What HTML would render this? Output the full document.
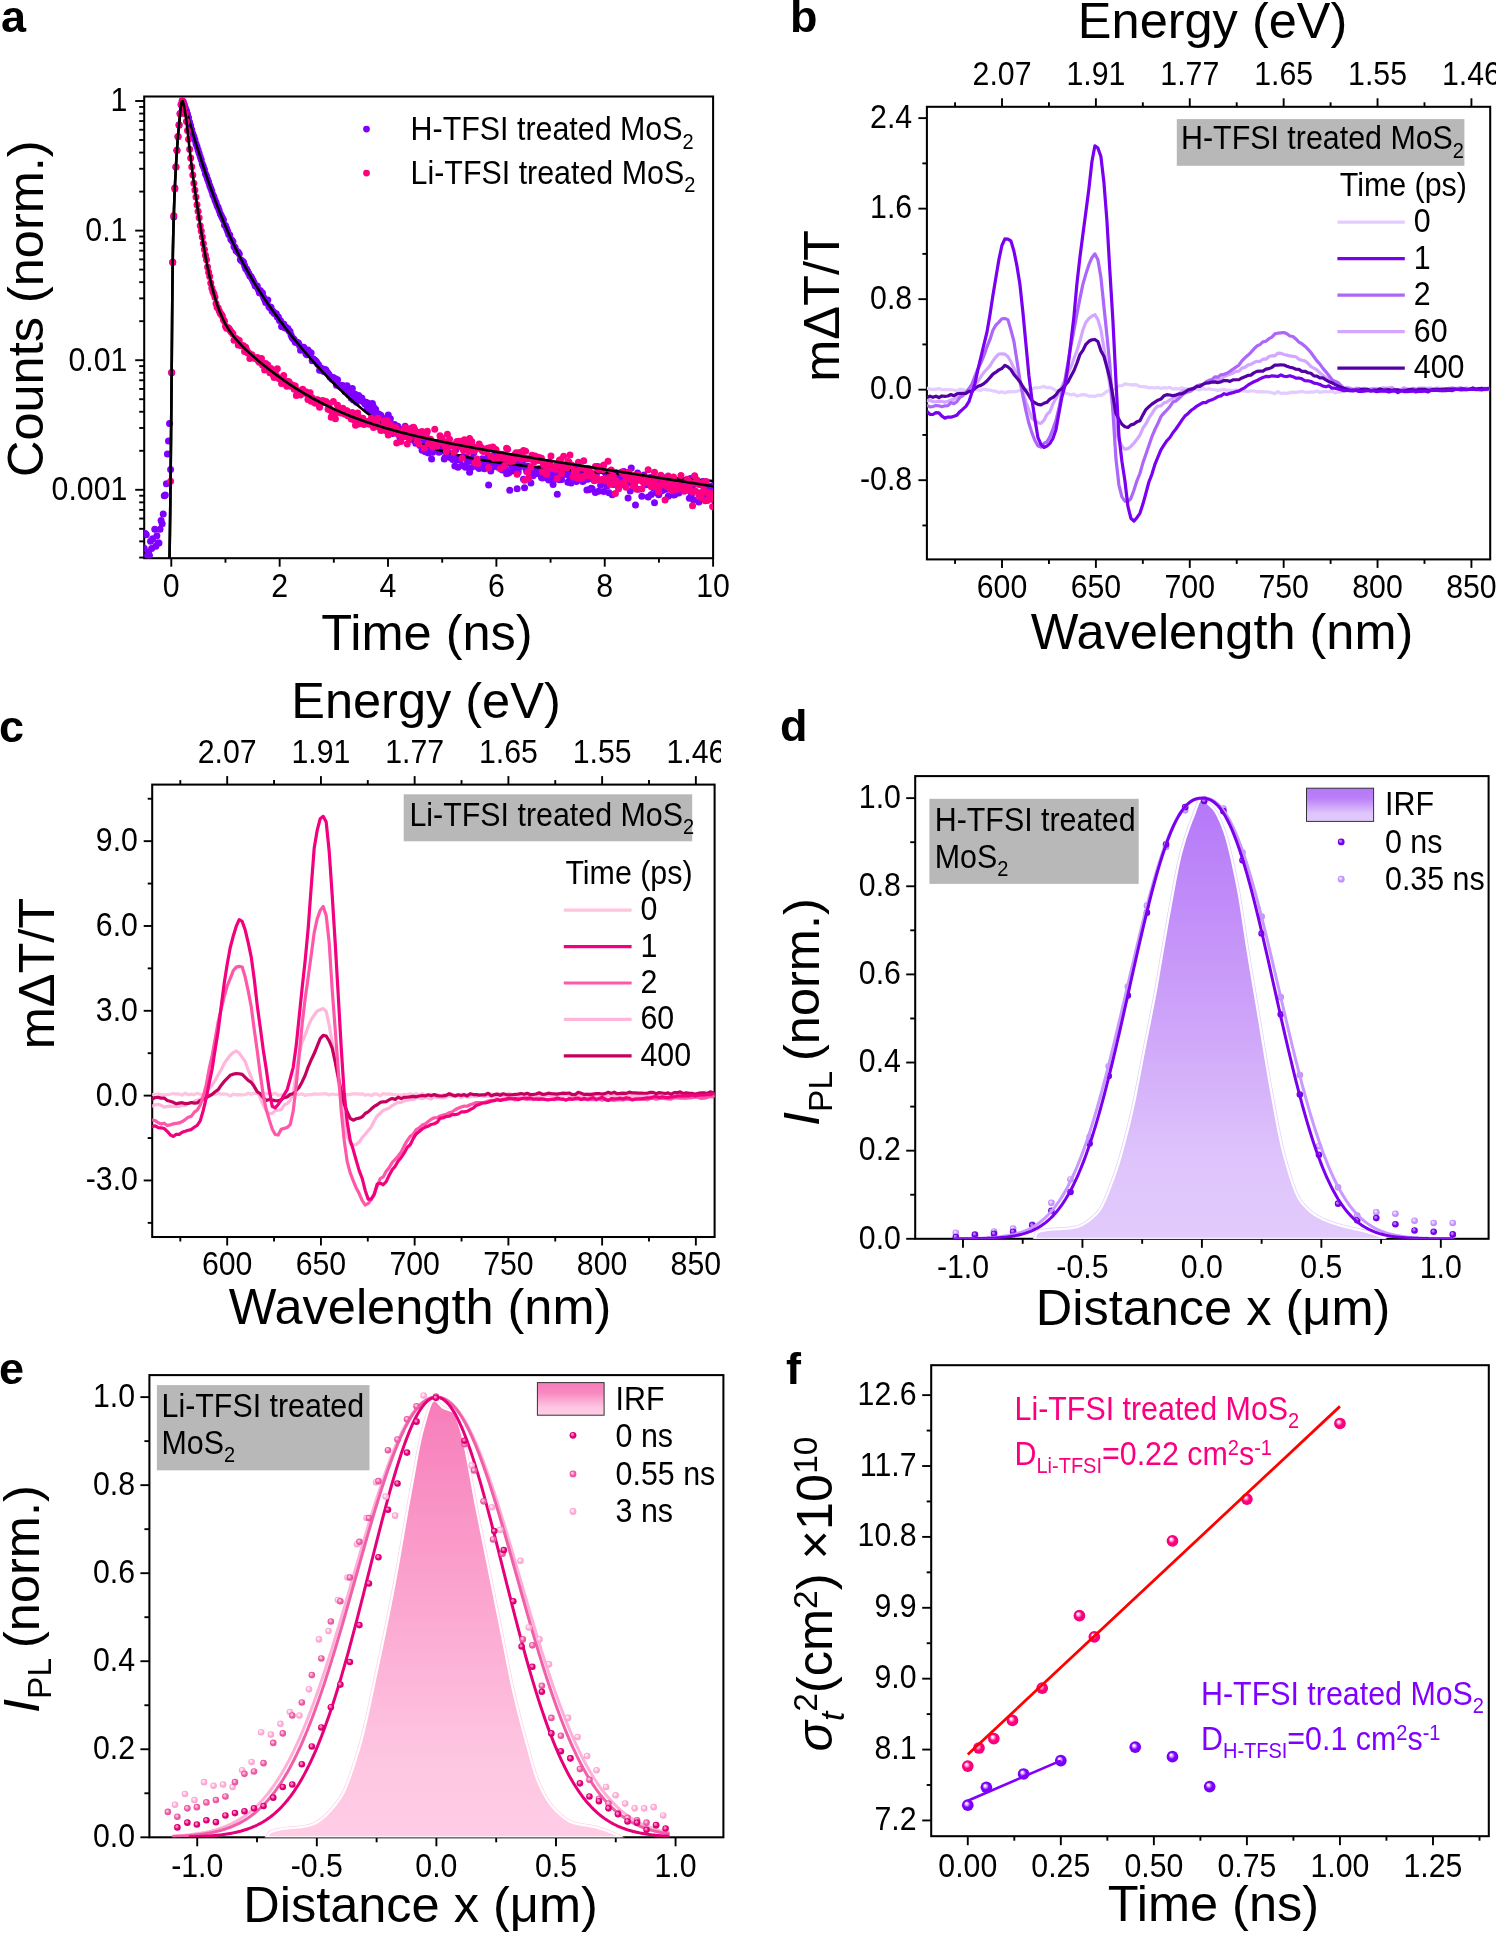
<!DOCTYPE html>
<html><head><meta charset="utf-8"><style>
html,body{margin:0;padding:0;background:#fff;}
svg{display:block;will-change:transform;}
text{font-family:"Liberation Sans", sans-serif;}
</style></head><body>
<svg width="1496" height="1933" viewBox="0 0 1496 1933">
<defs><clipPath id="clipA"><rect x="144.2" y="96.5" width="568.9" height="461.7"/></clipPath>
<clipPath id="clipB"><rect x="926.9" y="106.8" width="563.3" height="452.6"/></clipPath>
<clipPath id="clipCtop"><rect x="0" y="650" width="721" height="200"/></clipPath>
<clipPath id="clipC"><rect x="152.2" y="784.6" width="562.4" height="452.4"/></clipPath>
<clipPath id="clipD"><rect x="915.2" y="776.1" width="573.4" height="462.7"/></clipPath>
<linearGradient id="irfD" x1="0" y1="0" x2="0" y2="1"><stop offset="0" stop-color="#B577F8"/><stop offset="0.55" stop-color="#D0A8F9"/><stop offset="0.82" stop-color="#DEC4FB"/><stop offset="1" stop-color="#E2CAFC"/></linearGradient>
<linearGradient id="irfDbox" x1="0" y1="0" x2="0" y2="1"><stop offset="0" stop-color="#B577F8"/><stop offset="0.3" stop-color="#BA80F8"/><stop offset="0.75" stop-color="#DEC4FB"/><stop offset="1" stop-color="#E2CAFC"/></linearGradient>
<radialGradient id="sD0" cx="0.5" cy="0.5" r="0.5" fx="0.36" fy="0.33"><stop offset="0" stop-color="#FFFFFF"/><stop offset="0.1" stop-color="#FFFFFF"/><stop offset="0.34" stop-color="#B878FF"/><stop offset="0.55" stop-color="#7A00EC"/><stop offset="1" stop-color="#6C00D8"/></radialGradient>
<radialGradient id="sD0s" cx="0.5" cy="0.5" r="0.5" fx="0.34" fy="0.3"><stop offset="0" stop-color="#B878FF"/><stop offset="0.3" stop-color="#B878FF"/><stop offset="0.6" stop-color="#7A00EC"/><stop offset="1" stop-color="#6C00D8"/></radialGradient>
<radialGradient id="sD1" cx="0.5" cy="0.5" r="0.5" fx="0.36" fy="0.33"><stop offset="0" stop-color="#FFFFFF"/><stop offset="0.1" stop-color="#FFFFFF"/><stop offset="0.34" stop-color="#EAD8FF"/><stop offset="0.55" stop-color="#C89AFF"/><stop offset="1" stop-color="#BC88F8"/></radialGradient>
<radialGradient id="sD1s" cx="0.5" cy="0.5" r="0.5" fx="0.34" fy="0.3"><stop offset="0" stop-color="#EAD8FF"/><stop offset="0.3" stop-color="#EAD8FF"/><stop offset="0.6" stop-color="#C89AFF"/><stop offset="1" stop-color="#BC88F8"/></radialGradient>
<clipPath id="clipE"><rect x="149.4" y="1375.1" width="574" height="462.2"/></clipPath>
<linearGradient id="irfE" x1="0" y1="0" x2="0" y2="1"><stop offset="0" stop-color="#F77DBA"/><stop offset="0.55" stop-color="#FCAED4"/><stop offset="0.82" stop-color="#FEC6E2"/><stop offset="1" stop-color="#FFCCE6"/></linearGradient>
<linearGradient id="irfEbox" x1="0" y1="0" x2="0" y2="1"><stop offset="0" stop-color="#F77DBA"/><stop offset="0.3" stop-color="#F887C0"/><stop offset="0.75" stop-color="#FEC6E2"/><stop offset="1" stop-color="#FFCCE6"/></linearGradient>
<radialGradient id="sE0" cx="0.5" cy="0.5" r="0.5" fx="0.36" fy="0.33"><stop offset="0" stop-color="#FFFFFF"/><stop offset="0.1" stop-color="#FFFFFF"/><stop offset="0.34" stop-color="#FF80C0"/><stop offset="0.55" stop-color="#E6007A"/><stop offset="1" stop-color="#D20070"/></radialGradient>
<radialGradient id="sE0s" cx="0.5" cy="0.5" r="0.5" fx="0.34" fy="0.3"><stop offset="0" stop-color="#FF80C0"/><stop offset="0.3" stop-color="#FF80C0"/><stop offset="0.6" stop-color="#E6007A"/><stop offset="1" stop-color="#D20070"/></radialGradient>
<radialGradient id="sE1" cx="0.5" cy="0.5" r="0.5" fx="0.36" fy="0.33"><stop offset="0" stop-color="#FFFFFF"/><stop offset="0.1" stop-color="#FFFFFF"/><stop offset="0.34" stop-color="#FFB8DC"/><stop offset="0.55" stop-color="#F060A8"/><stop offset="1" stop-color="#E4509C"/></radialGradient>
<radialGradient id="sE1s" cx="0.5" cy="0.5" r="0.5" fx="0.34" fy="0.3"><stop offset="0" stop-color="#FFB8DC"/><stop offset="0.3" stop-color="#FFB8DC"/><stop offset="0.6" stop-color="#F060A8"/><stop offset="1" stop-color="#E4509C"/></radialGradient>
<radialGradient id="sE2" cx="0.5" cy="0.5" r="0.5" fx="0.36" fy="0.33"><stop offset="0" stop-color="#FFFFFF"/><stop offset="0.1" stop-color="#FFFFFF"/><stop offset="0.34" stop-color="#FFE4F2"/><stop offset="0.55" stop-color="#FFB0D8"/><stop offset="1" stop-color="#F8A0CC"/></radialGradient>
<radialGradient id="sE2s" cx="0.5" cy="0.5" r="0.5" fx="0.34" fy="0.3"><stop offset="0" stop-color="#FFE4F2"/><stop offset="0.3" stop-color="#FFE4F2"/><stop offset="0.6" stop-color="#FFB0D8"/><stop offset="1" stop-color="#F8A0CC"/></radialGradient>
<radialGradient id="sFp" cx="0.5" cy="0.5" r="0.5" fx="0.36" fy="0.33"><stop offset="0" stop-color="#FFFFFF"/><stop offset="0.1" stop-color="#FFFFFF"/><stop offset="0.34" stop-color="#FF80C0"/><stop offset="0.55" stop-color="#FF0080"/><stop offset="1" stop-color="#F2007A"/></radialGradient>
<radialGradient id="sFps" cx="0.5" cy="0.5" r="0.5" fx="0.34" fy="0.3"><stop offset="0" stop-color="#FF80C0"/><stop offset="0.3" stop-color="#FF80C0"/><stop offset="0.6" stop-color="#FF0080"/><stop offset="1" stop-color="#F2007A"/></radialGradient>
<radialGradient id="sFv" cx="0.5" cy="0.5" r="0.5" fx="0.36" fy="0.33"><stop offset="0" stop-color="#FFFFFF"/><stop offset="0.1" stop-color="#FFFFFF"/><stop offset="0.34" stop-color="#C080FF"/><stop offset="0.55" stop-color="#8000FF"/><stop offset="1" stop-color="#7600F0"/></radialGradient>
<radialGradient id="sFvs" cx="0.5" cy="0.5" r="0.5" fx="0.34" fy="0.3"><stop offset="0" stop-color="#C080FF"/><stop offset="0.3" stop-color="#C080FF"/><stop offset="0.6" stop-color="#8000FF"/><stop offset="1" stop-color="#7600F0"/></radialGradient></defs>
<text x="1" y="31.7" font-size="45" font-weight="bold">a</text>
<rect x="144.2" y="96.5" width="568.9" height="461.7" fill="none" stroke="#000" stroke-width="2.05"/>
<line x1="171.29" y1="558.2" x2="171.29" y2="566.7" stroke="#000" stroke-width="1.9"/>
<text transform="translate(171.29,596.9) scale(1,1.07)" font-size="30.3" text-anchor="middle">0</text>
<line x1="279.65" y1="558.2" x2="279.65" y2="566.7" stroke="#000" stroke-width="1.9"/>
<text transform="translate(279.65,596.9) scale(1,1.07)" font-size="30.3" text-anchor="middle">2</text>
<line x1="388.01" y1="558.2" x2="388.01" y2="566.7" stroke="#000" stroke-width="1.9"/>
<text transform="translate(388.01,596.9) scale(1,1.07)" font-size="30.3" text-anchor="middle">4</text>
<line x1="496.38" y1="558.2" x2="496.38" y2="566.7" stroke="#000" stroke-width="1.9"/>
<text transform="translate(496.38,596.9) scale(1,1.07)" font-size="30.3" text-anchor="middle">6</text>
<line x1="604.74" y1="558.2" x2="604.74" y2="566.7" stroke="#000" stroke-width="1.9"/>
<text transform="translate(604.74,596.9) scale(1,1.07)" font-size="30.3" text-anchor="middle">8</text>
<line x1="713.1" y1="558.2" x2="713.1" y2="566.7" stroke="#000" stroke-width="1.9"/>
<text transform="translate(713.1,596.9) scale(1,1.07)" font-size="30.3" text-anchor="middle">10</text>
<line x1="225.47" y1="558.2" x2="225.47" y2="562.7" stroke="#000" stroke-width="1.9"/>
<line x1="333.83" y1="558.2" x2="333.83" y2="562.7" stroke="#000" stroke-width="1.9"/>
<line x1="442.2" y1="558.2" x2="442.2" y2="562.7" stroke="#000" stroke-width="1.9"/>
<line x1="550.56" y1="558.2" x2="550.56" y2="562.7" stroke="#000" stroke-width="1.9"/>
<line x1="658.92" y1="558.2" x2="658.92" y2="562.7" stroke="#000" stroke-width="1.9"/>
<line x1="135.2" y1="101" x2="144.2" y2="101" stroke="#000" stroke-width="1.9"/>
<text transform="translate(127.4,111.3) scale(1,1.07)" font-size="30.3" text-anchor="end">1</text>
<line x1="135.2" y1="230.6" x2="144.2" y2="230.6" stroke="#000" stroke-width="1.9"/>
<text transform="translate(127.4,240.9) scale(1,1.07)" font-size="30.3" text-anchor="end">0.1</text>
<line x1="135.2" y1="360.2" x2="144.2" y2="360.2" stroke="#000" stroke-width="1.9"/>
<text transform="translate(127.4,370.5) scale(1,1.07)" font-size="30.3" text-anchor="end">0.01</text>
<line x1="135.2" y1="489.8" x2="144.2" y2="489.8" stroke="#000" stroke-width="1.9"/>
<text transform="translate(127.4,500.1) scale(1,1.07)" font-size="30.3" text-anchor="end">0.001</text>
<line x1="139.2" y1="191.59" x2="144.2" y2="191.59" stroke="#000" stroke-width="1.9"/>
<line x1="139.2" y1="168.77" x2="144.2" y2="168.77" stroke="#000" stroke-width="1.9"/>
<line x1="139.2" y1="152.57" x2="144.2" y2="152.57" stroke="#000" stroke-width="1.9"/>
<line x1="139.2" y1="140.01" x2="144.2" y2="140.01" stroke="#000" stroke-width="1.9"/>
<line x1="139.2" y1="129.75" x2="144.2" y2="129.75" stroke="#000" stroke-width="1.9"/>
<line x1="139.2" y1="121.08" x2="144.2" y2="121.08" stroke="#000" stroke-width="1.9"/>
<line x1="139.2" y1="113.56" x2="144.2" y2="113.56" stroke="#000" stroke-width="1.9"/>
<line x1="139.2" y1="106.93" x2="144.2" y2="106.93" stroke="#000" stroke-width="1.9"/>
<line x1="139.2" y1="321.19" x2="144.2" y2="321.19" stroke="#000" stroke-width="1.9"/>
<line x1="139.2" y1="298.37" x2="144.2" y2="298.37" stroke="#000" stroke-width="1.9"/>
<line x1="139.2" y1="282.17" x2="144.2" y2="282.17" stroke="#000" stroke-width="1.9"/>
<line x1="139.2" y1="269.61" x2="144.2" y2="269.61" stroke="#000" stroke-width="1.9"/>
<line x1="139.2" y1="259.35" x2="144.2" y2="259.35" stroke="#000" stroke-width="1.9"/>
<line x1="139.2" y1="250.68" x2="144.2" y2="250.68" stroke="#000" stroke-width="1.9"/>
<line x1="139.2" y1="243.16" x2="144.2" y2="243.16" stroke="#000" stroke-width="1.9"/>
<line x1="139.2" y1="236.53" x2="144.2" y2="236.53" stroke="#000" stroke-width="1.9"/>
<line x1="139.2" y1="450.79" x2="144.2" y2="450.79" stroke="#000" stroke-width="1.9"/>
<line x1="139.2" y1="427.97" x2="144.2" y2="427.97" stroke="#000" stroke-width="1.9"/>
<line x1="139.2" y1="411.77" x2="144.2" y2="411.77" stroke="#000" stroke-width="1.9"/>
<line x1="139.2" y1="399.21" x2="144.2" y2="399.21" stroke="#000" stroke-width="1.9"/>
<line x1="139.2" y1="388.95" x2="144.2" y2="388.95" stroke="#000" stroke-width="1.9"/>
<line x1="139.2" y1="380.28" x2="144.2" y2="380.28" stroke="#000" stroke-width="1.9"/>
<line x1="139.2" y1="372.76" x2="144.2" y2="372.76" stroke="#000" stroke-width="1.9"/>
<line x1="139.2" y1="366.13" x2="144.2" y2="366.13" stroke="#000" stroke-width="1.9"/>
<line x1="139.2" y1="557.57" x2="144.2" y2="557.57" stroke="#000" stroke-width="1.9"/>
<line x1="139.2" y1="541.37" x2="144.2" y2="541.37" stroke="#000" stroke-width="1.9"/>
<line x1="139.2" y1="528.81" x2="144.2" y2="528.81" stroke="#000" stroke-width="1.9"/>
<line x1="139.2" y1="518.55" x2="144.2" y2="518.55" stroke="#000" stroke-width="1.9"/>
<line x1="139.2" y1="509.88" x2="144.2" y2="509.88" stroke="#000" stroke-width="1.9"/>
<line x1="139.2" y1="502.36" x2="144.2" y2="502.36" stroke="#000" stroke-width="1.9"/>
<line x1="139.2" y1="495.73" x2="144.2" y2="495.73" stroke="#000" stroke-width="1.9"/>
<text x="427" y="650.3" font-size="50.5" text-anchor="middle">Time (ns)</text>
<text transform="translate(43,308.7) rotate(-90)" font-size="50.5" text-anchor="middle">Counts (norm.)</text>
<g clip-path="url(#clipA)">
<g fill="#8000FF"><circle cx="144.2" cy="548.15" r="3.5"/><circle cx="145.26" cy="533.41" r="3.5"/><circle cx="146.31" cy="534.71" r="3.5"/><circle cx="147.37" cy="555.4" r="3.5"/><circle cx="148.43" cy="552.32" r="3.5"/><circle cx="149.48" cy="555.41" r="3.5"/><circle cx="150.54" cy="541.24" r="3.5"/><circle cx="151.6" cy="548.51" r="3.5"/><circle cx="152.65" cy="538.68" r="3.5"/><circle cx="154.77" cy="529.29" r="3.5"/><circle cx="155.82" cy="546.24" r="3.5"/><circle cx="156.88" cy="535.75" r="3.5"/><circle cx="157.93" cy="543.02" r="3.5"/><circle cx="158.99" cy="542.99" r="3.5"/><circle cx="160.05" cy="529.3" r="3.5"/><circle cx="161.1" cy="520.59" r="3.5"/><circle cx="162.16" cy="523.7" r="3.5"/><circle cx="163.22" cy="513.95" r="3.5"/><circle cx="164.27" cy="495.84" r="3.5"/><circle cx="165.33" cy="495.01" r="3.5"/><circle cx="166.39" cy="483.85" r="3.5"/><circle cx="167.44" cy="454.01" r="3.5"/><circle cx="168.5" cy="440.98" r="3.5"/><circle cx="169.56" cy="423.38" r="3.5"/><circle cx="170.61" cy="469.45" r="3.5"/><circle cx="171.67" cy="372.73" r="3.5"/><circle cx="172.73" cy="262.38" r="3.5"/><circle cx="173.78" cy="217.1" r="3.5"/><circle cx="174.84" cy="188.04" r="3.5"/><circle cx="175.9" cy="166.89" r="3.5"/><circle cx="176.95" cy="150.29" r="3.5"/><circle cx="178.01" cy="136.64" r="3.5"/><circle cx="179.07" cy="124.85" r="3.5"/><circle cx="180.12" cy="113.41" r="3.5"/><circle cx="181.18" cy="104.42" r="3.5"/><circle cx="182.24" cy="100.84" r="3.5"/><circle cx="183.29" cy="101.82" r="3.5"/><circle cx="184.35" cy="104.74" r="3.5"/><circle cx="185.4" cy="107.89" r="3.5"/><circle cx="186.46" cy="110.78" r="3.5"/><circle cx="187.52" cy="114.34" r="3.5"/><circle cx="188.57" cy="117.8" r="3.5"/><circle cx="189.63" cy="122.22" r="3.5"/><circle cx="190.69" cy="125.85" r="3.5"/><circle cx="191.74" cy="129.78" r="3.5"/><circle cx="192.8" cy="133.65" r="3.5"/><circle cx="193.86" cy="136.54" r="3.5"/><circle cx="194.91" cy="139.86" r="3.5"/><circle cx="195.97" cy="143.74" r="3.5"/><circle cx="197.03" cy="146.39" r="3.5"/><circle cx="198.08" cy="149.95" r="3.5"/><circle cx="199.14" cy="153.37" r="3.5"/><circle cx="200.2" cy="156.76" r="3.5"/><circle cx="201.25" cy="159.82" r="3.5"/><circle cx="202.31" cy="164.02" r="3.5"/><circle cx="203.37" cy="166.42" r="3.5"/><circle cx="204.42" cy="169.61" r="3.5"/><circle cx="205.48" cy="173.84" r="3.5"/><circle cx="206.54" cy="175.99" r="3.5"/><circle cx="207.59" cy="179.36" r="3.5"/><circle cx="208.65" cy="181.91" r="3.5"/><circle cx="209.7" cy="185.54" r="3.5"/><circle cx="210.76" cy="188.31" r="3.5"/><circle cx="211.82" cy="191.07" r="3.5"/><circle cx="212.87" cy="194.65" r="3.5"/><circle cx="213.93" cy="196.71" r="3.5"/><circle cx="214.99" cy="199.95" r="3.5"/><circle cx="216.04" cy="202.41" r="3.5"/><circle cx="217.1" cy="205.79" r="3.5"/><circle cx="218.16" cy="207.53" r="3.5"/><circle cx="219.21" cy="210.52" r="3.5"/><circle cx="220.27" cy="213.69" r="3.5"/><circle cx="221.33" cy="215.78" r="3.5"/><circle cx="222.38" cy="217.94" r="3.5"/><circle cx="223.44" cy="220.12" r="3.5"/><circle cx="224.5" cy="225.02" r="3.5"/><circle cx="225.55" cy="225.73" r="3.5"/><circle cx="226.61" cy="228.49" r="3.5"/><circle cx="227.67" cy="231.33" r="3.5"/><circle cx="228.72" cy="234.44" r="3.5"/><circle cx="229.78" cy="235.01" r="3.5"/><circle cx="230.84" cy="239.36" r="3.5"/><circle cx="231.89" cy="240.15" r="3.5"/><circle cx="232.95" cy="241.79" r="3.5"/><circle cx="234" cy="246.51" r="3.5"/><circle cx="235.06" cy="247.57" r="3.5"/><circle cx="236.12" cy="250.66" r="3.5"/><circle cx="237.17" cy="251.39" r="3.5"/><circle cx="238.23" cy="252.33" r="3.5"/><circle cx="239.29" cy="253.92" r="3.5"/><circle cx="240.34" cy="259.61" r="3.5"/><circle cx="241.4" cy="260.46" r="3.5"/><circle cx="242.46" cy="261.2" r="3.5"/><circle cx="243.51" cy="262.29" r="3.5"/><circle cx="244.57" cy="265.39" r="3.5"/><circle cx="245.63" cy="268.55" r="3.5"/><circle cx="246.68" cy="269.34" r="3.5"/><circle cx="247.74" cy="271.56" r="3.5"/><circle cx="248.8" cy="273.62" r="3.5"/><circle cx="249.85" cy="276.07" r="3.5"/><circle cx="250.91" cy="276.61" r="3.5"/><circle cx="251.97" cy="278.48" r="3.5"/><circle cx="253.02" cy="280.73" r="3.5"/><circle cx="254.08" cy="282.64" r="3.5"/><circle cx="255.14" cy="285.7" r="3.5"/><circle cx="256.19" cy="286.43" r="3.5"/><circle cx="257.25" cy="286.03" r="3.5"/><circle cx="258.31" cy="289.45" r="3.5"/><circle cx="259.36" cy="292.77" r="3.5"/><circle cx="260.42" cy="290.79" r="3.5"/><circle cx="261.47" cy="293.45" r="3.5"/><circle cx="262.53" cy="292.99" r="3.5"/><circle cx="263.59" cy="297.29" r="3.5"/><circle cx="264.64" cy="299.61" r="3.5"/><circle cx="265.7" cy="302.62" r="3.5"/><circle cx="266.76" cy="300.23" r="3.5"/><circle cx="267.81" cy="300.03" r="3.5"/><circle cx="268.87" cy="306.4" r="3.5"/><circle cx="269.93" cy="307.67" r="3.5"/><circle cx="270.98" cy="307.31" r="3.5"/><circle cx="272.04" cy="310.98" r="3.5"/><circle cx="273.1" cy="311.6" r="3.5"/><circle cx="274.15" cy="313.21" r="3.5"/><circle cx="275.21" cy="313.81" r="3.5"/><circle cx="276.27" cy="313.82" r="3.5"/><circle cx="277.32" cy="316.97" r="3.5"/><circle cx="278.38" cy="316.93" r="3.5"/><circle cx="279.44" cy="320.56" r="3.5"/><circle cx="280.49" cy="320.7" r="3.5"/><circle cx="281.55" cy="326.45" r="3.5"/><circle cx="282.61" cy="326.62" r="3.5"/><circle cx="283.66" cy="324.03" r="3.5"/><circle cx="284.72" cy="327.84" r="3.5"/><circle cx="285.77" cy="327.1" r="3.5"/><circle cx="286.83" cy="328.5" r="3.5"/><circle cx="287.89" cy="328.42" r="3.5"/><circle cx="288.94" cy="330.64" r="3.5"/><circle cx="290" cy="331.57" r="3.5"/><circle cx="291.06" cy="334.98" r="3.5"/><circle cx="292.11" cy="337.43" r="3.5"/><circle cx="293.17" cy="338.8" r="3.5"/><circle cx="294.23" cy="339.6" r="3.5"/><circle cx="295.28" cy="342.21" r="3.5"/><circle cx="296.34" cy="342.27" r="3.5"/><circle cx="297.4" cy="342.59" r="3.5"/><circle cx="298.45" cy="343.12" r="3.5"/><circle cx="299.51" cy="345.58" r="3.5"/><circle cx="300.57" cy="350.31" r="3.5"/><circle cx="301.62" cy="347.45" r="3.5"/><circle cx="302.68" cy="348" r="3.5"/><circle cx="303.74" cy="347.35" r="3.5"/><circle cx="304.79" cy="349.59" r="3.5"/><circle cx="305.85" cy="353.47" r="3.5"/><circle cx="306.91" cy="354.83" r="3.5"/><circle cx="307.96" cy="349.92" r="3.5"/><circle cx="309.02" cy="353.74" r="3.5"/><circle cx="310.07" cy="352.48" r="3.5"/><circle cx="311.13" cy="352.9" r="3.5"/><circle cx="312.19" cy="360.77" r="3.5"/><circle cx="313.24" cy="358.97" r="3.5"/><circle cx="314.3" cy="359.87" r="3.5"/><circle cx="315.36" cy="360.69" r="3.5"/><circle cx="316.41" cy="361.78" r="3.5"/><circle cx="317.47" cy="363.65" r="3.5"/><circle cx="318.53" cy="364.75" r="3.5"/><circle cx="319.58" cy="370.16" r="3.5"/><circle cx="320.64" cy="367.66" r="3.5"/><circle cx="321.7" cy="370.2" r="3.5"/><circle cx="322.75" cy="368.91" r="3.5"/><circle cx="323.81" cy="371.46" r="3.5"/><circle cx="324.87" cy="369.59" r="3.5"/><circle cx="325.92" cy="370.02" r="3.5"/><circle cx="326.98" cy="372.3" r="3.5"/><circle cx="328.04" cy="373.22" r="3.5"/><circle cx="329.09" cy="374.75" r="3.5"/><circle cx="330.15" cy="377.19" r="3.5"/><circle cx="331.21" cy="377.31" r="3.5"/><circle cx="332.26" cy="379.17" r="3.5"/><circle cx="333.32" cy="377.58" r="3.5"/><circle cx="334.38" cy="379.52" r="3.5"/><circle cx="335.43" cy="378.8" r="3.5"/><circle cx="336.49" cy="385.31" r="3.5"/><circle cx="337.54" cy="379.67" r="3.5"/><circle cx="338.6" cy="385.36" r="3.5"/><circle cx="339.66" cy="386.15" r="3.5"/><circle cx="340.71" cy="385.37" r="3.5"/><circle cx="341.77" cy="387.35" r="3.5"/><circle cx="342.83" cy="385.6" r="3.5"/><circle cx="343.88" cy="389.09" r="3.5"/><circle cx="344.94" cy="391.53" r="3.5"/><circle cx="346" cy="391.66" r="3.5"/><circle cx="347.05" cy="385.85" r="3.5"/><circle cx="348.11" cy="390.48" r="3.5"/><circle cx="349.17" cy="395.27" r="3.5"/><circle cx="350.22" cy="392.24" r="3.5"/><circle cx="351.28" cy="398.31" r="3.5"/><circle cx="352.34" cy="388.38" r="3.5"/><circle cx="353.39" cy="399.91" r="3.5"/><circle cx="354.45" cy="393.97" r="3.5"/><circle cx="355.51" cy="394.56" r="3.5"/><circle cx="356.56" cy="402.19" r="3.5"/><circle cx="357.62" cy="396.95" r="3.5"/><circle cx="358.68" cy="395.49" r="3.5"/><circle cx="359.73" cy="398" r="3.5"/><circle cx="360.79" cy="399.49" r="3.5"/><circle cx="361.84" cy="398.01" r="3.5"/><circle cx="362.9" cy="401.45" r="3.5"/><circle cx="363.96" cy="401.65" r="3.5"/><circle cx="365.01" cy="404.09" r="3.5"/><circle cx="366.07" cy="402.25" r="3.5"/><circle cx="367.13" cy="408.75" r="3.5"/><circle cx="368.18" cy="403.3" r="3.5"/><circle cx="369.24" cy="408.77" r="3.5"/><circle cx="370.3" cy="411.87" r="3.5"/><circle cx="371.35" cy="407.21" r="3.5"/><circle cx="372.41" cy="403.41" r="3.5"/><circle cx="373.47" cy="406.7" r="3.5"/><circle cx="374.52" cy="412.99" r="3.5"/><circle cx="375.58" cy="409.24" r="3.5"/><circle cx="376.64" cy="414.42" r="3.5"/><circle cx="377.69" cy="413.96" r="3.5"/><circle cx="378.75" cy="413.95" r="3.5"/><circle cx="379.81" cy="424.99" r="3.5"/><circle cx="380.86" cy="415.19" r="3.5"/><circle cx="381.92" cy="420.99" r="3.5"/><circle cx="382.98" cy="420.42" r="3.5"/><circle cx="384.03" cy="424.65" r="3.5"/><circle cx="385.09" cy="425.7" r="3.5"/><circle cx="386.15" cy="423.98" r="3.5"/><circle cx="387.2" cy="417.5" r="3.5"/><circle cx="388.26" cy="415.09" r="3.5"/><circle cx="389.31" cy="422.51" r="3.5"/><circle cx="390.37" cy="418.8" r="3.5"/><circle cx="391.43" cy="425.14" r="3.5"/><circle cx="392.48" cy="433.61" r="3.5"/><circle cx="393.54" cy="424.95" r="3.5"/><circle cx="394.6" cy="424.48" r="3.5"/><circle cx="395.65" cy="429.05" r="3.5"/><circle cx="396.71" cy="426.61" r="3.5"/><circle cx="397.77" cy="426.21" r="3.5"/><circle cx="398.82" cy="433.4" r="3.5"/><circle cx="399.88" cy="437.2" r="3.5"/><circle cx="400.94" cy="431.92" r="3.5"/><circle cx="401.99" cy="432.61" r="3.5"/><circle cx="403.05" cy="433.99" r="3.5"/><circle cx="404.11" cy="428.72" r="3.5"/><circle cx="405.16" cy="426.32" r="3.5"/><circle cx="406.22" cy="436.43" r="3.5"/><circle cx="407.28" cy="431.97" r="3.5"/><circle cx="408.33" cy="431.56" r="3.5"/><circle cx="409.39" cy="433.2" r="3.5"/><circle cx="410.45" cy="432.36" r="3.5"/><circle cx="411.5" cy="439.66" r="3.5"/><circle cx="412.56" cy="434.95" r="3.5"/><circle cx="413.61" cy="430" r="3.5"/><circle cx="414.67" cy="435.86" r="3.5"/><circle cx="415.73" cy="443.35" r="3.5"/><circle cx="416.78" cy="437.92" r="3.5"/><circle cx="417.84" cy="435.5" r="3.5"/><circle cx="418.9" cy="440.18" r="3.5"/><circle cx="419.95" cy="445.42" r="3.5"/><circle cx="421.01" cy="435.84" r="3.5"/><circle cx="422.07" cy="450.3" r="3.5"/><circle cx="423.12" cy="441.67" r="3.5"/><circle cx="424.18" cy="444.76" r="3.5"/><circle cx="425.24" cy="451.64" r="3.5"/><circle cx="426.29" cy="439.76" r="3.5"/><circle cx="427.35" cy="444.42" r="3.5"/><circle cx="428.41" cy="453.06" r="3.5"/><circle cx="429.46" cy="444.1" r="3.5"/><circle cx="430.52" cy="449.91" r="3.5"/><circle cx="431.58" cy="459.04" r="3.5"/><circle cx="432.63" cy="452.26" r="3.5"/><circle cx="433.69" cy="447.58" r="3.5"/><circle cx="434.75" cy="446.12" r="3.5"/><circle cx="435.8" cy="448.94" r="3.5"/><circle cx="436.86" cy="450" r="3.5"/><circle cx="437.91" cy="448.18" r="3.5"/><circle cx="438.97" cy="452.2" r="3.5"/><circle cx="440.03" cy="445.43" r="3.5"/><circle cx="441.08" cy="451.04" r="3.5"/><circle cx="442.14" cy="450.65" r="3.5"/><circle cx="443.2" cy="449.73" r="3.5"/><circle cx="444.25" cy="459.08" r="3.5"/><circle cx="445.31" cy="457.37" r="3.5"/><circle cx="446.37" cy="445.85" r="3.5"/><circle cx="447.42" cy="452.23" r="3.5"/><circle cx="448.48" cy="455.99" r="3.5"/><circle cx="449.54" cy="452.88" r="3.5"/><circle cx="450.59" cy="457.84" r="3.5"/><circle cx="451.65" cy="453.88" r="3.5"/><circle cx="452.71" cy="459.61" r="3.5"/><circle cx="453.76" cy="454.54" r="3.5"/><circle cx="454.82" cy="466.08" r="3.5"/><circle cx="455.88" cy="449.64" r="3.5"/><circle cx="456.93" cy="460.01" r="3.5"/><circle cx="457.99" cy="467.13" r="3.5"/><circle cx="459.05" cy="458.92" r="3.5"/><circle cx="460.1" cy="460.1" r="3.5"/><circle cx="461.16" cy="457.36" r="3.5"/><circle cx="462.22" cy="465.53" r="3.5"/><circle cx="463.27" cy="456.57" r="3.5"/><circle cx="464.33" cy="441.3" r="3.5"/><circle cx="465.38" cy="467.33" r="3.5"/><circle cx="466.44" cy="457.74" r="3.5"/><circle cx="467.5" cy="461.78" r="3.5"/><circle cx="468.55" cy="459.1" r="3.5"/><circle cx="469.61" cy="472.23" r="3.5"/><circle cx="470.67" cy="467.95" r="3.5"/><circle cx="471.72" cy="458.38" r="3.5"/><circle cx="472.78" cy="461.51" r="3.5"/><circle cx="473.84" cy="452.63" r="3.5"/><circle cx="474.89" cy="466.14" r="3.5"/><circle cx="475.95" cy="461.03" r="3.5"/><circle cx="477.01" cy="447.21" r="3.5"/><circle cx="478.06" cy="467.32" r="3.5"/><circle cx="479.12" cy="468.48" r="3.5"/><circle cx="480.18" cy="463.27" r="3.5"/><circle cx="481.23" cy="463.57" r="3.5"/><circle cx="482.29" cy="458.68" r="3.5"/><circle cx="483.35" cy="463" r="3.5"/><circle cx="484.4" cy="468.78" r="3.5"/><circle cx="485.46" cy="462.98" r="3.5"/><circle cx="486.52" cy="450.4" r="3.5"/><circle cx="487.57" cy="457.47" r="3.5"/><circle cx="488.63" cy="485.07" r="3.5"/><circle cx="489.68" cy="466.03" r="3.5"/><circle cx="490.74" cy="471" r="3.5"/><circle cx="491.8" cy="461.92" r="3.5"/><circle cx="492.85" cy="466.89" r="3.5"/><circle cx="493.91" cy="455.26" r="3.5"/><circle cx="494.97" cy="460.79" r="3.5"/><circle cx="496.02" cy="461.22" r="3.5"/><circle cx="497.08" cy="465.53" r="3.5"/><circle cx="498.14" cy="467.13" r="3.5"/><circle cx="499.19" cy="465.01" r="3.5"/><circle cx="500.25" cy="459.77" r="3.5"/><circle cx="501.31" cy="464.26" r="3.5"/><circle cx="502.36" cy="469.92" r="3.5"/><circle cx="503.42" cy="460.44" r="3.5"/><circle cx="504.48" cy="466.89" r="3.5"/><circle cx="505.53" cy="468.77" r="3.5"/><circle cx="506.59" cy="473.67" r="3.5"/><circle cx="507.65" cy="472.33" r="3.5"/><circle cx="508.7" cy="473" r="3.5"/><circle cx="509.76" cy="490.17" r="3.5"/><circle cx="510.82" cy="463.13" r="3.5"/><circle cx="511.87" cy="465.92" r="3.5"/><circle cx="512.93" cy="470.95" r="3.5"/><circle cx="513.99" cy="463.47" r="3.5"/><circle cx="515.04" cy="467.21" r="3.5"/><circle cx="516.1" cy="467.78" r="3.5"/><circle cx="517.15" cy="488.81" r="3.5"/><circle cx="518.21" cy="471.95" r="3.5"/><circle cx="519.27" cy="467.31" r="3.5"/><circle cx="520.32" cy="461.31" r="3.5"/><circle cx="521.38" cy="460.22" r="3.5"/><circle cx="522.44" cy="462.62" r="3.5"/><circle cx="523.49" cy="479.3" r="3.5"/><circle cx="524.55" cy="487.75" r="3.5"/><circle cx="525.61" cy="468.02" r="3.5"/><circle cx="526.66" cy="471.57" r="3.5"/><circle cx="527.72" cy="465.99" r="3.5"/><circle cx="528.78" cy="472.88" r="3.5"/><circle cx="529.83" cy="470.8" r="3.5"/><circle cx="530.89" cy="483.07" r="3.5"/><circle cx="531.95" cy="469.67" r="3.5"/><circle cx="533" cy="475.63" r="3.5"/><circle cx="534.06" cy="470.56" r="3.5"/><circle cx="535.12" cy="470.02" r="3.5"/><circle cx="536.17" cy="473.86" r="3.5"/><circle cx="537.23" cy="471.2" r="3.5"/><circle cx="538.29" cy="473.46" r="3.5"/><circle cx="539.34" cy="468.74" r="3.5"/><circle cx="540.4" cy="470.45" r="3.5"/><circle cx="541.45" cy="477.51" r="3.5"/><circle cx="542.51" cy="477.94" r="3.5"/><circle cx="543.57" cy="463.59" r="3.5"/><circle cx="544.62" cy="474.87" r="3.5"/><circle cx="545.68" cy="468.12" r="3.5"/><circle cx="546.74" cy="471.91" r="3.5"/><circle cx="547.79" cy="478.46" r="3.5"/><circle cx="548.85" cy="479.92" r="3.5"/><circle cx="549.91" cy="474.05" r="3.5"/><circle cx="550.96" cy="473.29" r="3.5"/><circle cx="552.02" cy="471.15" r="3.5"/><circle cx="553.08" cy="484.38" r="3.5"/><circle cx="554.13" cy="479.47" r="3.5"/><circle cx="555.19" cy="476.11" r="3.5"/><circle cx="556.25" cy="465.79" r="3.5"/><circle cx="557.3" cy="494.27" r="3.5"/><circle cx="558.36" cy="472.97" r="3.5"/><circle cx="559.42" cy="479.7" r="3.5"/><circle cx="560.47" cy="473.25" r="3.5"/><circle cx="561.53" cy="479.61" r="3.5"/><circle cx="562.59" cy="473.91" r="3.5"/><circle cx="563.64" cy="466.76" r="3.5"/><circle cx="564.7" cy="474.21" r="3.5"/><circle cx="565.75" cy="473.81" r="3.5"/><circle cx="566.81" cy="474.31" r="3.5"/><circle cx="567.87" cy="482.21" r="3.5"/><circle cx="568.92" cy="473.44" r="3.5"/><circle cx="569.98" cy="478.55" r="3.5"/><circle cx="571.04" cy="483.03" r="3.5"/><circle cx="572.09" cy="477.6" r="3.5"/><circle cx="573.15" cy="479.02" r="3.5"/><circle cx="574.21" cy="472.65" r="3.5"/><circle cx="575.26" cy="477.96" r="3.5"/><circle cx="576.32" cy="481.51" r="3.5"/><circle cx="577.38" cy="468.74" r="3.5"/><circle cx="578.43" cy="471.62" r="3.5"/><circle cx="579.49" cy="470.03" r="3.5"/><circle cx="580.55" cy="474.2" r="3.5"/><circle cx="581.6" cy="479.08" r="3.5"/><circle cx="582.66" cy="481.38" r="3.5"/><circle cx="583.72" cy="480.49" r="3.5"/><circle cx="584.77" cy="472.48" r="3.5"/><circle cx="585.83" cy="477.98" r="3.5"/><circle cx="586.89" cy="490.12" r="3.5"/><circle cx="587.94" cy="479.22" r="3.5"/><circle cx="589" cy="489.79" r="3.5"/><circle cx="590.06" cy="478.03" r="3.5"/><circle cx="591.11" cy="488.27" r="3.5"/><circle cx="592.17" cy="488.87" r="3.5"/><circle cx="593.22" cy="478.66" r="3.5"/><circle cx="594.28" cy="480.12" r="3.5"/><circle cx="595.34" cy="492.57" r="3.5"/><circle cx="596.39" cy="474.81" r="3.5"/><circle cx="597.45" cy="466.55" r="3.5"/><circle cx="598.51" cy="491.36" r="3.5"/><circle cx="599.56" cy="468.65" r="3.5"/><circle cx="600.62" cy="485.19" r="3.5"/><circle cx="601.68" cy="483.84" r="3.5"/><circle cx="602.73" cy="481.64" r="3.5"/><circle cx="603.79" cy="491.61" r="3.5"/><circle cx="604.85" cy="472.16" r="3.5"/><circle cx="605.9" cy="477.33" r="3.5"/><circle cx="606.96" cy="486.3" r="3.5"/><circle cx="608.02" cy="482.85" r="3.5"/><circle cx="609.07" cy="492.77" r="3.5"/><circle cx="610.13" cy="483.57" r="3.5"/><circle cx="611.19" cy="474.95" r="3.5"/><circle cx="612.24" cy="494.85" r="3.5"/><circle cx="613.3" cy="484.52" r="3.5"/><circle cx="614.36" cy="480.44" r="3.5"/><circle cx="615.41" cy="474.61" r="3.5"/><circle cx="616.47" cy="472.86" r="3.5"/><circle cx="617.52" cy="485.08" r="3.5"/><circle cx="618.58" cy="487.35" r="3.5"/><circle cx="619.64" cy="478.85" r="3.5"/><circle cx="620.69" cy="484.68" r="3.5"/><circle cx="621.75" cy="484.38" r="3.5"/><circle cx="622.81" cy="475.05" r="3.5"/><circle cx="623.86" cy="471.45" r="3.5"/><circle cx="624.92" cy="480.57" r="3.5"/><circle cx="625.98" cy="483.91" r="3.5"/><circle cx="627.03" cy="478.69" r="3.5"/><circle cx="628.09" cy="498.09" r="3.5"/><circle cx="629.15" cy="482.94" r="3.5"/><circle cx="630.2" cy="491.04" r="3.5"/><circle cx="631.26" cy="468.09" r="3.5"/><circle cx="632.32" cy="478.17" r="3.5"/><circle cx="633.37" cy="482.19" r="3.5"/><circle cx="634.43" cy="484.69" r="3.5"/><circle cx="635.49" cy="505.11" r="3.5"/><circle cx="636.54" cy="478.58" r="3.5"/><circle cx="637.6" cy="472.94" r="3.5"/><circle cx="638.66" cy="489.16" r="3.5"/><circle cx="639.71" cy="479.04" r="3.5"/><circle cx="640.77" cy="478.87" r="3.5"/><circle cx="641.82" cy="496.37" r="3.5"/><circle cx="642.88" cy="477.66" r="3.5"/><circle cx="643.94" cy="475.12" r="3.5"/><circle cx="644.99" cy="482.6" r="3.5"/><circle cx="646.05" cy="484.78" r="3.5"/><circle cx="647.11" cy="478.98" r="3.5"/><circle cx="648.16" cy="496.94" r="3.5"/><circle cx="649.22" cy="483.93" r="3.5"/><circle cx="650.28" cy="477.52" r="3.5"/><circle cx="651.33" cy="494.61" r="3.5"/><circle cx="652.39" cy="478.09" r="3.5"/><circle cx="653.45" cy="488.1" r="3.5"/><circle cx="654.5" cy="502.7" r="3.5"/><circle cx="655.56" cy="485.93" r="3.5"/><circle cx="656.62" cy="492.82" r="3.5"/><circle cx="657.67" cy="483.06" r="3.5"/><circle cx="658.73" cy="494.72" r="3.5"/><circle cx="659.79" cy="478.33" r="3.5"/><circle cx="660.84" cy="491.3" r="3.5"/><circle cx="661.9" cy="483.16" r="3.5"/><circle cx="662.96" cy="490.33" r="3.5"/><circle cx="664.01" cy="488.32" r="3.5"/><circle cx="665.07" cy="477.86" r="3.5"/><circle cx="666.13" cy="484.52" r="3.5"/><circle cx="667.18" cy="489.16" r="3.5"/><circle cx="668.24" cy="496.32" r="3.5"/><circle cx="669.29" cy="478.41" r="3.5"/><circle cx="670.35" cy="481.3" r="3.5"/><circle cx="671.41" cy="489" r="3.5"/><circle cx="672.46" cy="484.87" r="3.5"/><circle cx="673.52" cy="494.9" r="3.5"/><circle cx="674.58" cy="494.87" r="3.5"/><circle cx="675.63" cy="493.38" r="3.5"/><circle cx="676.69" cy="484.45" r="3.5"/><circle cx="677.75" cy="484.94" r="3.5"/><circle cx="678.8" cy="493" r="3.5"/><circle cx="679.86" cy="482.05" r="3.5"/><circle cx="680.92" cy="481.82" r="3.5"/><circle cx="681.97" cy="486.19" r="3.5"/><circle cx="683.03" cy="480.31" r="3.5"/><circle cx="684.09" cy="489.83" r="3.5"/><circle cx="685.14" cy="488.59" r="3.5"/><circle cx="686.2" cy="484.41" r="3.5"/><circle cx="687.26" cy="488.17" r="3.5"/><circle cx="688.31" cy="482.37" r="3.5"/><circle cx="689.37" cy="498.35" r="3.5"/><circle cx="690.43" cy="478.43" r="3.5"/><circle cx="691.48" cy="494.46" r="3.5"/><circle cx="692.54" cy="489.63" r="3.5"/><circle cx="693.59" cy="499.88" r="3.5"/><circle cx="694.65" cy="484.23" r="3.5"/><circle cx="695.71" cy="479.81" r="3.5"/><circle cx="696.76" cy="481.22" r="3.5"/><circle cx="697.82" cy="482.89" r="3.5"/><circle cx="698.88" cy="502.07" r="3.5"/><circle cx="699.93" cy="495.24" r="3.5"/><circle cx="700.99" cy="492.71" r="3.5"/><circle cx="702.05" cy="496.74" r="3.5"/><circle cx="703.1" cy="481.39" r="3.5"/><circle cx="704.16" cy="488" r="3.5"/><circle cx="705.22" cy="489.66" r="3.5"/><circle cx="706.27" cy="485.99" r="3.5"/><circle cx="707.33" cy="497.37" r="3.5"/><circle cx="708.39" cy="497.1" r="3.5"/><circle cx="709.44" cy="496.96" r="3.5"/><circle cx="710.5" cy="486.27" r="3.5"/><circle cx="711.56" cy="487.48" r="3.5"/><circle cx="712.61" cy="485.87" r="3.5"/></g>
<polyline points="168.04,645.32 168.31,639.23 168.58,625.36 168.85,606.77 169.12,586.49 169.39,567.56 169.67,549.95 169.94,531.33 170.21,511.27 170.48,489.18 170.75,464.49 171.02,438.36 171.29,412.04 171.56,383.75 171.83,352.56 172.1,321.04 172.37,291.74 172.64,267.22 172.92,250.04 173.19,238.07 173.46,227.4 173.73,217.88 174,209.38 174.27,201.76 174.54,194.9 174.81,188.66 175.08,182.9 175.35,177.48 175.62,172.28 175.9,167.28 176.17,162.54 176.44,158.06 176.71,153.82 176.98,149.81 177.25,146.01 177.52,142.41 177.79,139 178.06,135.75 178.33,132.67 178.6,129.73 178.88,126.92 179.15,124.1 179.42,121.18 179.69,118.23 179.96,115.31 180.23,112.49 180.5,109.84 180.77,107.41 181.04,105.28 181.31,103.5 181.58,102.16 181.86,101.3 182.13,101 182.4,100.98 182.67,101.14 182.94,101.46 183.21,101.91 183.48,102.47 183.75,103.1 184.02,103.8 184.29,104.54 184.56,105.3 184.84,106.08 185.11,106.85 185.38,107.61 185.65,108.37 185.92,109.18 186.19,110.01 186.46,110.87 186.73,111.75 187,112.65 187.27,113.57 187.54,114.5 190.25,124.08 192.96,133.63 195.67,142.51 198.38,151.21 201.09,159.7 203.8,168 206.51,176.07 209.22,183.92 211.93,191.55 214.64,198.94 217.34,206.1 220.05,213.03 222.76,219.72 225.47,226.19 228.18,232.42 230.89,238.44 233.6,244.25 236.31,249.86 239.02,255.28 241.73,260.52 244.43,265.58 247.14,270.48 249.85,275.24 252.56,279.85 255.27,284.34 257.98,288.7 260.69,292.96 263.4,297.11 266.11,301.17 268.82,305.14 271.53,309.03 274.23,312.85 276.94,316.6 279.65,320.28 282.36,323.9 285.07,327.46 287.78,330.97 290.49,334.42 293.2,337.83 295.91,341.19 298.62,344.5 301.32,347.77 304.03,350.99 306.74,354.17 309.45,357.3 312.16,360.39 314.87,363.44 317.58,366.44 320.29,369.4 323,372.32 325.71,375.19 328.42,378.01 331.12,380.79 333.83,383.52 336.54,386.2 339.25,388.84 341.96,391.43 344.67,393.96 347.38,396.45 350.09,398.88 352.8,401.27 355.51,403.6 358.21,405.87 360.92,408.1 363.63,410.27 366.34,412.38 369.05,414.44 371.76,416.45 374.47,418.4 377.18,420.3 379.89,422.14 382.6,423.93 385.31,425.67 388.01,427.35 390.72,428.98 393.43,430.55 396.14,432.08 398.85,433.55 401.56,434.97 404.27,436.35 406.98,437.67 409.69,438.95 412.4,440.19 415.1,441.37 417.81,442.52 420.52,443.62 423.23,444.68 425.94,445.7 428.65,446.69 431.36,447.63 434.07,448.54 436.78,449.42 439.49,450.26 442.2,451.07 444.9,451.85 447.61,452.59 450.32,453.31 453.03,454.01 455.74,454.67 458.45,455.32 461.16,455.93 463.87,456.53 466.58,457.1 469.29,457.66 471.99,458.19 474.7,458.71 477.41,459.21 480.12,459.69 482.83,460.15 485.54,460.6 488.25,461.04 490.96,461.46 493.67,461.87 496.38,462.26 499.09,462.65 501.79,463.02 504.5,463.39 507.21,463.74 509.92,464.08 512.63,464.42 515.34,464.75 518.05,465.07 520.76,465.38 523.47,465.68 526.18,465.98 528.88,466.28 531.59,466.56 534.3,466.84 537.01,467.12 539.72,467.39 542.43,467.66 545.14,467.92 547.85,468.18 550.56,468.43 553.27,468.68 555.98,468.93 558.68,469.17 561.39,469.42 564.1,469.65 566.81,469.89 569.52,470.12 572.23,470.35 574.94,470.58 577.65,470.81 580.36,471.03 583.07,471.25 585.77,471.47 588.48,471.69 591.19,471.91 593.9,472.13 596.61,472.34 599.32,472.55 602.03,472.77 604.74,472.98 607.45,473.19 610.16,473.4 612.87,473.6 615.57,473.81 618.28,474.02 620.99,474.22 623.7,474.43 626.41,474.63 629.12,474.83 631.83,475.04 634.54,475.24 637.25,475.44 639.96,475.64 642.66,475.84 645.37,476.04 648.08,476.24 650.79,476.44 653.5,476.64 656.21,476.84 658.92,477.04 661.63,477.23 664.34,477.43 667.05,477.63 669.76,477.82 672.46,478.02 675.17,478.22 677.88,478.41 680.59,478.61 683.3,478.81 686.01,479 688.72,479.2 691.43,479.39 694.14,479.59 696.85,479.78 699.55,479.98 702.26,480.17 704.97,480.37 707.68,480.56 710.39,480.76 713.1,480.95" fill="none" stroke="#000" stroke-width="2.6" stroke-linejoin="round" stroke-linecap="round"/>
<g fill="#FF0080"><circle cx="170.61" cy="481.28" r="3.5"/><circle cx="171.67" cy="372.23" r="3.5"/><circle cx="172.73" cy="261.91" r="3.5"/><circle cx="173.78" cy="215.59" r="3.5"/><circle cx="174.84" cy="188.9" r="3.5"/><circle cx="175.9" cy="166.92" r="3.5"/><circle cx="176.95" cy="150.44" r="3.5"/><circle cx="178.01" cy="136.57" r="3.5"/><circle cx="179.07" cy="125.36" r="3.5"/><circle cx="180.12" cy="113.64" r="3.5"/><circle cx="181.18" cy="104.4" r="3.5"/><circle cx="182.24" cy="100.91" r="3.5"/><circle cx="183.29" cy="103.07" r="3.5"/><circle cx="184.35" cy="107.88" r="3.5"/><circle cx="185.4" cy="113.7" r="3.5"/><circle cx="186.46" cy="121.54" r="3.5"/><circle cx="187.52" cy="130.54" r="3.5"/><circle cx="188.57" cy="139.36" r="3.5"/><circle cx="189.63" cy="149.17" r="3.5"/><circle cx="190.69" cy="158.08" r="3.5"/><circle cx="191.74" cy="166.77" r="3.5"/><circle cx="192.8" cy="174.98" r="3.5"/><circle cx="193.86" cy="183.35" r="3.5"/><circle cx="194.91" cy="190.04" r="3.5"/><circle cx="195.97" cy="196.91" r="3.5"/><circle cx="197.03" cy="204.69" r="3.5"/><circle cx="198.08" cy="211.27" r="3.5"/><circle cx="199.14" cy="217.83" r="3.5"/><circle cx="200.2" cy="225.67" r="3.5"/><circle cx="201.25" cy="230.95" r="3.5"/><circle cx="202.31" cy="237" r="3.5"/><circle cx="203.37" cy="243.61" r="3.5"/><circle cx="204.42" cy="249.5" r="3.5"/><circle cx="205.48" cy="255.3" r="3.5"/><circle cx="206.54" cy="259.69" r="3.5"/><circle cx="207.59" cy="267.04" r="3.5"/><circle cx="208.65" cy="272.33" r="3.5"/><circle cx="209.7" cy="276.49" r="3.5"/><circle cx="210.76" cy="282.89" r="3.5"/><circle cx="211.82" cy="288.12" r="3.5"/><circle cx="212.87" cy="291.44" r="3.5"/><circle cx="213.93" cy="293.68" r="3.5"/><circle cx="214.99" cy="297.2" r="3.5"/><circle cx="216.04" cy="303.52" r="3.5"/><circle cx="217.1" cy="307.35" r="3.5"/><circle cx="218.16" cy="308.04" r="3.5"/><circle cx="219.21" cy="310.7" r="3.5"/><circle cx="220.27" cy="313.16" r="3.5"/><circle cx="221.33" cy="314.52" r="3.5"/><circle cx="222.38" cy="315.96" r="3.5"/><circle cx="223.44" cy="319.78" r="3.5"/><circle cx="224.5" cy="321.21" r="3.5"/><circle cx="225.55" cy="326.16" r="3.5"/><circle cx="226.61" cy="328.2" r="3.5"/><circle cx="227.67" cy="327.42" r="3.5"/><circle cx="228.72" cy="328.31" r="3.5"/><circle cx="229.78" cy="329.78" r="3.5"/><circle cx="230.84" cy="331.53" r="3.5"/><circle cx="231.89" cy="332.62" r="3.5"/><circle cx="232.95" cy="333.95" r="3.5"/><circle cx="234" cy="340.36" r="3.5"/><circle cx="235.06" cy="339.61" r="3.5"/><circle cx="236.12" cy="338.49" r="3.5"/><circle cx="237.17" cy="339.42" r="3.5"/><circle cx="238.23" cy="344.97" r="3.5"/><circle cx="239.29" cy="340.59" r="3.5"/><circle cx="240.34" cy="345" r="3.5"/><circle cx="241.4" cy="345.67" r="3.5"/><circle cx="242.46" cy="345.68" r="3.5"/><circle cx="243.51" cy="345.74" r="3.5"/><circle cx="244.57" cy="351.54" r="3.5"/><circle cx="245.63" cy="347.26" r="3.5"/><circle cx="246.68" cy="350.22" r="3.5"/><circle cx="247.74" cy="353.12" r="3.5"/><circle cx="248.8" cy="352.98" r="3.5"/><circle cx="249.85" cy="358.49" r="3.5"/><circle cx="250.91" cy="355.78" r="3.5"/><circle cx="251.97" cy="354.81" r="3.5"/><circle cx="253.02" cy="357.83" r="3.5"/><circle cx="254.08" cy="357.86" r="3.5"/><circle cx="255.14" cy="358.35" r="3.5"/><circle cx="256.19" cy="358.8" r="3.5"/><circle cx="257.25" cy="357.42" r="3.5"/><circle cx="258.31" cy="360.76" r="3.5"/><circle cx="259.36" cy="362.22" r="3.5"/><circle cx="260.42" cy="361.16" r="3.5"/><circle cx="261.47" cy="358.43" r="3.5"/><circle cx="262.53" cy="365.05" r="3.5"/><circle cx="263.59" cy="363.78" r="3.5"/><circle cx="264.64" cy="370.03" r="3.5"/><circle cx="265.7" cy="363.42" r="3.5"/><circle cx="266.76" cy="365.92" r="3.5"/><circle cx="267.81" cy="365.07" r="3.5"/><circle cx="268.87" cy="369.39" r="3.5"/><circle cx="269.93" cy="372.85" r="3.5"/><circle cx="270.98" cy="368.58" r="3.5"/><circle cx="272.04" cy="369.7" r="3.5"/><circle cx="273.1" cy="374.84" r="3.5"/><circle cx="274.15" cy="377.38" r="3.5"/><circle cx="275.21" cy="372.85" r="3.5"/><circle cx="276.27" cy="375.31" r="3.5"/><circle cx="277.32" cy="368.85" r="3.5"/><circle cx="278.38" cy="378.11" r="3.5"/><circle cx="279.44" cy="378.64" r="3.5"/><circle cx="280.49" cy="378.22" r="3.5"/><circle cx="281.55" cy="383.58" r="3.5"/><circle cx="282.61" cy="382" r="3.5"/><circle cx="283.66" cy="375.62" r="3.5"/><circle cx="284.72" cy="381.27" r="3.5"/><circle cx="285.77" cy="383.41" r="3.5"/><circle cx="286.83" cy="386.18" r="3.5"/><circle cx="287.89" cy="381.38" r="3.5"/><circle cx="288.94" cy="381.86" r="3.5"/><circle cx="290" cy="383.72" r="3.5"/><circle cx="291.06" cy="386.36" r="3.5"/><circle cx="292.11" cy="384.96" r="3.5"/><circle cx="293.17" cy="385.42" r="3.5"/><circle cx="294.23" cy="389.37" r="3.5"/><circle cx="295.28" cy="386.05" r="3.5"/><circle cx="296.34" cy="395.55" r="3.5"/><circle cx="297.4" cy="393.42" r="3.5"/><circle cx="298.45" cy="390.89" r="3.5"/><circle cx="299.51" cy="390.93" r="3.5"/><circle cx="300.57" cy="395.04" r="3.5"/><circle cx="301.62" cy="390.85" r="3.5"/><circle cx="302.68" cy="389.24" r="3.5"/><circle cx="303.74" cy="391.72" r="3.5"/><circle cx="304.79" cy="393.06" r="3.5"/><circle cx="305.85" cy="391.77" r="3.5"/><circle cx="306.91" cy="393.72" r="3.5"/><circle cx="307.96" cy="399.52" r="3.5"/><circle cx="309.02" cy="396.91" r="3.5"/><circle cx="310.07" cy="392.71" r="3.5"/><circle cx="311.13" cy="401.37" r="3.5"/><circle cx="312.19" cy="397.82" r="3.5"/><circle cx="313.24" cy="399.94" r="3.5"/><circle cx="314.3" cy="402.32" r="3.5"/><circle cx="315.36" cy="403.33" r="3.5"/><circle cx="316.41" cy="399.99" r="3.5"/><circle cx="317.47" cy="399.82" r="3.5"/><circle cx="318.53" cy="400.4" r="3.5"/><circle cx="319.58" cy="407.28" r="3.5"/><circle cx="320.64" cy="403.58" r="3.5"/><circle cx="321.7" cy="401.9" r="3.5"/><circle cx="322.75" cy="400.39" r="3.5"/><circle cx="323.81" cy="401.84" r="3.5"/><circle cx="324.87" cy="401.81" r="3.5"/><circle cx="325.92" cy="401.43" r="3.5"/><circle cx="326.98" cy="402.86" r="3.5"/><circle cx="328.04" cy="409.28" r="3.5"/><circle cx="329.09" cy="406.56" r="3.5"/><circle cx="330.15" cy="409.93" r="3.5"/><circle cx="331.21" cy="417.24" r="3.5"/><circle cx="332.26" cy="414.81" r="3.5"/><circle cx="333.32" cy="401.52" r="3.5"/><circle cx="334.38" cy="413.54" r="3.5"/><circle cx="335.43" cy="418.76" r="3.5"/><circle cx="336.49" cy="412.43" r="3.5"/><circle cx="337.54" cy="405.22" r="3.5"/><circle cx="338.6" cy="411.3" r="3.5"/><circle cx="339.66" cy="410.07" r="3.5"/><circle cx="340.71" cy="413.09" r="3.5"/><circle cx="341.77" cy="412.82" r="3.5"/><circle cx="342.83" cy="408.3" r="3.5"/><circle cx="343.88" cy="410.42" r="3.5"/><circle cx="344.94" cy="414.17" r="3.5"/><circle cx="346" cy="410.92" r="3.5"/><circle cx="347.05" cy="410.67" r="3.5"/><circle cx="348.11" cy="416" r="3.5"/><circle cx="349.17" cy="414.51" r="3.5"/><circle cx="350.22" cy="414.99" r="3.5"/><circle cx="351.28" cy="419.1" r="3.5"/><circle cx="352.34" cy="412.42" r="3.5"/><circle cx="353.39" cy="417.89" r="3.5"/><circle cx="354.45" cy="420.16" r="3.5"/><circle cx="355.51" cy="425.18" r="3.5"/><circle cx="356.56" cy="423.76" r="3.5"/><circle cx="357.62" cy="412.97" r="3.5"/><circle cx="358.68" cy="424.03" r="3.5"/><circle cx="359.73" cy="417.87" r="3.5"/><circle cx="360.79" cy="421.49" r="3.5"/><circle cx="361.84" cy="418.29" r="3.5"/><circle cx="362.9" cy="418.3" r="3.5"/><circle cx="363.96" cy="424.39" r="3.5"/><circle cx="365.01" cy="422.69" r="3.5"/><circle cx="366.07" cy="421.42" r="3.5"/><circle cx="367.13" cy="421.72" r="3.5"/><circle cx="368.18" cy="422.67" r="3.5"/><circle cx="369.24" cy="424.23" r="3.5"/><circle cx="370.3" cy="420.67" r="3.5"/><circle cx="371.35" cy="418.31" r="3.5"/><circle cx="372.41" cy="421.71" r="3.5"/><circle cx="373.47" cy="427.53" r="3.5"/><circle cx="374.52" cy="422.98" r="3.5"/><circle cx="375.58" cy="424.71" r="3.5"/><circle cx="376.64" cy="423.37" r="3.5"/><circle cx="377.69" cy="418.23" r="3.5"/><circle cx="378.75" cy="426.89" r="3.5"/><circle cx="379.81" cy="426.34" r="3.5"/><circle cx="380.86" cy="430.59" r="3.5"/><circle cx="381.92" cy="428.2" r="3.5"/><circle cx="382.98" cy="429.78" r="3.5"/><circle cx="384.03" cy="420.98" r="3.5"/><circle cx="385.09" cy="426.56" r="3.5"/><circle cx="386.15" cy="430.75" r="3.5"/><circle cx="387.2" cy="420.58" r="3.5"/><circle cx="388.26" cy="434.99" r="3.5"/><circle cx="389.31" cy="425.44" r="3.5"/><circle cx="390.37" cy="425.11" r="3.5"/><circle cx="391.43" cy="427.27" r="3.5"/><circle cx="392.48" cy="431.26" r="3.5"/><circle cx="393.54" cy="430.98" r="3.5"/><circle cx="394.6" cy="432.28" r="3.5"/><circle cx="395.65" cy="427.59" r="3.5"/><circle cx="396.71" cy="442.97" r="3.5"/><circle cx="397.77" cy="434" r="3.5"/><circle cx="398.82" cy="431.25" r="3.5"/><circle cx="399.88" cy="434.95" r="3.5"/><circle cx="400.94" cy="441.52" r="3.5"/><circle cx="401.99" cy="433.96" r="3.5"/><circle cx="403.05" cy="436.71" r="3.5"/><circle cx="404.11" cy="429.86" r="3.5"/><circle cx="405.16" cy="427.62" r="3.5"/><circle cx="406.22" cy="433.69" r="3.5"/><circle cx="407.28" cy="444.06" r="3.5"/><circle cx="408.33" cy="435.5" r="3.5"/><circle cx="409.39" cy="439.35" r="3.5"/><circle cx="410.45" cy="432.05" r="3.5"/><circle cx="411.5" cy="428.02" r="3.5"/><circle cx="412.56" cy="434.24" r="3.5"/><circle cx="413.61" cy="427.14" r="3.5"/><circle cx="414.67" cy="429.54" r="3.5"/><circle cx="415.73" cy="433.33" r="3.5"/><circle cx="416.78" cy="441.04" r="3.5"/><circle cx="417.84" cy="436.09" r="3.5"/><circle cx="418.9" cy="444.12" r="3.5"/><circle cx="419.95" cy="432.37" r="3.5"/><circle cx="421.01" cy="436.75" r="3.5"/><circle cx="422.07" cy="431.38" r="3.5"/><circle cx="423.12" cy="436.42" r="3.5"/><circle cx="424.18" cy="448.11" r="3.5"/><circle cx="425.24" cy="435.25" r="3.5"/><circle cx="426.29" cy="434.21" r="3.5"/><circle cx="427.35" cy="431.29" r="3.5"/><circle cx="428.41" cy="443.87" r="3.5"/><circle cx="429.46" cy="443.87" r="3.5"/><circle cx="430.52" cy="439.18" r="3.5"/><circle cx="431.58" cy="445.1" r="3.5"/><circle cx="432.63" cy="447.11" r="3.5"/><circle cx="433.69" cy="445.85" r="3.5"/><circle cx="434.75" cy="429.15" r="3.5"/><circle cx="435.8" cy="443.98" r="3.5"/><circle cx="436.86" cy="446.3" r="3.5"/><circle cx="437.91" cy="443.62" r="3.5"/><circle cx="438.97" cy="441.64" r="3.5"/><circle cx="440.03" cy="435.87" r="3.5"/><circle cx="441.08" cy="437.66" r="3.5"/><circle cx="442.14" cy="438.62" r="3.5"/><circle cx="443.2" cy="442.42" r="3.5"/><circle cx="444.25" cy="442.11" r="3.5"/><circle cx="445.31" cy="446.4" r="3.5"/><circle cx="446.37" cy="451.44" r="3.5"/><circle cx="447.42" cy="434.21" r="3.5"/><circle cx="448.48" cy="446.18" r="3.5"/><circle cx="449.54" cy="439.19" r="3.5"/><circle cx="450.59" cy="445.93" r="3.5"/><circle cx="451.65" cy="445" r="3.5"/><circle cx="452.71" cy="445.56" r="3.5"/><circle cx="453.76" cy="452.47" r="3.5"/><circle cx="454.82" cy="445.64" r="3.5"/><circle cx="455.88" cy="443.56" r="3.5"/><circle cx="456.93" cy="441.62" r="3.5"/><circle cx="457.99" cy="443.46" r="3.5"/><circle cx="459.05" cy="441.16" r="3.5"/><circle cx="460.1" cy="444.9" r="3.5"/><circle cx="461.16" cy="446.65" r="3.5"/><circle cx="462.22" cy="458.04" r="3.5"/><circle cx="463.27" cy="449.92" r="3.5"/><circle cx="464.33" cy="439.78" r="3.5"/><circle cx="465.38" cy="446.9" r="3.5"/><circle cx="466.44" cy="443.75" r="3.5"/><circle cx="467.5" cy="449.09" r="3.5"/><circle cx="468.55" cy="451.83" r="3.5"/><circle cx="469.61" cy="438.6" r="3.5"/><circle cx="470.67" cy="446.78" r="3.5"/><circle cx="471.72" cy="441.49" r="3.5"/><circle cx="472.78" cy="446.34" r="3.5"/><circle cx="473.84" cy="450.86" r="3.5"/><circle cx="474.89" cy="462.82" r="3.5"/><circle cx="475.95" cy="449.23" r="3.5"/><circle cx="477.01" cy="458.92" r="3.5"/><circle cx="478.06" cy="463.39" r="3.5"/><circle cx="479.12" cy="444.11" r="3.5"/><circle cx="480.18" cy="446.84" r="3.5"/><circle cx="481.23" cy="447.45" r="3.5"/><circle cx="482.29" cy="450.73" r="3.5"/><circle cx="483.35" cy="451.4" r="3.5"/><circle cx="484.4" cy="449.19" r="3.5"/><circle cx="485.46" cy="450.8" r="3.5"/><circle cx="486.52" cy="451.46" r="3.5"/><circle cx="487.57" cy="448.18" r="3.5"/><circle cx="488.63" cy="467.47" r="3.5"/><circle cx="489.68" cy="447.83" r="3.5"/><circle cx="490.74" cy="456.25" r="3.5"/><circle cx="491.8" cy="448.43" r="3.5"/><circle cx="492.85" cy="447.04" r="3.5"/><circle cx="493.91" cy="458.16" r="3.5"/><circle cx="494.97" cy="449.37" r="3.5"/><circle cx="496.02" cy="449.65" r="3.5"/><circle cx="497.08" cy="458.11" r="3.5"/><circle cx="498.14" cy="457.34" r="3.5"/><circle cx="499.19" cy="453.95" r="3.5"/><circle cx="500.25" cy="468.8" r="3.5"/><circle cx="501.31" cy="457.59" r="3.5"/><circle cx="502.36" cy="454.24" r="3.5"/><circle cx="503.42" cy="458.05" r="3.5"/><circle cx="504.48" cy="465.47" r="3.5"/><circle cx="505.53" cy="458.15" r="3.5"/><circle cx="506.59" cy="448.17" r="3.5"/><circle cx="507.65" cy="449.31" r="3.5"/><circle cx="508.7" cy="457.21" r="3.5"/><circle cx="509.76" cy="461.49" r="3.5"/><circle cx="510.82" cy="457.03" r="3.5"/><circle cx="511.87" cy="457.06" r="3.5"/><circle cx="512.93" cy="461.35" r="3.5"/><circle cx="513.99" cy="459.5" r="3.5"/><circle cx="515.04" cy="454.3" r="3.5"/><circle cx="516.1" cy="452.85" r="3.5"/><circle cx="517.15" cy="474.23" r="3.5"/><circle cx="518.21" cy="453.01" r="3.5"/><circle cx="519.27" cy="457.78" r="3.5"/><circle cx="520.32" cy="452.49" r="3.5"/><circle cx="521.38" cy="459.07" r="3.5"/><circle cx="522.44" cy="456.66" r="3.5"/><circle cx="523.49" cy="450.57" r="3.5"/><circle cx="524.55" cy="480.13" r="3.5"/><circle cx="525.61" cy="451.18" r="3.5"/><circle cx="526.66" cy="458.85" r="3.5"/><circle cx="527.72" cy="471.93" r="3.5"/><circle cx="528.78" cy="478.59" r="3.5"/><circle cx="529.83" cy="458.74" r="3.5"/><circle cx="530.89" cy="467.11" r="3.5"/><circle cx="531.95" cy="455.32" r="3.5"/><circle cx="533" cy="459.87" r="3.5"/><circle cx="534.06" cy="462.11" r="3.5"/><circle cx="535.12" cy="455.93" r="3.5"/><circle cx="536.17" cy="460.58" r="3.5"/><circle cx="537.23" cy="457.67" r="3.5"/><circle cx="538.29" cy="457.37" r="3.5"/><circle cx="539.34" cy="460.42" r="3.5"/><circle cx="540.4" cy="457.97" r="3.5"/><circle cx="541.45" cy="458.17" r="3.5"/><circle cx="542.51" cy="471.72" r="3.5"/><circle cx="543.57" cy="464.74" r="3.5"/><circle cx="544.62" cy="464" r="3.5"/><circle cx="545.68" cy="465.78" r="3.5"/><circle cx="546.74" cy="474.13" r="3.5"/><circle cx="547.79" cy="467.38" r="3.5"/><circle cx="548.85" cy="462.03" r="3.5"/><circle cx="549.91" cy="463.08" r="3.5"/><circle cx="550.96" cy="455.88" r="3.5"/><circle cx="552.02" cy="468.43" r="3.5"/><circle cx="553.08" cy="467.51" r="3.5"/><circle cx="554.13" cy="468.61" r="3.5"/><circle cx="555.19" cy="467.16" r="3.5"/><circle cx="556.25" cy="469.21" r="3.5"/><circle cx="557.3" cy="478.39" r="3.5"/><circle cx="558.36" cy="463.7" r="3.5"/><circle cx="559.42" cy="460.2" r="3.5"/><circle cx="560.47" cy="459.66" r="3.5"/><circle cx="561.53" cy="473.48" r="3.5"/><circle cx="562.59" cy="467.75" r="3.5"/><circle cx="563.64" cy="456.32" r="3.5"/><circle cx="564.7" cy="467.6" r="3.5"/><circle cx="565.75" cy="464.99" r="3.5"/><circle cx="566.81" cy="468.26" r="3.5"/><circle cx="567.87" cy="461.56" r="3.5"/><circle cx="568.92" cy="461.95" r="3.5"/><circle cx="569.98" cy="454.95" r="3.5"/><circle cx="571.04" cy="465.03" r="3.5"/><circle cx="572.09" cy="465.51" r="3.5"/><circle cx="573.15" cy="476.63" r="3.5"/><circle cx="574.21" cy="471.28" r="3.5"/><circle cx="575.26" cy="473.44" r="3.5"/><circle cx="576.32" cy="471.13" r="3.5"/><circle cx="577.38" cy="478.18" r="3.5"/><circle cx="578.43" cy="462.18" r="3.5"/><circle cx="579.49" cy="476.71" r="3.5"/><circle cx="580.55" cy="468.07" r="3.5"/><circle cx="581.6" cy="478.62" r="3.5"/><circle cx="582.66" cy="467.99" r="3.5"/><circle cx="583.72" cy="460.65" r="3.5"/><circle cx="584.77" cy="476.04" r="3.5"/><circle cx="585.83" cy="468.44" r="3.5"/><circle cx="586.89" cy="471.35" r="3.5"/><circle cx="587.94" cy="469.31" r="3.5"/><circle cx="589" cy="468.65" r="3.5"/><circle cx="590.06" cy="475.74" r="3.5"/><circle cx="591.11" cy="472.85" r="3.5"/><circle cx="592.17" cy="475.81" r="3.5"/><circle cx="593.22" cy="477.67" r="3.5"/><circle cx="594.28" cy="480.84" r="3.5"/><circle cx="595.34" cy="466.47" r="3.5"/><circle cx="596.39" cy="477.64" r="3.5"/><circle cx="597.45" cy="468.62" r="3.5"/><circle cx="598.51" cy="469.47" r="3.5"/><circle cx="599.56" cy="480.13" r="3.5"/><circle cx="600.62" cy="466.88" r="3.5"/><circle cx="601.68" cy="479.52" r="3.5"/><circle cx="602.73" cy="469.75" r="3.5"/><circle cx="603.79" cy="465.06" r="3.5"/><circle cx="604.85" cy="479.05" r="3.5"/><circle cx="605.9" cy="480.81" r="3.5"/><circle cx="606.96" cy="481.12" r="3.5"/><circle cx="608.02" cy="461.2" r="3.5"/><circle cx="609.07" cy="477.43" r="3.5"/><circle cx="610.13" cy="484.18" r="3.5"/><circle cx="611.19" cy="470.06" r="3.5"/><circle cx="612.24" cy="476.64" r="3.5"/><circle cx="613.3" cy="475.87" r="3.5"/><circle cx="614.36" cy="482.96" r="3.5"/><circle cx="615.41" cy="493.41" r="3.5"/><circle cx="616.47" cy="481.37" r="3.5"/><circle cx="617.52" cy="483.96" r="3.5"/><circle cx="618.58" cy="488.79" r="3.5"/><circle cx="619.64" cy="484.69" r="3.5"/><circle cx="620.69" cy="483.83" r="3.5"/><circle cx="621.75" cy="471.97" r="3.5"/><circle cx="622.81" cy="472.77" r="3.5"/><circle cx="623.86" cy="474.16" r="3.5"/><circle cx="624.92" cy="481.52" r="3.5"/><circle cx="625.98" cy="487.29" r="3.5"/><circle cx="627.03" cy="476.13" r="3.5"/><circle cx="628.09" cy="475.25" r="3.5"/><circle cx="629.15" cy="472.01" r="3.5"/><circle cx="630.2" cy="478.88" r="3.5"/><circle cx="631.26" cy="479.78" r="3.5"/><circle cx="632.32" cy="476.98" r="3.5"/><circle cx="633.37" cy="486.06" r="3.5"/><circle cx="634.43" cy="485.31" r="3.5"/><circle cx="635.49" cy="475.34" r="3.5"/><circle cx="636.54" cy="489.33" r="3.5"/><circle cx="637.6" cy="480.56" r="3.5"/><circle cx="638.66" cy="474.98" r="3.5"/><circle cx="639.71" cy="478.73" r="3.5"/><circle cx="640.77" cy="477.61" r="3.5"/><circle cx="641.82" cy="489.08" r="3.5"/><circle cx="642.88" cy="481.78" r="3.5"/><circle cx="643.94" cy="483.02" r="3.5"/><circle cx="644.99" cy="477.17" r="3.5"/><circle cx="646.05" cy="478.55" r="3.5"/><circle cx="647.11" cy="481.4" r="3.5"/><circle cx="648.16" cy="469.73" r="3.5"/><circle cx="649.22" cy="478.22" r="3.5"/><circle cx="650.28" cy="484.18" r="3.5"/><circle cx="651.33" cy="486.81" r="3.5"/><circle cx="652.39" cy="482.72" r="3.5"/><circle cx="653.45" cy="486.85" r="3.5"/><circle cx="654.5" cy="472.21" r="3.5"/><circle cx="655.56" cy="479.07" r="3.5"/><circle cx="656.62" cy="485.42" r="3.5"/><circle cx="657.67" cy="488.23" r="3.5"/><circle cx="658.73" cy="491.78" r="3.5"/><circle cx="659.79" cy="485.71" r="3.5"/><circle cx="660.84" cy="475.16" r="3.5"/><circle cx="661.9" cy="478.3" r="3.5"/><circle cx="662.96" cy="484.63" r="3.5"/><circle cx="664.01" cy="483.4" r="3.5"/><circle cx="665.07" cy="500" r="3.5"/><circle cx="666.13" cy="479.51" r="3.5"/><circle cx="667.18" cy="486.57" r="3.5"/><circle cx="668.24" cy="475.92" r="3.5"/><circle cx="669.29" cy="486.62" r="3.5"/><circle cx="670.35" cy="489.13" r="3.5"/><circle cx="671.41" cy="484.11" r="3.5"/><circle cx="672.46" cy="490.7" r="3.5"/><circle cx="673.52" cy="476.95" r="3.5"/><circle cx="674.58" cy="484.12" r="3.5"/><circle cx="675.63" cy="483.72" r="3.5"/><circle cx="676.69" cy="484.13" r="3.5"/><circle cx="677.75" cy="489.37" r="3.5"/><circle cx="678.8" cy="483.44" r="3.5"/><circle cx="679.86" cy="485.78" r="3.5"/><circle cx="680.92" cy="475.54" r="3.5"/><circle cx="681.97" cy="486.95" r="3.5"/><circle cx="683.03" cy="484.86" r="3.5"/><circle cx="684.09" cy="491.23" r="3.5"/><circle cx="685.14" cy="490.73" r="3.5"/><circle cx="686.2" cy="490.37" r="3.5"/><circle cx="687.26" cy="479.3" r="3.5"/><circle cx="688.31" cy="487.73" r="3.5"/><circle cx="689.37" cy="481.66" r="3.5"/><circle cx="690.43" cy="490.63" r="3.5"/><circle cx="691.48" cy="491.6" r="3.5"/><circle cx="692.54" cy="505.64" r="3.5"/><circle cx="693.59" cy="483.24" r="3.5"/><circle cx="694.65" cy="475.64" r="3.5"/><circle cx="695.71" cy="491.23" r="3.5"/><circle cx="696.76" cy="479.77" r="3.5"/><circle cx="697.82" cy="483.76" r="3.5"/><circle cx="698.88" cy="495.43" r="3.5"/><circle cx="699.93" cy="484.68" r="3.5"/><circle cx="700.99" cy="497.6" r="3.5"/><circle cx="702.05" cy="492.86" r="3.5"/><circle cx="703.1" cy="482.13" r="3.5"/><circle cx="704.16" cy="489.69" r="3.5"/><circle cx="705.22" cy="500.8" r="3.5"/><circle cx="706.27" cy="481.39" r="3.5"/><circle cx="707.33" cy="500.54" r="3.5"/><circle cx="708.39" cy="492.88" r="3.5"/><circle cx="709.44" cy="494.53" r="3.5"/><circle cx="710.5" cy="493.25" r="3.5"/><circle cx="711.56" cy="499.14" r="3.5"/><circle cx="712.61" cy="506.63" r="3.5"/></g>
<polyline points="168.04,645.32 168.31,639.23 168.58,625.36 168.85,606.77 169.12,586.49 169.39,567.56 169.67,549.95 169.94,531.33 170.21,511.27 170.48,489.18 170.75,464.49 171.02,438.36 171.29,412.04 171.56,383.75 171.83,352.56 172.1,321.04 172.37,291.74 172.64,267.22 172.92,250.04 173.19,238.07 173.46,227.4 173.73,217.88 174,209.38 174.27,201.76 174.54,194.9 174.81,188.66 175.08,182.9 175.35,177.48 175.62,172.28 175.9,167.28 176.17,162.54 176.44,158.06 176.71,153.82 176.98,149.81 177.25,146.01 177.52,142.41 177.79,139 178.06,135.75 178.33,132.67 178.6,129.73 178.88,126.92 179.15,124.1 179.42,121.18 179.69,118.23 179.96,115.31 180.23,112.49 180.5,109.84 180.77,107.41 181.04,105.28 181.31,103.5 181.58,102.16 181.86,101.3 182.13,101 182.4,100.98 182.67,101.28 182.94,101.85 183.21,102.66 183.48,103.67 183.75,104.85 184.02,106.17 184.29,107.6 184.56,109.13 184.84,110.71 185.11,112.35 185.38,114.02 185.65,115.77 185.92,117.63 186.19,119.6 186.46,121.66 186.73,123.8 187,126.01 187.27,128.28 187.54,130.59 190.25,154.59 192.96,175.97 195.67,195.16 198.38,213.53 201.09,230.88 203.8,247.02 206.51,261.76 209.22,274.97 211.93,286.59 214.64,296.65 217.34,305.25 220.05,312.55 222.76,318.76 225.47,324.07 228.18,328.67 230.89,332.71 233.6,336.33 236.31,339.62 239.02,342.66 241.73,345.52 244.43,348.23 247.14,350.82 249.85,353.33 252.56,355.76 255.27,358.12 257.98,360.43 260.69,362.69 263.4,364.9 266.11,367.07 268.82,369.19 271.53,371.28 274.23,373.33 276.94,375.33 279.65,377.3 282.36,379.24 285.07,381.13 287.78,382.98 290.49,384.8 293.2,386.58 295.91,388.32 298.62,390.03 301.32,391.7 304.03,393.33 306.74,394.93 309.45,396.49 312.16,398.01 314.87,399.5 317.58,400.96 320.29,402.38 323,403.76 325.71,405.12 328.42,406.44 331.12,407.73 333.83,408.99 336.54,410.22 339.25,411.42 341.96,412.59 344.67,413.73 347.38,414.84 350.09,415.93 352.8,416.99 355.51,418.02 358.21,419.03 360.92,420.02 363.63,420.98 366.34,421.92 369.05,422.84 371.76,423.74 374.47,424.62 377.18,425.48 379.89,426.32 382.6,427.14 385.31,427.94 388.01,428.73 390.72,429.5 393.43,430.25 396.14,430.99 398.85,431.71 401.56,432.43 404.27,433.12 406.98,433.81 409.69,434.48 412.4,435.14 415.1,435.79 417.81,436.43 420.52,437.06 423.23,437.68 425.94,438.29 428.65,438.89 431.36,439.48 434.07,440.06 436.78,440.64 439.49,441.2 442.2,441.76 444.9,442.32 447.61,442.86 450.32,443.4 453.03,443.94 455.74,444.47 458.45,444.99 461.16,445.51 463.87,446.02 466.58,446.53 469.29,447.04 471.99,447.54 474.7,448.03 477.41,448.53 480.12,449.02 482.83,449.5 485.54,449.98 488.25,450.46 490.96,450.94 493.67,451.41 496.38,451.88 499.09,452.35 501.79,452.81 504.5,453.27 507.21,453.73 509.92,454.19 512.63,454.65 515.34,455.1 518.05,455.55 520.76,456 523.47,456.45 526.18,456.9 528.88,457.34 531.59,457.79 534.3,458.23 537.01,458.67 539.72,459.11 542.43,459.55 545.14,459.99 547.85,460.43 550.56,460.86 553.27,461.3 555.98,461.73 558.68,462.17 561.39,462.6 564.1,463.03 566.81,463.46 569.52,463.89 572.23,464.32 574.94,464.75 577.65,465.18 580.36,465.61 583.07,466.03 585.77,466.46 588.48,466.89 591.19,467.31 593.9,467.74 596.61,468.16 599.32,468.59 602.03,469.01 604.74,469.44 607.45,469.86 610.16,470.28 612.87,470.71 615.57,471.13 618.28,471.55 620.99,471.97 623.7,472.39 626.41,472.82 629.12,473.24 631.83,473.66 634.54,474.08 637.25,474.5 639.96,474.92 642.66,475.34 645.37,475.76 648.08,476.18 650.79,476.6 653.5,477.02 656.21,477.44 658.92,477.86 661.63,478.28 664.34,478.7 667.05,479.12 669.76,479.53 672.46,479.95 675.17,480.37 677.88,480.79 680.59,481.21 683.3,481.63 686.01,482.05 688.72,482.46 691.43,482.88 694.14,483.3 696.85,483.72 699.55,484.14 702.26,484.56 704.97,484.97 707.68,485.39 710.39,485.81 713.1,486.23" fill="none" stroke="#000" stroke-width="2.6" stroke-linejoin="round" stroke-linecap="round"/>
</g>
<circle cx="366.5" cy="129.1" r="3.4" fill="#8000FF"/>
<circle cx="366.5" cy="173.1" r="3.4" fill="#FF0080"/>
<text transform="translate(410.6,139.9) scale(1,1.07)" font-size="30.4">H-TFSI treated MoS<tspan font-size="20" dy="8.1">2</tspan></text>
<text transform="translate(410.6,183.8) scale(1,1.07)" font-size="30.4">Li-TFSI treated MoS<tspan font-size="20" dy="8.1">2</tspan></text>
<text x="790" y="31.7" font-size="45" font-weight="bold">b</text>
<rect x="926.9" y="106.8" width="563.3" height="452.6" fill="none" stroke="#000" stroke-width="2.05"/>
<line x1="1002.01" y1="559.4" x2="1002.01" y2="567.9" stroke="#000" stroke-width="1.9"/>
<text transform="translate(1002.01,597.7) scale(1,1.07)" font-size="30.3" text-anchor="middle">600</text>
<line x1="1095.89" y1="559.4" x2="1095.89" y2="567.9" stroke="#000" stroke-width="1.9"/>
<text transform="translate(1095.89,597.7) scale(1,1.07)" font-size="30.3" text-anchor="middle">650</text>
<line x1="1189.77" y1="559.4" x2="1189.77" y2="567.9" stroke="#000" stroke-width="1.9"/>
<text transform="translate(1189.77,597.7) scale(1,1.07)" font-size="30.3" text-anchor="middle">700</text>
<line x1="1283.66" y1="559.4" x2="1283.66" y2="567.9" stroke="#000" stroke-width="1.9"/>
<text transform="translate(1283.66,597.7) scale(1,1.07)" font-size="30.3" text-anchor="middle">750</text>
<line x1="1377.54" y1="559.4" x2="1377.54" y2="567.9" stroke="#000" stroke-width="1.9"/>
<text transform="translate(1377.54,597.7) scale(1,1.07)" font-size="30.3" text-anchor="middle">800</text>
<line x1="1471.42" y1="559.4" x2="1471.42" y2="567.9" stroke="#000" stroke-width="1.9"/>
<text transform="translate(1471.42,597.7) scale(1,1.07)" font-size="30.3" text-anchor="middle">850</text>
<line x1="955.06" y1="559.4" x2="955.06" y2="563.9" stroke="#000" stroke-width="1.9"/>
<line x1="1048.95" y1="559.4" x2="1048.95" y2="563.9" stroke="#000" stroke-width="1.9"/>
<line x1="1142.83" y1="559.4" x2="1142.83" y2="563.9" stroke="#000" stroke-width="1.9"/>
<line x1="1236.72" y1="559.4" x2="1236.72" y2="563.9" stroke="#000" stroke-width="1.9"/>
<line x1="1330.6" y1="559.4" x2="1330.6" y2="563.9" stroke="#000" stroke-width="1.9"/>
<line x1="1424.48" y1="559.4" x2="1424.48" y2="563.9" stroke="#000" stroke-width="1.9"/>
<line x1="1002.01" y1="106.8" x2="1002.01" y2="98.3" stroke="#000" stroke-width="1.9"/>
<text transform="translate(1002.01,85.4) scale(1,1.07)" font-size="30.3" text-anchor="middle">2.07</text>
<line x1="1095.89" y1="106.8" x2="1095.89" y2="98.3" stroke="#000" stroke-width="1.9"/>
<text transform="translate(1095.89,85.4) scale(1,1.07)" font-size="30.3" text-anchor="middle">1.91</text>
<line x1="1189.77" y1="106.8" x2="1189.77" y2="98.3" stroke="#000" stroke-width="1.9"/>
<text transform="translate(1189.77,85.4) scale(1,1.07)" font-size="30.3" text-anchor="middle">1.77</text>
<line x1="1283.66" y1="106.8" x2="1283.66" y2="98.3" stroke="#000" stroke-width="1.9"/>
<text transform="translate(1283.66,85.4) scale(1,1.07)" font-size="30.3" text-anchor="middle">1.65</text>
<line x1="1377.54" y1="106.8" x2="1377.54" y2="98.3" stroke="#000" stroke-width="1.9"/>
<text transform="translate(1377.54,85.4) scale(1,1.07)" font-size="30.3" text-anchor="middle">1.55</text>
<line x1="1471.42" y1="106.8" x2="1471.42" y2="98.3" stroke="#000" stroke-width="1.9"/>
<text transform="translate(1471.42,85.4) scale(1,1.07)" font-size="30.3" text-anchor="middle">1.46</text>
<line x1="955.06" y1="106.8" x2="955.06" y2="102.3" stroke="#000" stroke-width="1.9"/>
<line x1="1048.95" y1="106.8" x2="1048.95" y2="102.3" stroke="#000" stroke-width="1.9"/>
<line x1="1142.83" y1="106.8" x2="1142.83" y2="102.3" stroke="#000" stroke-width="1.9"/>
<line x1="1236.72" y1="106.8" x2="1236.72" y2="102.3" stroke="#000" stroke-width="1.9"/>
<line x1="1330.6" y1="106.8" x2="1330.6" y2="102.3" stroke="#000" stroke-width="1.9"/>
<line x1="1424.48" y1="106.8" x2="1424.48" y2="102.3" stroke="#000" stroke-width="1.9"/>
<line x1="918.4" y1="480.19" x2="926.9" y2="480.19" stroke="#000" stroke-width="1.9"/>
<text transform="translate(912.2,490) scale(1,1.07)" font-size="30.3" text-anchor="end">-0.8</text>
<line x1="918.4" y1="389.67" x2="926.9" y2="389.67" stroke="#000" stroke-width="1.9"/>
<text transform="translate(912.2,399.47) scale(1,1.07)" font-size="30.3" text-anchor="end">0.0</text>
<line x1="918.4" y1="299.16" x2="926.9" y2="299.16" stroke="#000" stroke-width="1.9"/>
<text transform="translate(912.2,308.96) scale(1,1.07)" font-size="30.3" text-anchor="end">0.8</text>
<line x1="918.4" y1="208.63" x2="926.9" y2="208.63" stroke="#000" stroke-width="1.9"/>
<text transform="translate(912.2,218.44) scale(1,1.07)" font-size="30.3" text-anchor="end">1.6</text>
<line x1="918.4" y1="118.12" x2="926.9" y2="118.12" stroke="#000" stroke-width="1.9"/>
<text transform="translate(912.2,127.92) scale(1,1.07)" font-size="30.3" text-anchor="end">2.4</text>
<line x1="922.4" y1="525.45" x2="926.9" y2="525.45" stroke="#000" stroke-width="1.9"/>
<line x1="922.4" y1="434.93" x2="926.9" y2="434.93" stroke="#000" stroke-width="1.9"/>
<line x1="922.4" y1="344.41" x2="926.9" y2="344.41" stroke="#000" stroke-width="1.9"/>
<line x1="922.4" y1="253.89" x2="926.9" y2="253.89" stroke="#000" stroke-width="1.9"/>
<line x1="922.4" y1="163.38" x2="926.9" y2="163.38" stroke="#000" stroke-width="1.9"/>
<text x="1212.6" y="38.4" font-size="50.5" text-anchor="middle">Energy (eV)</text>
<text x="1222" y="649.3" font-size="50.5" text-anchor="middle">Wavelength (nm)</text>
<text transform="translate(839,306) rotate(-90)" font-size="50.5" text-anchor="middle">m&#916;T/T</text>
<g clip-path="url(#clipB)">
<polyline points="926.9,388.21 929.9,389.11 932.9,389.45 935.9,389.35 938.9,388.5 941.9,389.77 944.9,389.61 947.9,389.67 950.9,389.75 953.9,390.03 956.9,390.78 959.9,389.13 962.9,389.59 965.9,390.68 968.9,388.89 971.9,389.96 974.9,389.44 977.9,389.94 980.9,390.34 983.9,389.06 986.9,389.9 989.9,390 992.9,391.08 995.9,391.15 998.9,392.75 1001.9,391.63 1004.9,393.01 1007.9,391.65 1010.9,391.9 1013.9,391.55 1016.9,391.29 1019.9,390.33 1022.9,390.79 1025.9,390.18 1028.9,389.4 1031.9,389.04 1034.9,387.79 1037.9,387.74 1040.9,387.22 1043.9,386.41 1046.9,387.67 1049.9,387.46 1052.9,388.49 1055.9,390.79 1058.9,390.58 1061.9,391.49 1064.9,392.93 1067.9,393.75 1070.9,394.84 1073.9,394.15 1076.9,396.08 1079.9,395.16 1082.9,394.66 1085.9,394.91 1088.9,396.22 1091.9,396.08 1094.9,396.44 1097.9,395.14 1100.9,395.42 1103.9,393.78 1106.9,391.35 1109.9,390.41 1112.9,389.78 1115.9,388.18 1118.9,385.73 1121.9,385.77 1124.9,383.96 1127.9,384.29 1130.9,384.83 1133.9,384.55 1136.9,384.88 1139.9,386.46 1142.9,386.59 1145.9,386.86 1148.9,387.84 1151.9,387.52 1154.9,388.04 1157.9,387.38 1160.9,388.52 1163.9,387.63 1166.9,388.07 1169.9,387.28 1172.9,389.19 1175.9,388.65 1178.9,388.96 1181.9,387.76 1184.9,388.96 1187.9,388.71 1190.9,389.74 1193.9,388.16 1196.9,389.38 1199.9,389.87 1202.9,388.59 1205.9,389.44 1208.9,388.79 1211.9,389.53 1214.9,389.78 1217.9,390.44 1220.9,389.83 1223.9,389.4 1226.9,390.25 1229.9,390 1232.9,390.75 1235.9,389.88 1238.9,391.19 1241.9,390.65 1244.9,390.87 1247.9,391.51 1250.9,390.78 1253.9,390.99 1256.9,391.79 1259.9,391.62 1262.9,391.87 1265.9,391.77 1268.9,391.98 1271.9,392.81 1274.9,393.59 1277.9,391.67 1280.9,393.47 1283.9,393.04 1286.9,393.32 1289.9,392.69 1292.9,392.1 1295.9,392.38 1298.9,391.88 1301.9,391.36 1304.9,392.24 1307.9,392.35 1310.9,391.94 1313.9,392.12 1316.9,390.98 1319.9,392.45 1322.9,391.62 1325.9,391.64 1328.9,391.96 1331.9,391.11 1334.9,392.93 1337.9,392.06 1340.9,391.99 1343.9,391.28 1346.9,390.7 1349.9,391.37 1352.9,390.58 1355.9,391.1 1358.9,391.04 1361.9,391.59 1364.9,391.05 1367.9,390.82 1370.9,391.51 1373.9,390.55 1376.9,390.25 1379.9,390.21 1382.9,391.33 1385.9,390.42 1388.9,390.01 1391.9,389.13 1394.9,389.62 1397.9,390.38 1400.9,390.5 1403.9,391.09 1406.9,389.63 1409.9,390.3 1412.9,390.73 1415.9,388.53 1418.9,391.24 1421.9,389.13 1424.9,389.08 1427.9,390.28 1430.9,389.92 1433.9,390.36 1436.9,389.98 1439.9,389.73 1442.9,389.43 1445.9,389 1448.9,389.78 1451.9,388.24 1454.9,389.24 1457.9,389.79 1460.9,388.59 1463.9,389.75 1466.9,389.8 1469.9,389.23 1472.9,389.06 1475.9,389.45 1478.9,389.48 1481.9,388.91 1484.9,390.27 1487.9,389.92" fill="none" stroke="#E3CCFF" stroke-width="3.2" stroke-linejoin="round" stroke-linecap="round"/>
<polyline points="926.9,400.83 929.9,400.08 932.9,401.66 935.9,401.75 938.9,401.11 941.9,401.52 944.9,402.13 947.9,401.17 950.9,400.12 953.9,399.11 956.9,397.12 959.9,396.99 962.9,393.85 965.9,392.75 968.9,390.48 971.9,386.7 974.9,384.06 977.9,381.42 980.9,376.62 983.9,372.36 986.9,369.25 989.9,365.86 992.9,360.99 995.9,357 998.9,353.98 1001.9,353.92 1004.9,354.18 1007.9,356.5 1010.9,361.71 1013.9,368.33 1016.9,374.25 1019.9,383.06 1022.9,392.47 1025.9,401.83 1028.9,410.06 1031.9,418.34 1034.9,420.7 1037.9,422.69 1040.9,423.33 1043.9,420.42 1046.9,414.59 1049.9,411.57 1052.9,404.1 1055.9,398.59 1058.9,392.3 1061.9,386.51 1064.9,380.59 1067.9,373.68 1070.9,366.96 1073.9,358.71 1076.9,350.73 1079.9,341.3 1082.9,330.02 1085.9,322.25 1088.9,318.45 1091.9,316.17 1094.9,314.62 1097.9,319.61 1100.9,329.67 1103.9,347.77 1106.9,366.03 1109.9,385.62 1112.9,407.83 1115.9,430.05 1118.9,440.46 1121.9,446.05 1124.9,449.23 1127.9,448.6 1130.9,446.43 1133.9,443.19 1136.9,439.36 1139.9,435.06 1142.9,428.27 1145.9,423.92 1148.9,417.95 1151.9,413.65 1154.9,408.9 1157.9,406.02 1160.9,405.81 1163.9,402.83 1166.9,402.07 1169.9,399.81 1172.9,398.19 1175.9,397.13 1178.9,394.57 1181.9,390.99 1184.9,390.33 1187.9,390.5 1190.9,389.83 1193.9,387.43 1196.9,386.03 1199.9,384.65 1202.9,384.9 1205.9,382.61 1208.9,382.05 1211.9,381.96 1214.9,380.97 1217.9,379.7 1220.9,379.33 1223.9,376.67 1226.9,375.33 1229.9,374.35 1232.9,373.14 1235.9,371.37 1238.9,371.22 1241.9,368.12 1244.9,367.36 1247.9,365.16 1250.9,364.3 1253.9,362.53 1256.9,361.36 1259.9,361.48 1262.9,359.15 1265.9,359.2 1268.9,356.58 1271.9,355.71 1274.9,355.8 1277.9,353.06 1280.9,353.3 1283.9,354.44 1286.9,355.17 1289.9,355.94 1292.9,356.33 1295.9,356.75 1298.9,359.33 1301.9,360.36 1304.9,360.73 1307.9,363.27 1310.9,366.58 1313.9,368.11 1316.9,369.94 1319.9,372.95 1322.9,375.25 1325.9,377.52 1328.9,379.65 1331.9,380.37 1334.9,382.35 1337.9,385.06 1340.9,386.4 1343.9,388.03 1346.9,387.23 1349.9,388.04 1352.9,389.31 1355.9,388.12 1358.9,388.9 1361.9,388.66 1364.9,388.24 1367.9,389.59 1370.9,388.69 1373.9,388.39 1376.9,388.6 1379.9,388.85 1382.9,387.74 1385.9,388.17 1388.9,387.92 1391.9,387.41 1394.9,389.29 1397.9,389.57 1400.9,389.42 1403.9,387.62 1406.9,388.94 1409.9,389.11 1412.9,388.35 1415.9,389.2 1418.9,388.02 1421.9,388.04 1424.9,388.19 1427.9,388.26 1430.9,388.08 1433.9,389.28 1436.9,388.04 1439.9,388.41 1442.9,388.31 1445.9,390.04 1448.9,388.15 1451.9,388.98 1454.9,389.8 1457.9,387.98 1460.9,388.19 1463.9,388.5 1466.9,387.89 1469.9,389.44 1472.9,388.41 1475.9,389.34 1478.9,389.02 1481.9,388.71 1484.9,389.28 1487.9,388.51" fill="none" stroke="#D3A6FF" stroke-width="3.2" stroke-linejoin="round" stroke-linecap="round"/>
<polyline points="926.9,405.38 929.9,406.84 932.9,406.49 935.9,405.47 938.9,405.83 941.9,406.72 944.9,405.82 947.9,405.63 950.9,402.6 953.9,403.61 956.9,401.6 959.9,397.43 962.9,395.69 965.9,392.55 968.9,388.87 971.9,384.08 974.9,376.31 977.9,368.93 980.9,362.77 983.9,355.61 986.9,346.94 989.9,339.65 992.9,330.22 995.9,325.03 998.9,322.12 1001.9,318.74 1004.9,318.47 1007.9,319.62 1010.9,329.91 1013.9,341.22 1016.9,360.45 1019.9,379.77 1022.9,395.93 1025.9,410.61 1028.9,423.28 1031.9,432.89 1034.9,440.47 1037.9,445.73 1040.9,447.14 1043.9,443.39 1046.9,441.79 1049.9,436.86 1052.9,429.13 1055.9,420.63 1058.9,408.5 1061.9,392.65 1064.9,380.12 1067.9,363.14 1070.9,345.88 1073.9,330.58 1076.9,314.26 1079.9,298.61 1082.9,284.19 1085.9,273.87 1088.9,264.64 1091.9,257.67 1094.9,253.84 1097.9,259.79 1100.9,277.22 1103.9,306.28 1106.9,335.13 1109.9,365.26 1112.9,411.55 1115.9,458.24 1118.9,484.76 1121.9,496.88 1124.9,501.08 1127.9,501.43 1130.9,498.51 1133.9,490.21 1136.9,480.82 1139.9,473.5 1142.9,462.85 1145.9,454.25 1148.9,445.39 1151.9,436.7 1154.9,429.55 1157.9,423.5 1160.9,416.57 1163.9,413.12 1166.9,410 1169.9,406.6 1172.9,402.04 1175.9,400.98 1178.9,398.32 1181.9,395.28 1184.9,393.03 1187.9,391.87 1190.9,390.97 1193.9,388.65 1196.9,386.1 1199.9,385.16 1202.9,384.22 1205.9,382.01 1208.9,380.36 1211.9,379.64 1214.9,376.83 1217.9,377.2 1220.9,374.86 1223.9,374.37 1226.9,373.25 1229.9,371.37 1232.9,369.21 1235.9,367.19 1238.9,365.22 1241.9,360.82 1244.9,357.86 1247.9,355.33 1250.9,352.42 1253.9,348.95 1256.9,346.03 1259.9,344.65 1262.9,341.83 1265.9,341.19 1268.9,338.68 1271.9,337.19 1274.9,333.93 1277.9,333.21 1280.9,332.9 1283.9,332.53 1286.9,333.79 1289.9,336 1292.9,336.46 1295.9,338.89 1298.9,342.17 1301.9,343.71 1304.9,346.2 1307.9,349.07 1310.9,352.49 1313.9,356.7 1316.9,360.92 1319.9,364.09 1322.9,368.35 1325.9,371.84 1328.9,375.56 1331.9,379.53 1334.9,381.33 1337.9,382.51 1340.9,385.46 1343.9,388.67 1346.9,390.14 1349.9,389.13 1352.9,390.25 1355.9,389.98 1358.9,388.41 1361.9,390.16 1364.9,391.21 1367.9,389.53 1370.9,389.79 1373.9,390.56 1376.9,389.69 1379.9,389.69 1382.9,390.14 1385.9,389.06 1388.9,390.26 1391.9,389.13 1394.9,389.97 1397.9,390.44 1400.9,390.95 1403.9,389.43 1406.9,390.04 1409.9,390.03 1412.9,388.74 1415.9,389.79 1418.9,389.97 1421.9,390.15 1424.9,391.01 1427.9,389.83 1430.9,389.7 1433.9,389.65 1436.9,389.66 1439.9,389.94 1442.9,390.58 1445.9,388.91 1448.9,389.54 1451.9,388 1454.9,388.39 1457.9,389.47 1460.9,388.01 1463.9,389.47 1466.9,390.01 1469.9,388.61 1472.9,388.64 1475.9,389.01 1478.9,388.62 1481.9,388.83 1484.9,388.35 1487.9,389.24" fill="none" stroke="#AD66FA" stroke-width="3.2" stroke-linejoin="round" stroke-linecap="round"/>
<polyline points="926.9,397.56 929.9,396.13 932.9,397.29 935.9,396.18 938.9,397.54 941.9,395.97 944.9,396.32 947.9,395.98 950.9,394.52 953.9,395.73 956.9,393.79 959.9,393.43 962.9,393.3 965.9,393.36 968.9,391.38 971.9,391.41 974.9,388.28 977.9,386.33 980.9,385.38 983.9,383.64 986.9,380.97 989.9,377.64 992.9,374.11 995.9,372.19 998.9,369.88 1001.9,368.52 1004.9,365.36 1007.9,366.87 1010.9,369.66 1013.9,374.44 1016.9,378.04 1019.9,381.62 1022.9,386.71 1025.9,390.97 1028.9,395.65 1031.9,400.65 1034.9,402.72 1037.9,404.33 1040.9,404.87 1043.9,403.32 1046.9,402.31 1049.9,399.06 1052.9,397.43 1055.9,394.84 1058.9,390.62 1061.9,388.89 1064.9,385.41 1067.9,381.98 1070.9,376.31 1073.9,370.73 1076.9,363.23 1079.9,354.63 1082.9,350.4 1085.9,344.33 1088.9,341.29 1091.9,339.75 1094.9,339.47 1097.9,341.52 1100.9,350.68 1103.9,356.24 1106.9,367.14 1109.9,378.88 1112.9,395.88 1115.9,413.28 1118.9,419.47 1121.9,424.24 1124.9,426.77 1127.9,427.44 1130.9,424.89 1133.9,424.09 1136.9,421.86 1139.9,420.7 1142.9,414.87 1145.9,409.54 1148.9,406.65 1151.9,404.14 1154.9,402.07 1157.9,400.21 1160.9,399.09 1163.9,395.83 1166.9,394.71 1169.9,394.99 1172.9,395.69 1175.9,395.09 1178.9,393.96 1181.9,393.7 1184.9,392.31 1187.9,390.02 1190.9,389.09 1193.9,388.39 1196.9,386.46 1199.9,386.34 1202.9,384.38 1205.9,383.13 1208.9,382.9 1211.9,382.05 1214.9,381.93 1217.9,382.56 1220.9,381.84 1223.9,380.5 1226.9,380.58 1229.9,381.4 1232.9,379.92 1235.9,379.77 1238.9,379.75 1241.9,377.92 1244.9,376.74 1247.9,375.45 1250.9,375.1 1253.9,372.85 1256.9,371.41 1259.9,371.2 1262.9,371.04 1265.9,369.09 1268.9,368.63 1271.9,367.36 1274.9,365.05 1277.9,365.14 1280.9,364.77 1283.9,364.99 1286.9,366.26 1289.9,367.2 1292.9,367.82 1295.9,369.26 1298.9,369.37 1301.9,371.37 1304.9,371.27 1307.9,372.74 1310.9,373.29 1313.9,375.9 1316.9,376.05 1319.9,377.93 1322.9,377.85 1325.9,379.95 1328.9,381.66 1331.9,382.75 1334.9,384.4 1337.9,385.95 1340.9,387.27 1343.9,388.32 1346.9,388.96 1349.9,390.61 1352.9,390.07 1355.9,390.11 1358.9,390.26 1361.9,389.31 1364.9,389.24 1367.9,389.25 1370.9,391.14 1373.9,389.89 1376.9,390.48 1379.9,388.95 1382.9,389.81 1385.9,390.1 1388.9,389.69 1391.9,390.69 1394.9,389.81 1397.9,389.96 1400.9,390.68 1403.9,390.96 1406.9,390.18 1409.9,389.69 1412.9,389.78 1415.9,390.66 1418.9,389.26 1421.9,389.28 1424.9,389.28 1427.9,390.45 1430.9,390.06 1433.9,389.23 1436.9,389.28 1439.9,389.69 1442.9,389.34 1445.9,388.98 1448.9,389.06 1451.9,389.4 1454.9,389.1 1457.9,389.4 1460.9,389.15 1463.9,388.87 1466.9,389.51 1469.9,389.47 1472.9,387.93 1475.9,389.21 1478.9,388.7 1481.9,388.29 1484.9,389.28 1487.9,388.9" fill="none" stroke="#5300A6" stroke-width="3.2" stroke-linejoin="round" stroke-linecap="round"/>
<polyline points="926.9,411.54 929.9,414.3 932.9,414.51 935.9,412.63 938.9,412.92 941.9,416.17 944.9,418.13 947.9,417.08 950.9,417.22 953.9,416.28 956.9,415.16 959.9,411.65 962.9,409.13 965.9,406.43 968.9,401.63 971.9,392.51 974.9,383.68 977.9,369.57 980.9,357.15 983.9,344.66 986.9,332.4 989.9,315.12 992.9,295.53 995.9,277.5 998.9,259.64 1001.9,245.53 1004.9,238.86 1007.9,239.06 1010.9,240.88 1013.9,251.04 1016.9,265.63 1019.9,284.23 1022.9,312.25 1025.9,343.85 1028.9,375.65 1031.9,399.3 1034.9,419.23 1037.9,437.31 1040.9,444.41 1043.9,447.47 1046.9,446.13 1049.9,443.4 1052.9,438.53 1055.9,429.94 1058.9,413.18 1061.9,397.06 1064.9,385.77 1067.9,366.84 1070.9,342.26 1073.9,316.87 1076.9,283.88 1079.9,257.47 1082.9,234.3 1085.9,211.7 1088.9,188.69 1091.9,161.78 1094.9,145.8 1097.9,148.05 1100.9,156.48 1103.9,182.19 1106.9,220.34 1109.9,271.61 1112.9,320.45 1115.9,380.15 1118.9,435.31 1121.9,461.3 1124.9,480.76 1127.9,506.22 1130.9,518.25 1133.9,521.13 1136.9,517.7 1139.9,513.28 1142.9,504.06 1145.9,493.27 1148.9,481.99 1151.9,474.31 1154.9,464.34 1157.9,457.24 1160.9,449.97 1163.9,445.18 1166.9,440.72 1169.9,437.49 1172.9,432.74 1175.9,429 1178.9,424.57 1181.9,420.16 1184.9,416.09 1187.9,413.66 1190.9,410.54 1193.9,408.49 1196.9,406.05 1199.9,404.34 1202.9,402.54 1205.9,402.58 1208.9,400.69 1211.9,399.82 1214.9,398.36 1217.9,396.52 1220.9,395.92 1223.9,393.71 1226.9,394.56 1229.9,393.34 1232.9,392.62 1235.9,391.65 1238.9,390.92 1241.9,389.13 1244.9,387.56 1247.9,385.13 1250.9,383.33 1253.9,381.77 1256.9,380.61 1259.9,378.87 1262.9,377.45 1265.9,376.41 1268.9,376.7 1271.9,375.83 1274.9,376.18 1277.9,376.5 1280.9,374.93 1283.9,376.28 1286.9,376.54 1289.9,375.72 1292.9,376.67 1295.9,378.14 1298.9,378.05 1301.9,378.8 1304.9,380.76 1307.9,380.78 1310.9,381.53 1313.9,383.05 1316.9,383.52 1319.9,384.45 1322.9,386.04 1325.9,386.81 1328.9,385.8 1331.9,388.13 1334.9,388.22 1337.9,388.92 1340.9,389.65 1343.9,390.67 1346.9,390.47 1349.9,390.29 1352.9,390.96 1355.9,390.06 1358.9,391.52 1361.9,391.46 1364.9,390.65 1367.9,390.51 1370.9,390.55 1373.9,390.85 1376.9,391.68 1379.9,391.23 1382.9,390.92 1385.9,391.16 1388.9,392.07 1391.9,391.13 1394.9,390.81 1397.9,392.59 1400.9,390.76 1403.9,391.54 1406.9,391.76 1409.9,391.3 1412.9,391.04 1415.9,391.91 1418.9,391.19 1421.9,391.46 1424.9,391.01 1427.9,391.98 1430.9,390.4 1433.9,390.14 1436.9,390.31 1439.9,390.68 1442.9,390.53 1445.9,390.68 1448.9,390.14 1451.9,390.72 1454.9,389.51 1457.9,389.5 1460.9,389.96 1463.9,389.59 1466.9,389.4 1469.9,389.4 1472.9,389.18 1475.9,389.62 1478.9,389.73 1481.9,389.88 1484.9,389.06 1487.9,388.38" fill="none" stroke="#7A00F2" stroke-width="3.2" stroke-linejoin="round" stroke-linecap="round"/>
</g>
<rect x="1176.8" y="119.1" width="287.6" height="46.7" fill="#B8B8B8"/>
<text transform="translate(1181,149.4) scale(1,1.07)" font-size="30.4">H-TFSI treated MoS<tspan font-size="20" dy="8">2</tspan></text>
<text transform="translate(1339.7,195.5) scale(1,1.07)" font-size="30.4">Time (ps)</text>
<line x1="1337.4" y1="222.2" x2="1404.8" y2="222.2" stroke="#E3CCFF" stroke-width="3.2"/>
<text transform="translate(1413.8,232.2) scale(1,1.07)" font-size="30.4">0</text>
<line x1="1337.4" y1="258.7" x2="1404.8" y2="258.7" stroke="#7A00F2" stroke-width="3.2"/>
<text transform="translate(1413.8,268.7) scale(1,1.07)" font-size="30.4">1</text>
<line x1="1337.4" y1="295.2" x2="1404.8" y2="295.2" stroke="#AD66FA" stroke-width="3.2"/>
<text transform="translate(1413.8,305.2) scale(1,1.07)" font-size="30.4">2</text>
<line x1="1337.4" y1="331.7" x2="1404.8" y2="331.7" stroke="#D3A6FF" stroke-width="3.2"/>
<text transform="translate(1413.8,341.7) scale(1,1.07)" font-size="30.4">60</text>
<line x1="1337.4" y1="368.2" x2="1404.8" y2="368.2" stroke="#5300A6" stroke-width="3.2"/>
<text transform="translate(1413.8,378.2) scale(1,1.07)" font-size="30.4">400</text>
<text x="-1" y="741.7" font-size="45" font-weight="bold">c</text>
<rect x="152.2" y="784.6" width="562.4" height="452.4" fill="none" stroke="#000" stroke-width="2.05"/>
<line x1="227.19" y1="1237" x2="227.19" y2="1245.5" stroke="#000" stroke-width="1.9"/>
<text transform="translate(227.19,1275.3) scale(1,1.07)" font-size="30.3" text-anchor="middle">600</text>
<line x1="320.92" y1="1237" x2="320.92" y2="1245.5" stroke="#000" stroke-width="1.9"/>
<text transform="translate(320.92,1275.3) scale(1,1.07)" font-size="30.3" text-anchor="middle">650</text>
<line x1="414.65" y1="1237" x2="414.65" y2="1245.5" stroke="#000" stroke-width="1.9"/>
<text transform="translate(414.65,1275.3) scale(1,1.07)" font-size="30.3" text-anchor="middle">700</text>
<line x1="508.39" y1="1237" x2="508.39" y2="1245.5" stroke="#000" stroke-width="1.9"/>
<text transform="translate(508.39,1275.3) scale(1,1.07)" font-size="30.3" text-anchor="middle">750</text>
<line x1="602.12" y1="1237" x2="602.12" y2="1245.5" stroke="#000" stroke-width="1.9"/>
<text transform="translate(602.12,1275.3) scale(1,1.07)" font-size="30.3" text-anchor="middle">800</text>
<line x1="695.85" y1="1237" x2="695.85" y2="1245.5" stroke="#000" stroke-width="1.9"/>
<text transform="translate(695.85,1275.3) scale(1,1.07)" font-size="30.3" text-anchor="middle">850</text>
<line x1="180.32" y1="1237" x2="180.32" y2="1241.5" stroke="#000" stroke-width="1.9"/>
<line x1="274.05" y1="1237" x2="274.05" y2="1241.5" stroke="#000" stroke-width="1.9"/>
<line x1="367.79" y1="1237" x2="367.79" y2="1241.5" stroke="#000" stroke-width="1.9"/>
<line x1="461.52" y1="1237" x2="461.52" y2="1241.5" stroke="#000" stroke-width="1.9"/>
<line x1="555.25" y1="1237" x2="555.25" y2="1241.5" stroke="#000" stroke-width="1.9"/>
<line x1="648.99" y1="1237" x2="648.99" y2="1241.5" stroke="#000" stroke-width="1.9"/>
<g clip-path="url(#clipCtop)">
<line x1="227.19" y1="784.6" x2="227.19" y2="776.1" stroke="#000" stroke-width="1.9"/>
<text transform="translate(227.19,763.1) scale(1,1.07)" font-size="30.3" text-anchor="middle">2.07</text>
<line x1="320.92" y1="784.6" x2="320.92" y2="776.1" stroke="#000" stroke-width="1.9"/>
<text transform="translate(320.92,763.1) scale(1,1.07)" font-size="30.3" text-anchor="middle">1.91</text>
<line x1="414.65" y1="784.6" x2="414.65" y2="776.1" stroke="#000" stroke-width="1.9"/>
<text transform="translate(414.65,763.1) scale(1,1.07)" font-size="30.3" text-anchor="middle">1.77</text>
<line x1="508.39" y1="784.6" x2="508.39" y2="776.1" stroke="#000" stroke-width="1.9"/>
<text transform="translate(508.39,763.1) scale(1,1.07)" font-size="30.3" text-anchor="middle">1.65</text>
<line x1="602.12" y1="784.6" x2="602.12" y2="776.1" stroke="#000" stroke-width="1.9"/>
<text transform="translate(602.12,763.1) scale(1,1.07)" font-size="30.3" text-anchor="middle">1.55</text>
<line x1="695.85" y1="784.6" x2="695.85" y2="776.1" stroke="#000" stroke-width="1.9"/>
<text transform="translate(695.85,763.1) scale(1,1.07)" font-size="30.3" text-anchor="middle">1.46</text>
<line x1="180.32" y1="784.6" x2="180.32" y2="780.1" stroke="#000" stroke-width="1.9"/>
<line x1="274.05" y1="784.6" x2="274.05" y2="780.1" stroke="#000" stroke-width="1.9"/>
<line x1="367.79" y1="784.6" x2="367.79" y2="780.1" stroke="#000" stroke-width="1.9"/>
<line x1="461.52" y1="784.6" x2="461.52" y2="780.1" stroke="#000" stroke-width="1.9"/>
<line x1="555.25" y1="784.6" x2="555.25" y2="780.1" stroke="#000" stroke-width="1.9"/>
<line x1="648.99" y1="784.6" x2="648.99" y2="780.1" stroke="#000" stroke-width="1.9"/>
</g>
<line x1="143.7" y1="1180.45" x2="152.2" y2="1180.45" stroke="#000" stroke-width="1.9"/>
<text transform="translate(137.9,1190.35) scale(1,1.07)" font-size="30.3" text-anchor="end">-3.0</text>
<line x1="143.7" y1="1095.62" x2="152.2" y2="1095.62" stroke="#000" stroke-width="1.9"/>
<text transform="translate(137.9,1105.53) scale(1,1.07)" font-size="30.3" text-anchor="end">0.0</text>
<line x1="143.7" y1="1010.8" x2="152.2" y2="1010.8" stroke="#000" stroke-width="1.9"/>
<text transform="translate(137.9,1020.7) scale(1,1.07)" font-size="30.3" text-anchor="end">3.0</text>
<line x1="143.7" y1="925.98" x2="152.2" y2="925.98" stroke="#000" stroke-width="1.9"/>
<text transform="translate(137.9,935.88) scale(1,1.07)" font-size="30.3" text-anchor="end">6.0</text>
<line x1="143.7" y1="841.15" x2="152.2" y2="841.15" stroke="#000" stroke-width="1.9"/>
<text transform="translate(137.9,851.05) scale(1,1.07)" font-size="30.3" text-anchor="end">9.0</text>
<line x1="147.7" y1="1222.86" x2="152.2" y2="1222.86" stroke="#000" stroke-width="1.9"/>
<line x1="147.7" y1="1138.04" x2="152.2" y2="1138.04" stroke="#000" stroke-width="1.9"/>
<line x1="147.7" y1="1053.21" x2="152.2" y2="1053.21" stroke="#000" stroke-width="1.9"/>
<line x1="147.7" y1="968.39" x2="152.2" y2="968.39" stroke="#000" stroke-width="1.9"/>
<line x1="147.7" y1="883.56" x2="152.2" y2="883.56" stroke="#000" stroke-width="1.9"/>
<line x1="147.7" y1="798.74" x2="152.2" y2="798.74" stroke="#000" stroke-width="1.9"/>
<text x="426" y="717.6" font-size="50.5" text-anchor="middle">Energy (eV)</text>
<text x="420" y="1324.2" font-size="50.5" text-anchor="middle">Wavelength (nm)</text>
<text transform="translate(53.7,973.6) rotate(-90)" font-size="50.5" text-anchor="middle">m&#916;T/T</text>
<g clip-path="url(#clipC)">
<polyline points="152.2,1094.69 155.2,1094.24 158.2,1094.18 161.2,1094.64 164.2,1095.08 167.2,1094.69 170.2,1094.28 173.2,1093.55 176.2,1093.97 179.2,1094.04 182.2,1095.11 185.2,1093.14 188.2,1094.74 191.2,1094.11 194.2,1094.69 197.2,1093.24 200.2,1094.27 203.2,1094.72 206.2,1094.39 209.2,1094.93 212.2,1094.62 215.2,1094.52 218.2,1093.58 221.2,1094.09 224.2,1093.93 227.2,1094.24 230.2,1096.18 233.2,1094.15 236.2,1094.78 239.2,1094.68 242.2,1094.83 245.2,1094.76 248.2,1093.05 251.2,1094.34 254.2,1093.33 257.2,1093.37 260.2,1094.98 263.2,1094.26 266.2,1093.58 269.2,1093.53 272.2,1094.42 275.2,1093.14 278.2,1095.25 281.2,1094.77 284.2,1094.95 287.2,1095.1 290.2,1094.91 293.2,1095.15 296.2,1094.12 299.2,1094.45 302.2,1093.84 305.2,1095.5 308.2,1094.48 311.2,1094.68 314.2,1093.86 317.2,1094.11 320.2,1094.15 323.2,1093.82 326.2,1093.69 329.2,1094.95 332.2,1094.02 335.2,1094.51 338.2,1094.36 341.2,1094.02 344.2,1094.1 347.2,1094.87 350.2,1094.4 353.2,1093.75 356.2,1093.87 359.2,1094.03 362.2,1093.8 365.2,1095.21 368.2,1094.43 371.2,1095.46 374.2,1093.96 377.2,1094.11 380.2,1095.85 383.2,1093.61 386.2,1094.05 389.2,1093.92 392.2,1094.38 395.2,1094.71 398.2,1095.14 401.2,1095.22 404.2,1094.28 407.2,1094.68 410.2,1093.74 413.2,1094.92 416.2,1093.66 419.2,1095.55 422.2,1093.4 425.2,1095.09 428.2,1094.77 431.2,1094.06 434.2,1095.97 437.2,1094.38 440.2,1096.03 443.2,1094.6 446.2,1094.86 449.2,1093.39 452.2,1094.31 455.2,1094.85 458.2,1094.23 461.2,1094.28 464.2,1094.03 467.2,1094.63 470.2,1094.33 473.2,1096.39 476.2,1094.26 479.2,1094.8 482.2,1095.08 485.2,1094.72 488.2,1095.05 491.2,1094.03 494.2,1094.23 497.2,1094.06 500.2,1093.72 503.2,1095.24 506.2,1094.74 509.2,1093.08 512.2,1094.59 515.2,1095.48 518.2,1094.56 521.2,1094.97 524.2,1094.98 527.2,1094.88 530.2,1094.15 533.2,1094.32 536.2,1094.45 539.2,1095.32 542.2,1094.56 545.2,1093.62 548.2,1095.18 551.2,1094.44 554.2,1094.49 557.2,1094.44 560.2,1095.41 563.2,1094.53 566.2,1094.52 569.2,1095.18 572.2,1094.63 575.2,1093.91 578.2,1093.13 581.2,1094.79 584.2,1095.63 587.2,1093.5 590.2,1093.62 593.2,1094.04 596.2,1094.86 599.2,1094.72 602.2,1093.73 605.2,1094.43 608.2,1095.33 611.2,1094.05 614.2,1095.29 617.2,1094.05 620.2,1094.32 623.2,1095.04 626.2,1094.67 629.2,1093.47 632.2,1095.28 635.2,1094.93 638.2,1095.51 641.2,1093.94 644.2,1095.46 647.2,1094.7 650.2,1096.02 653.2,1094.01 656.2,1094.2 659.2,1094.51 662.2,1093.98 665.2,1095.09 668.2,1094.91 671.2,1093.32 674.2,1094.33 677.2,1094.95 680.2,1094.8 683.2,1094 686.2,1094.65 689.2,1094.6 692.2,1094.3 695.2,1094.61 698.2,1093.97 701.2,1095.08 704.2,1094.18 707.2,1095.21 710.2,1092.92 713.2,1094.3" fill="none" stroke="#FFC4DE" stroke-width="3.2" stroke-linejoin="round" stroke-linecap="round"/>
<polyline points="152.2,1106.06 155.2,1104.75 158.2,1104.34 161.2,1105.43 164.2,1107.15 167.2,1106.41 170.2,1106.12 173.2,1106.41 176.2,1106.33 179.2,1106.37 182.2,1105.29 185.2,1105.37 188.2,1103.56 191.2,1102.89 194.2,1101.34 197.2,1100.18 200.2,1099.59 203.2,1095.05 206.2,1091.9 209.2,1088.49 212.2,1085.23 215.2,1080.2 218.2,1074.78 221.2,1069.75 224.2,1063.45 227.2,1059.21 230.2,1055.19 233.2,1052.56 236.2,1050.94 239.2,1053.07 242.2,1057.41 245.2,1061.42 248.2,1070.11 251.2,1076.97 254.2,1086.35 257.2,1091.56 260.2,1097.87 263.2,1105.2 266.2,1110.55 269.2,1113.77 272.2,1113.36 275.2,1110.77 278.2,1110.23 281.2,1109.61 284.2,1105.05 287.2,1103.66 290.2,1100.26 293.2,1093.82 296.2,1073.03 299.2,1053.53 302.2,1041.85 305.2,1034.82 308.2,1026.43 311.2,1019.61 314.2,1015.28 317.2,1010.99 320.2,1009.74 323.2,1008.56 326.2,1011.5 329.2,1025.43 332.2,1042.24 335.2,1060.26 338.2,1080.6 341.2,1100.61 344.2,1119.07 347.2,1135.68 350.2,1143.52 353.2,1145.22 356.2,1144.66 359.2,1142.07 362.2,1137.66 365.2,1134.26 368.2,1130.59 371.2,1127.15 374.2,1121.03 377.2,1115.87 380.2,1113.27 383.2,1110.36 386.2,1109.16 389.2,1107.97 392.2,1105.6 395.2,1103.91 398.2,1102.24 401.2,1102.42 404.2,1100.94 407.2,1100.2 410.2,1099.71 413.2,1099.52 416.2,1097.84 419.2,1097.87 422.2,1098.65 425.2,1097.51 428.2,1097.92 431.2,1099.09 434.2,1096.62 437.2,1097.41 440.2,1097.58 443.2,1098 446.2,1096.93 449.2,1096.05 452.2,1096.07 455.2,1096.55 458.2,1095.56 461.2,1097.71 464.2,1095.81 467.2,1097.09 470.2,1096.63 473.2,1096.24 476.2,1096.39 479.2,1095.23 482.2,1095.84 485.2,1096.35 488.2,1096.05 491.2,1096.23 494.2,1096.15 497.2,1096.71 500.2,1095.5 503.2,1096.11 506.2,1096.58 509.2,1095.79 512.2,1095.58 515.2,1096.43 518.2,1096.44 521.2,1095.47 524.2,1095.35 527.2,1096.11 530.2,1096.44 533.2,1095.4 536.2,1095.33 539.2,1096.16 542.2,1097.48 545.2,1095.66 548.2,1095.49 551.2,1095.2 554.2,1096.42 557.2,1095.56 560.2,1094.63 563.2,1094.79 566.2,1094.84 569.2,1095.32 572.2,1095.56 575.2,1096.01 578.2,1094.95 581.2,1095.88 584.2,1094.67 587.2,1095.86 590.2,1095.57 593.2,1095.76 596.2,1094.65 599.2,1095.04 602.2,1095.46 605.2,1096.41 608.2,1095.77 611.2,1096.12 614.2,1095.75 617.2,1096.19 620.2,1095.54 623.2,1096.47 626.2,1095.75 629.2,1095.46 632.2,1096.32 635.2,1096.28 638.2,1095.47 641.2,1096.27 644.2,1095.07 647.2,1096.02 650.2,1094.65 653.2,1096.05 656.2,1094.95 659.2,1095.73 662.2,1095.81 665.2,1095.53 668.2,1094.55 671.2,1095.19 674.2,1095.37 677.2,1095.71 680.2,1095.25 683.2,1095.15 686.2,1096.18 689.2,1095.34 692.2,1095.84 695.2,1093.9 698.2,1094.63 701.2,1095.09 704.2,1094.89 707.2,1094.95 710.2,1095.91 713.2,1096.37" fill="none" stroke="#FFB6DA" stroke-width="3.2" stroke-linejoin="round" stroke-linecap="round"/>
<polyline points="152.2,1098.99 155.2,1097.48 158.2,1097.43 161.2,1098.13 164.2,1098.06 167.2,1100.48 170.2,1101.26 173.2,1102.33 176.2,1103.8 179.2,1103.12 182.2,1102.69 185.2,1103.6 188.2,1103.42 191.2,1102.51 194.2,1103.09 197.2,1102.96 200.2,1100.52 203.2,1099.36 206.2,1097.69 209.2,1096.02 212.2,1094.31 215.2,1091.73 218.2,1089.66 221.2,1085.21 224.2,1081.4 227.2,1078.41 230.2,1075.33 233.2,1074.16 236.2,1073.69 239.2,1073.75 242.2,1074.43 245.2,1077.3 248.2,1080.36 251.2,1082.35 254.2,1086.42 257.2,1091.74 260.2,1093.69 263.2,1097.66 266.2,1100.41 269.2,1099.51 272.2,1099.96 275.2,1100.58 278.2,1100.85 281.2,1099.73 284.2,1097.61 287.2,1096.99 290.2,1094.28 293.2,1093.85 296.2,1090.54 299.2,1087.16 302.2,1081.67 305.2,1075.3 308.2,1066.79 311.2,1059.97 314.2,1053.53 317.2,1046.08 320.2,1038.7 323.2,1035.43 326.2,1035.96 329.2,1040.95 332.2,1048.21 335.2,1062.01 338.2,1076.88 341.2,1090.97 344.2,1104.08 347.2,1112.03 350.2,1118.42 353.2,1120.24 356.2,1118.71 359.2,1118.18 362.2,1116.83 365.2,1113.52 368.2,1111.85 371.2,1109.05 374.2,1106.47 377.2,1104.74 380.2,1102.41 383.2,1101.8 386.2,1101.61 389.2,1099.76 392.2,1098.4 395.2,1099.38 398.2,1097.23 401.2,1098.61 404.2,1097.29 407.2,1097.26 410.2,1096.8 413.2,1096.36 416.2,1096.8 419.2,1095.98 422.2,1095.46 425.2,1095.91 428.2,1094.76 431.2,1095.66 434.2,1094.61 437.2,1095.62 440.2,1095.98 443.2,1095.87 446.2,1095.33 449.2,1093.74 452.2,1095.01 455.2,1096 458.2,1094.8 461.2,1095.45 464.2,1094.67 467.2,1095.96 470.2,1093.69 473.2,1094.59 476.2,1094.62 479.2,1095.1 482.2,1094.76 485.2,1094.78 488.2,1093.26 491.2,1095.78 494.2,1094.66 497.2,1094.11 500.2,1095.27 503.2,1093.73 506.2,1094.56 509.2,1094.91 512.2,1094.73 515.2,1094.37 518.2,1094.13 521.2,1093.54 524.2,1094.31 527.2,1093.3 530.2,1094.67 533.2,1094.51 536.2,1093.97 539.2,1092.78 542.2,1094.28 545.2,1094.24 548.2,1093.18 551.2,1093.55 554.2,1093.85 557.2,1094.16 560.2,1093.48 563.2,1093.18 566.2,1093.33 569.2,1093.03 572.2,1094.65 575.2,1094.66 578.2,1092.31 581.2,1093.27 584.2,1094.42 587.2,1094.3 590.2,1094.61 593.2,1094.17 596.2,1093.67 599.2,1093.55 602.2,1094.19 605.2,1093.6 608.2,1092.33 611.2,1093.38 614.2,1092.21 617.2,1093.75 620.2,1093.44 623.2,1093.15 626.2,1093.38 629.2,1092.16 632.2,1092.88 635.2,1092.81 638.2,1093.21 641.2,1093.02 644.2,1093.24 647.2,1093.25 650.2,1092.28 653.2,1092.36 656.2,1093.76 659.2,1092.57 662.2,1092.97 665.2,1093.54 668.2,1092.86 671.2,1094.35 674.2,1092.49 677.2,1092.67 680.2,1091.82 683.2,1093.53 686.2,1092.79 689.2,1093.39 692.2,1093.32 695.2,1094.47 698.2,1093.34 701.2,1092.76 704.2,1092.73 707.2,1093.48 710.2,1091.86 713.2,1092.7" fill="none" stroke="#C6005F" stroke-width="3.2" stroke-linejoin="round" stroke-linecap="round"/>
<polyline points="152.2,1119.98 155.2,1120.65 158.2,1122.71 161.2,1124.08 164.2,1123.19 167.2,1125.52 170.2,1124.91 173.2,1123.87 176.2,1123.38 179.2,1122.94 182.2,1121.56 185.2,1119.6 188.2,1117.29 191.2,1116.41 194.2,1112.36 197.2,1110.08 200.2,1105.22 203.2,1096.47 206.2,1085.2 209.2,1068.7 212.2,1055.38 215.2,1038.79 218.2,1021.7 221.2,1008.99 224.2,996.67 227.2,985.95 230.2,978.67 233.2,970.83 236.2,967.12 239.2,966.41 242.2,966.98 245.2,977.07 248.2,990.86 251.2,1006.53 254.2,1029.21 257.2,1050.51 260.2,1073.76 263.2,1094.49 266.2,1109.55 269.2,1119.63 272.2,1128.92 275.2,1134.45 278.2,1135.05 281.2,1129.26 284.2,1128.38 287.2,1127.5 290.2,1124.67 293.2,1111.14 296.2,1085.45 299.2,1054.87 302.2,1023.35 305.2,998.41 308.2,977 311.2,954.92 314.2,932.63 317.2,918.9 320.2,910.37 323.2,906.42 326.2,915.75 329.2,942.92 332.2,989.61 335.2,1029.42 338.2,1069.16 341.2,1110.66 344.2,1140.18 347.2,1161.65 350.2,1172.86 353.2,1180.58 356.2,1187.9 359.2,1193.58 362.2,1200.5 365.2,1205.17 368.2,1203.46 371.2,1199.63 374.2,1193.73 377.2,1186.24 380.2,1178.56 383.2,1176.96 386.2,1171.31 389.2,1167.62 392.2,1162.5 395.2,1159.3 398.2,1156.05 401.2,1151.93 404.2,1145.86 407.2,1140.65 410.2,1136.39 413.2,1134.2 416.2,1129.59 419.2,1127.82 422.2,1125.1 425.2,1123.93 428.2,1121.57 431.2,1119.32 434.2,1117.74 437.2,1117.63 440.2,1115.97 443.2,1114.97 446.2,1114.42 449.2,1112.66 452.2,1111.77 455.2,1109.76 458.2,1108.21 461.2,1106.99 464.2,1106.12 467.2,1106.27 470.2,1104.72 473.2,1103.77 476.2,1102.6 479.2,1102.52 482.2,1102.94 485.2,1101.99 488.2,1100.95 491.2,1100.3 494.2,1100.38 497.2,1099.61 500.2,1099.86 503.2,1099.66 506.2,1099.65 509.2,1098.68 512.2,1098.37 515.2,1099.98 518.2,1098.42 521.2,1098.51 524.2,1098.98 527.2,1099.38 530.2,1099.03 533.2,1099.79 536.2,1098.41 539.2,1098.44 542.2,1098.78 545.2,1099.58 548.2,1099.54 551.2,1099.02 554.2,1099.76 557.2,1099.47 560.2,1099.23 563.2,1098.97 566.2,1099.59 569.2,1099.09 572.2,1099.46 575.2,1098.94 578.2,1099.21 581.2,1099.44 584.2,1099.25 587.2,1099.8 590.2,1099.62 593.2,1099.44 596.2,1100.03 599.2,1098.77 602.2,1100.24 605.2,1098.55 608.2,1100.15 611.2,1100.22 614.2,1100.34 617.2,1099.68 620.2,1099.87 623.2,1099.88 626.2,1099.44 629.2,1099.49 632.2,1099.76 635.2,1099.37 638.2,1099.1 641.2,1099.23 644.2,1099.13 647.2,1099.78 650.2,1098.44 653.2,1098.47 656.2,1099.21 659.2,1098.41 662.2,1098.09 665.2,1098.58 668.2,1098.82 671.2,1099.03 674.2,1097.66 677.2,1097.91 680.2,1098.16 683.2,1098.17 686.2,1098.28 689.2,1098.03 692.2,1097.62 695.2,1096.96 698.2,1097.37 701.2,1098.45 704.2,1098.19 707.2,1097.59 710.2,1096.58 713.2,1096.79" fill="none" stroke="#FF58A8" stroke-width="3.2" stroke-linejoin="round" stroke-linecap="round"/>
<polyline points="152.2,1126.36 155.2,1125.94 158.2,1127.67 161.2,1127.85 164.2,1128.51 167.2,1131.3 170.2,1134.81 173.2,1136.45 176.2,1134.4 179.2,1134.41 182.2,1132.22 185.2,1131.27 188.2,1130.24 191.2,1129.59 194.2,1127.26 197.2,1125.41 200.2,1120.86 203.2,1110.71 206.2,1098.02 209.2,1083.17 212.2,1068.79 215.2,1049.02 218.2,1030.65 221.2,1006.56 224.2,983.36 227.2,964.31 230.2,947.73 233.2,936.26 236.2,926.46 239.2,919.68 242.2,921.47 245.2,930.09 248.2,942.7 251.2,956.81 254.2,978.71 257.2,1005.11 260.2,1026.89 263.2,1049.44 266.2,1068.64 269.2,1089.65 272.2,1106.28 275.2,1107.9 278.2,1104.45 281.2,1100.06 284.2,1094.65 287.2,1089.62 290.2,1078.79 293.2,1067.33 296.2,1045.8 299.2,1016.46 302.2,987.33 305.2,960.17 308.2,928.11 311.2,887.03 314.2,848.03 317.2,830.24 320.2,818.71 323.2,816.34 326.2,822.11 329.2,851.49 332.2,895.47 335.2,942.91 338.2,994.48 341.2,1047.3 344.2,1093.23 347.2,1121.89 350.2,1140.34 353.2,1149.58 356.2,1160.41 359.2,1170.66 362.2,1178.48 365.2,1190.45 368.2,1199.12 371.2,1199.08 374.2,1194.55 377.2,1183.99 380.2,1183.23 383.2,1184.75 386.2,1181.57 389.2,1175.16 392.2,1169.7 395.2,1166.26 398.2,1160.99 401.2,1157.41 404.2,1152.9 407.2,1147.45 410.2,1144.7 413.2,1138.62 416.2,1133.92 419.2,1131.55 422.2,1128.99 425.2,1127.14 428.2,1126.19 431.2,1124.44 434.2,1123.73 437.2,1122.29 440.2,1118.18 443.2,1117.8 446.2,1116.51 449.2,1116.24 452.2,1114.56 455.2,1114.64 458.2,1114.01 461.2,1111.97 464.2,1111.89 467.2,1111.3 470.2,1109.54 473.2,1108.14 476.2,1105.47 479.2,1104.53 482.2,1103.02 485.2,1103 488.2,1102.24 491.2,1101.21 494.2,1100.67 497.2,1099.54 500.2,1100.43 503.2,1099.64 506.2,1098.95 509.2,1098.44 512.2,1098.81 515.2,1098.49 518.2,1099.7 521.2,1098.82 524.2,1098.02 527.2,1098.29 530.2,1097.94 533.2,1098.72 536.2,1099.27 539.2,1099.29 542.2,1099.01 545.2,1099.29 548.2,1099.98 551.2,1099.49 554.2,1099.14 557.2,1098.04 560.2,1098.8 563.2,1099.14 566.2,1100.18 569.2,1098.61 572.2,1099.19 575.2,1098.43 578.2,1098.03 581.2,1099.59 584.2,1098.32 587.2,1099.2 590.2,1098.63 593.2,1097.61 596.2,1099.28 599.2,1098.48 602.2,1097.22 605.2,1099.6 608.2,1100.41 611.2,1098.57 614.2,1098.84 617.2,1098.73 620.2,1098.16 623.2,1099.06 626.2,1097.72 629.2,1098.27 632.2,1099.83 635.2,1099.08 638.2,1098.73 641.2,1098.87 644.2,1098.33 647.2,1097.75 650.2,1097.85 653.2,1097.04 656.2,1096.4 659.2,1097.59 662.2,1096.71 665.2,1097.36 668.2,1097.63 671.2,1096.89 674.2,1096.77 677.2,1095.97 680.2,1095.86 683.2,1095.88 686.2,1095.58 689.2,1095.98 692.2,1095 695.2,1096.06 698.2,1094.94 701.2,1095.16 704.2,1095.21 707.2,1094.45 710.2,1094.74 713.2,1093.69" fill="none" stroke="#F2007D" stroke-width="3.2" stroke-linejoin="round" stroke-linecap="round"/>
</g>
<rect x="403.7" y="794.3" width="288.5" height="47" fill="#B8B8B8"/>
<text transform="translate(409.4,825.9) scale(1,1.07)" font-size="30.4">Li-TFSI treated MoS<tspan font-size="20" dy="8">2</tspan></text>
<text transform="translate(565.4,883.7) scale(1,1.07)" font-size="30.4">Time (ps)</text>
<line x1="563.8" y1="910.2" x2="631.6" y2="910.2" stroke="#FFC4DE" stroke-width="3.2"/>
<text transform="translate(640.4,920.1) scale(1,1.07)" font-size="30.4">0</text>
<line x1="563.8" y1="946.6" x2="631.6" y2="946.6" stroke="#F2007D" stroke-width="3.2"/>
<text transform="translate(640.4,956.5) scale(1,1.07)" font-size="30.4">1</text>
<line x1="563.8" y1="983" x2="631.6" y2="983" stroke="#FF58A8" stroke-width="3.2"/>
<text transform="translate(640.4,992.9) scale(1,1.07)" font-size="30.4">2</text>
<line x1="563.8" y1="1019.4" x2="631.6" y2="1019.4" stroke="#FFB6DA" stroke-width="3.2"/>
<text transform="translate(640.4,1029.3) scale(1,1.07)" font-size="30.4">60</text>
<line x1="563.8" y1="1055.8" x2="631.6" y2="1055.8" stroke="#C6005F" stroke-width="3.2"/>
<text transform="translate(640.4,1065.7) scale(1,1.07)" font-size="30.4">400</text>
<text x="780" y="740.5" font-size="45" font-weight="bold">d</text>
<rect x="915.2" y="776.1" width="573.4" height="462.7" fill="none" stroke="#000" stroke-width="2.05"/>
<line x1="962.98" y1="1238.8" x2="962.98" y2="1247.8" stroke="#000" stroke-width="1.9"/>
<text transform="translate(962.98,1278.2) scale(1,1.07)" font-size="30.3" text-anchor="middle">-1.0</text>
<line x1="1082.44" y1="1238.8" x2="1082.44" y2="1247.8" stroke="#000" stroke-width="1.9"/>
<text transform="translate(1082.44,1278.2) scale(1,1.07)" font-size="30.3" text-anchor="middle">-0.5</text>
<line x1="1201.9" y1="1238.8" x2="1201.9" y2="1247.8" stroke="#000" stroke-width="1.9"/>
<text transform="translate(1201.9,1278.2) scale(1,1.07)" font-size="30.3" text-anchor="middle">0.0</text>
<line x1="1321.36" y1="1238.8" x2="1321.36" y2="1247.8" stroke="#000" stroke-width="1.9"/>
<text transform="translate(1321.36,1278.2) scale(1,1.07)" font-size="30.3" text-anchor="middle">0.5</text>
<line x1="1440.82" y1="1238.8" x2="1440.82" y2="1247.8" stroke="#000" stroke-width="1.9"/>
<text transform="translate(1440.82,1278.2) scale(1,1.07)" font-size="30.3" text-anchor="middle">1.0</text>
<line x1="1022.71" y1="1238.8" x2="1022.71" y2="1243.8" stroke="#000" stroke-width="1.9"/>
<line x1="1142.17" y1="1238.8" x2="1142.17" y2="1243.8" stroke="#000" stroke-width="1.9"/>
<line x1="1261.63" y1="1238.8" x2="1261.63" y2="1243.8" stroke="#000" stroke-width="1.9"/>
<line x1="1381.09" y1="1238.8" x2="1381.09" y2="1243.8" stroke="#000" stroke-width="1.9"/>
<line x1="906.2" y1="1238.8" x2="915.2" y2="1238.8" stroke="#000" stroke-width="1.9"/>
<text transform="translate(900.9,1248.6) scale(1,1.07)" font-size="30.3" text-anchor="end">0.0</text>
<line x1="906.2" y1="1150.67" x2="915.2" y2="1150.67" stroke="#000" stroke-width="1.9"/>
<text transform="translate(900.9,1160.47) scale(1,1.07)" font-size="30.3" text-anchor="end">0.2</text>
<line x1="906.2" y1="1062.53" x2="915.2" y2="1062.53" stroke="#000" stroke-width="1.9"/>
<text transform="translate(900.9,1072.33) scale(1,1.07)" font-size="30.3" text-anchor="end">0.4</text>
<line x1="906.2" y1="974.4" x2="915.2" y2="974.4" stroke="#000" stroke-width="1.9"/>
<text transform="translate(900.9,984.2) scale(1,1.07)" font-size="30.3" text-anchor="end">0.6</text>
<line x1="906.2" y1="886.27" x2="915.2" y2="886.27" stroke="#000" stroke-width="1.9"/>
<text transform="translate(900.9,896.07) scale(1,1.07)" font-size="30.3" text-anchor="end">0.8</text>
<line x1="906.2" y1="798.13" x2="915.2" y2="798.13" stroke="#000" stroke-width="1.9"/>
<text transform="translate(900.9,807.93) scale(1,1.07)" font-size="30.3" text-anchor="end">1.0</text>
<line x1="910.2" y1="1194.73" x2="915.2" y2="1194.73" stroke="#000" stroke-width="1.9"/>
<line x1="910.2" y1="1106.6" x2="915.2" y2="1106.6" stroke="#000" stroke-width="1.9"/>
<line x1="910.2" y1="1018.47" x2="915.2" y2="1018.47" stroke="#000" stroke-width="1.9"/>
<line x1="910.2" y1="930.33" x2="915.2" y2="930.33" stroke="#000" stroke-width="1.9"/>
<line x1="910.2" y1="842.2" x2="915.2" y2="842.2" stroke="#000" stroke-width="1.9"/>
<text x="1213" y="1324.6" font-size="50.5" text-anchor="middle">Distance x (&#956;m)</text>
<text transform="translate(819.4,1126) rotate(-90)" font-size="50.5"><tspan font-style="italic">I</tspan><tspan font-size="33.5" dy="12.3">PL</tspan><tspan dy="-12.3" dx="-4"> (norm.)</tspan></text>
<g clip-path="url(#clipD)">
<path d="M1034.66,1238.8 L1034.66,1238.8 L1036.13,1233.85 L1037.6,1232.01 L1039.07,1231.58 L1040.54,1231.19 L1042.01,1230.85 L1043.48,1230.56 L1044.94,1230.31 L1046.41,1230.09 L1047.88,1229.9 L1049.35,1229.75 L1050.82,1229.61 L1052.29,1229.5 L1053.76,1229.4 L1055.23,1229.32 L1056.7,1229.24 L1058.17,1229.17 L1059.64,1229.1 L1061.11,1229.03 L1062.58,1228.95 L1064.05,1228.86 L1065.52,1228.75 L1066.99,1228.63 L1068.46,1228.48 L1069.93,1228.31 L1071.4,1228.11 L1072.87,1227.87 L1074.33,1227.59 L1075.8,1227.28 L1077.27,1226.88 L1078.74,1226.39 L1080.21,1225.81 L1081.68,1225.15 L1083.15,1224.4 L1084.62,1223.56 L1086.09,1222.65 L1087.56,1221.65 L1089.03,1220.58 L1090.5,1219.43 L1091.97,1218.21 L1093.44,1216.92 L1094.91,1215.56 L1096.38,1214.13 L1097.85,1212.6 L1099.32,1210.71 L1100.79,1208.43 L1102.25,1205.79 L1103.72,1202.84 L1105.19,1199.63 L1106.66,1196.18 L1108.13,1192.55 L1109.6,1188.78 L1111.07,1184.91 L1112.54,1180.97 L1114.01,1177.02 L1115.48,1172.93 L1116.95,1168.56 L1118.42,1163.95 L1119.89,1159.1 L1121.36,1154.03 L1122.83,1148.75 L1124.3,1143.29 L1125.77,1137.67 L1127.24,1131.88 L1128.71,1125.97 L1130.18,1119.93 L1131.64,1113.74 L1133.11,1107.16 L1134.58,1100.19 L1136.05,1092.92 L1137.52,1085.41 L1138.99,1077.75 L1140.46,1069.99 L1141.93,1062.23 L1143.4,1054.53 L1144.87,1046.97 L1146.34,1039.57 L1147.81,1032.25 L1149.28,1024.93 L1150.75,1017.58 L1152.22,1010.12 L1153.69,1002.51 L1155.16,994.69 L1156.63,986.59 L1158.1,978.23 L1159.56,969.68 L1161.03,961.01 L1162.5,952.3 L1163.97,943.6 L1165.44,934.99 L1166.91,926.53 L1168.38,918.29 L1169.85,910.31 L1171.32,902.28 L1172.79,894.18 L1174.26,886.13 L1175.73,878.28 L1177.2,870.74 L1178.67,863.66 L1180.14,857.17 L1181.61,851.39 L1183.08,846.11 L1184.55,841.16 L1186.02,836.51 L1187.49,832.12 L1188.95,827.96 L1190.42,823.99 L1191.89,820.17 L1193.36,816.48 L1194.83,812.52 L1196.3,808.29 L1197.77,804.28 L1199.24,800.94 L1200.71,798.75 L1202.18,798.15 L1203.65,798.82 L1205.12,800.18 L1206.59,801.91 L1208.06,803.68 L1209.53,805.17 L1211,806.47 L1212.47,807.85 L1213.94,809.57 L1215.41,811.7 L1216.87,814.19 L1218.34,817.02 L1219.81,820.16 L1221.28,823.58 L1222.75,827.27 L1224.22,831.26 L1225.69,835.79 L1227.16,840.86 L1228.63,846.42 L1230.1,852.4 L1231.57,858.77 L1233.04,865.46 L1234.51,872.43 L1235.98,879.63 L1237.45,887 L1238.92,894.82 L1240.39,903.57 L1241.86,912.99 L1243.33,922.78 L1244.8,932.66 L1246.26,942.34 L1247.73,951.55 L1249.2,960.54 L1250.67,969.45 L1252.14,978.31 L1253.61,987.11 L1255.08,995.88 L1256.55,1004.64 L1258.02,1013.39 L1259.49,1022.16 L1260.96,1031.02 L1262.43,1039.96 L1263.9,1048.92 L1265.37,1057.84 L1266.84,1066.66 L1268.31,1075.33 L1269.78,1083.78 L1271.25,1091.96 L1272.72,1100.01 L1274.18,1108.12 L1275.65,1116.19 L1277.12,1124.08 L1278.59,1131.68 L1280.06,1138.86 L1281.53,1145.51 L1283,1151.49 L1284.47,1156.9 L1285.94,1162.2 L1287.41,1167.38 L1288.88,1172.39 L1290.35,1177.18 L1291.82,1181.72 L1293.29,1185.97 L1294.76,1189.87 L1296.23,1193.4 L1297.7,1196.51 L1299.17,1199.16 L1300.64,1201.31 L1302.11,1203.2 L1303.57,1204.96 L1305.04,1206.6 L1306.51,1208.12 L1307.98,1209.54 L1309.45,1210.85 L1310.92,1212.07 L1312.39,1213.2 L1313.86,1214.25 L1315.33,1215.23 L1316.8,1216.14 L1318.27,1217 L1319.74,1217.8 L1321.21,1218.56 L1322.68,1219.27 L1324.15,1219.94 L1325.62,1220.58 L1327.09,1221.18 L1328.56,1221.74 L1330.03,1222.28 L1331.49,1222.8 L1332.96,1223.3 L1334.43,1223.78 L1335.9,1224.25 L1337.37,1224.7 L1338.84,1225.15 L1340.31,1225.59 L1341.78,1226 L1343.25,1226.4 L1344.72,1226.78 L1346.19,1227.14 L1347.66,1227.49 L1349.13,1227.83 L1350.6,1228.16 L1352.07,1228.49 L1353.54,1228.82 L1355.01,1229.14 L1356.48,1229.47 L1357.95,1229.8 L1359.42,1230.13 L1360.88,1230.48 L1362.35,1230.83 L1363.82,1231.2 L1365.29,1231.59 L1366.76,1231.99 L1368.23,1232.41 L1369.7,1232.84 L1371.17,1233.28 L1372.64,1233.73 L1374.11,1234.2 L1375.58,1234.68 L1377.05,1235.18 L1378.52,1235.7 L1379.99,1236.24 L1381.46,1236.81 L1382.93,1237.41 L1384.4,1238.09 L1385.87,1238.8 L1385.87,1238.8 Z" fill="none" stroke="#E0CCFC" stroke-width="3.6"/>
<path d="M1034.66,1238.8 L1034.66,1238.8 L1036.13,1233.85 L1037.6,1232.01 L1039.07,1231.58 L1040.54,1231.19 L1042.01,1230.85 L1043.48,1230.56 L1044.94,1230.31 L1046.41,1230.09 L1047.88,1229.9 L1049.35,1229.75 L1050.82,1229.61 L1052.29,1229.5 L1053.76,1229.4 L1055.23,1229.32 L1056.7,1229.24 L1058.17,1229.17 L1059.64,1229.1 L1061.11,1229.03 L1062.58,1228.95 L1064.05,1228.86 L1065.52,1228.75 L1066.99,1228.63 L1068.46,1228.48 L1069.93,1228.31 L1071.4,1228.11 L1072.87,1227.87 L1074.33,1227.59 L1075.8,1227.28 L1077.27,1226.88 L1078.74,1226.39 L1080.21,1225.81 L1081.68,1225.15 L1083.15,1224.4 L1084.62,1223.56 L1086.09,1222.65 L1087.56,1221.65 L1089.03,1220.58 L1090.5,1219.43 L1091.97,1218.21 L1093.44,1216.92 L1094.91,1215.56 L1096.38,1214.13 L1097.85,1212.6 L1099.32,1210.71 L1100.79,1208.43 L1102.25,1205.79 L1103.72,1202.84 L1105.19,1199.63 L1106.66,1196.18 L1108.13,1192.55 L1109.6,1188.78 L1111.07,1184.91 L1112.54,1180.97 L1114.01,1177.02 L1115.48,1172.93 L1116.95,1168.56 L1118.42,1163.95 L1119.89,1159.1 L1121.36,1154.03 L1122.83,1148.75 L1124.3,1143.29 L1125.77,1137.67 L1127.24,1131.88 L1128.71,1125.97 L1130.18,1119.93 L1131.64,1113.74 L1133.11,1107.16 L1134.58,1100.19 L1136.05,1092.92 L1137.52,1085.41 L1138.99,1077.75 L1140.46,1069.99 L1141.93,1062.23 L1143.4,1054.53 L1144.87,1046.97 L1146.34,1039.57 L1147.81,1032.25 L1149.28,1024.93 L1150.75,1017.58 L1152.22,1010.12 L1153.69,1002.51 L1155.16,994.69 L1156.63,986.59 L1158.1,978.23 L1159.56,969.68 L1161.03,961.01 L1162.5,952.3 L1163.97,943.6 L1165.44,934.99 L1166.91,926.53 L1168.38,918.29 L1169.85,910.31 L1171.32,902.28 L1172.79,894.18 L1174.26,886.13 L1175.73,878.28 L1177.2,870.74 L1178.67,863.66 L1180.14,857.17 L1181.61,851.39 L1183.08,846.11 L1184.55,841.16 L1186.02,836.51 L1187.49,832.12 L1188.95,827.96 L1190.42,823.99 L1191.89,820.17 L1193.36,816.48 L1194.83,812.52 L1196.3,808.29 L1197.77,804.28 L1199.24,800.94 L1200.71,798.75 L1202.18,798.15 L1203.65,798.82 L1205.12,800.18 L1206.59,801.91 L1208.06,803.68 L1209.53,805.17 L1211,806.47 L1212.47,807.85 L1213.94,809.57 L1215.41,811.7 L1216.87,814.19 L1218.34,817.02 L1219.81,820.16 L1221.28,823.58 L1222.75,827.27 L1224.22,831.26 L1225.69,835.79 L1227.16,840.86 L1228.63,846.42 L1230.1,852.4 L1231.57,858.77 L1233.04,865.46 L1234.51,872.43 L1235.98,879.63 L1237.45,887 L1238.92,894.82 L1240.39,903.57 L1241.86,912.99 L1243.33,922.78 L1244.8,932.66 L1246.26,942.34 L1247.73,951.55 L1249.2,960.54 L1250.67,969.45 L1252.14,978.31 L1253.61,987.11 L1255.08,995.88 L1256.55,1004.64 L1258.02,1013.39 L1259.49,1022.16 L1260.96,1031.02 L1262.43,1039.96 L1263.9,1048.92 L1265.37,1057.84 L1266.84,1066.66 L1268.31,1075.33 L1269.78,1083.78 L1271.25,1091.96 L1272.72,1100.01 L1274.18,1108.12 L1275.65,1116.19 L1277.12,1124.08 L1278.59,1131.68 L1280.06,1138.86 L1281.53,1145.51 L1283,1151.49 L1284.47,1156.9 L1285.94,1162.2 L1287.41,1167.38 L1288.88,1172.39 L1290.35,1177.18 L1291.82,1181.72 L1293.29,1185.97 L1294.76,1189.87 L1296.23,1193.4 L1297.7,1196.51 L1299.17,1199.16 L1300.64,1201.31 L1302.11,1203.2 L1303.57,1204.96 L1305.04,1206.6 L1306.51,1208.12 L1307.98,1209.54 L1309.45,1210.85 L1310.92,1212.07 L1312.39,1213.2 L1313.86,1214.25 L1315.33,1215.23 L1316.8,1216.14 L1318.27,1217 L1319.74,1217.8 L1321.21,1218.56 L1322.68,1219.27 L1324.15,1219.94 L1325.62,1220.58 L1327.09,1221.18 L1328.56,1221.74 L1330.03,1222.28 L1331.49,1222.8 L1332.96,1223.3 L1334.43,1223.78 L1335.9,1224.25 L1337.37,1224.7 L1338.84,1225.15 L1340.31,1225.59 L1341.78,1226 L1343.25,1226.4 L1344.72,1226.78 L1346.19,1227.14 L1347.66,1227.49 L1349.13,1227.83 L1350.6,1228.16 L1352.07,1228.49 L1353.54,1228.82 L1355.01,1229.14 L1356.48,1229.47 L1357.95,1229.8 L1359.42,1230.13 L1360.88,1230.48 L1362.35,1230.83 L1363.82,1231.2 L1365.29,1231.59 L1366.76,1231.99 L1368.23,1232.41 L1369.7,1232.84 L1371.17,1233.28 L1372.64,1233.73 L1374.11,1234.2 L1375.58,1234.68 L1377.05,1235.18 L1378.52,1235.7 L1379.99,1236.24 L1381.46,1236.81 L1382.93,1237.41 L1384.4,1238.09 L1385.87,1238.8 L1385.87,1238.8 Z" fill="url(#irfD)" stroke="#FFFFFF" stroke-width="2.2"/>
<circle cx="955.82" cy="1232.73" r="3.3" fill="url(#sD1s)"/><circle cx="974.93" cy="1235.72" r="3.3" fill="url(#sD1s)"/><circle cx="994.04" cy="1231.51" r="3.3" fill="url(#sD1s)"/><circle cx="1013.16" cy="1228.6" r="3.3" fill="url(#sD1s)"/><circle cx="1032.27" cy="1224.5" r="3.3" fill="url(#sD1s)"/><circle cx="1051.38" cy="1202.85" r="3.3" fill="url(#sD1s)"/><circle cx="1070.5" cy="1179.44" r="3.3" fill="url(#sD1s)"/><circle cx="1089.61" cy="1137.04" r="3.3" fill="url(#sD1s)"/><circle cx="1108.72" cy="1066.32" r="3.3" fill="url(#sD1s)"/><circle cx="1127.84" cy="986.46" r="3.3" fill="url(#sD1s)"/><circle cx="1146.95" cy="905.66" r="3.3" fill="url(#sD1s)"/><circle cx="1166.06" cy="847" r="3.3" fill="url(#sD1s)"/><circle cx="1185.18" cy="810.35" r="3.3" fill="url(#sD1s)"/><circle cx="1204.29" cy="799.08" r="3.3" fill="url(#sD1s)"/><circle cx="1223.4" cy="808.65" r="3.3" fill="url(#sD1s)"/><circle cx="1242.52" cy="852.66" r="3.3" fill="url(#sD1s)"/><circle cx="1261.63" cy="916.65" r="3.3" fill="url(#sD1s)"/><circle cx="1280.74" cy="997.13" r="3.3" fill="url(#sD1s)"/><circle cx="1299.86" cy="1075.11" r="3.3" fill="url(#sD1s)"/><circle cx="1318.97" cy="1146.31" r="3.3" fill="url(#sD1s)"/><circle cx="1338.08" cy="1187.34" r="3.3" fill="url(#sD1s)"/><circle cx="1357.2" cy="1215.56" r="3.3" fill="url(#sD1s)"/><circle cx="1376.31" cy="1212.36" r="3.3" fill="url(#sD1s)"/><circle cx="1395.42" cy="1213.68" r="3.3" fill="url(#sD1s)"/><circle cx="1414.54" cy="1220.73" r="3.3" fill="url(#sD1s)"/><circle cx="1433.65" cy="1222.94" r="3.3" fill="url(#sD1s)"/><circle cx="1452.76" cy="1222.94" r="3.3" fill="url(#sD1s)"/>
<circle cx="955.82" cy="1236.99" r="3.3" fill="url(#sD0s)"/><circle cx="974.93" cy="1234.63" r="3.3" fill="url(#sD0s)"/><circle cx="994.04" cy="1233.7" r="3.3" fill="url(#sD0s)"/><circle cx="1013.16" cy="1231.72" r="3.3" fill="url(#sD0s)"/><circle cx="1032.27" cy="1225.39" r="3.3" fill="url(#sD0s)"/><circle cx="1051.38" cy="1210.86" r="3.3" fill="url(#sD0s)"/><circle cx="1070.5" cy="1191.98" r="3.3" fill="url(#sD0s)"/><circle cx="1089.61" cy="1143.57" r="3.3" fill="url(#sD0s)"/><circle cx="1108.72" cy="1076.05" r="3.3" fill="url(#sD0s)"/><circle cx="1127.84" cy="995.62" r="3.3" fill="url(#sD0s)"/><circle cx="1146.95" cy="912.66" r="3.3" fill="url(#sD0s)"/><circle cx="1166.06" cy="844.42" r="3.3" fill="url(#sD0s)"/><circle cx="1185.18" cy="807.16" r="3.3" fill="url(#sD0s)"/><circle cx="1204.29" cy="801.03" r="3.3" fill="url(#sD0s)"/><circle cx="1223.4" cy="811.17" r="3.3" fill="url(#sD0s)"/><circle cx="1242.52" cy="860.37" r="3.3" fill="url(#sD0s)"/><circle cx="1261.63" cy="933.52" r="3.3" fill="url(#sD0s)"/><circle cx="1280.74" cy="1014.34" r="3.3" fill="url(#sD0s)"/><circle cx="1299.86" cy="1094.44" r="3.3" fill="url(#sD0s)"/><circle cx="1318.97" cy="1154.78" r="3.3" fill="url(#sD0s)"/><circle cx="1338.08" cy="1203.67" r="3.3" fill="url(#sD0s)"/><circle cx="1357.2" cy="1220.33" r="3.3" fill="url(#sD0s)"/><circle cx="1376.31" cy="1218.09" r="3.3" fill="url(#sD0s)"/><circle cx="1395.42" cy="1224.26" r="3.3" fill="url(#sD0s)"/><circle cx="1414.54" cy="1230.43" r="3.3" fill="url(#sD0s)"/><circle cx="1433.65" cy="1231.75" r="3.3" fill="url(#sD0s)"/><circle cx="1452.76" cy="1234.39" r="3.3" fill="url(#sD0s)"/>
<polyline points="955.82,1238.71 957.48,1238.7 959.14,1238.69 960.8,1238.67 962.46,1238.66 964.13,1238.64 965.79,1238.61 967.45,1238.59 969.11,1238.56 970.77,1238.53 972.44,1238.5 974.1,1238.46 975.76,1238.41 977.42,1238.37 979.08,1238.31 980.75,1238.25 982.41,1238.19 984.07,1238.11 985.73,1238.03 987.39,1237.94 989.06,1237.84 990.72,1237.73 992.38,1237.61 994.04,1237.47 995.7,1237.33 997.37,1237.16 999.03,1236.98 1000.69,1236.79 1002.35,1236.57 1004.01,1236.34 1005.68,1236.08 1007.34,1235.8 1009,1235.5 1010.66,1235.16 1012.32,1234.8 1013.99,1234.41 1015.65,1233.98 1017.31,1233.52 1018.97,1233.02 1020.63,1232.48 1022.3,1231.89 1023.96,1231.26 1025.62,1230.58 1027.28,1229.85 1028.95,1229.06 1030.61,1228.22 1032.27,1227.31 1033.93,1226.34 1035.59,1225.3 1037.26,1224.18 1038.92,1223 1040.58,1221.73 1042.24,1220.38 1043.9,1218.95 1045.57,1217.42 1047.23,1215.8 1048.89,1214.08 1050.55,1212.26 1052.21,1210.34 1053.88,1208.3 1055.54,1206.16 1057.2,1203.89 1058.86,1201.51 1060.52,1199 1062.19,1196.37 1063.85,1193.61 1065.51,1190.71 1067.17,1187.67 1068.83,1184.5 1070.5,1181.19 1072.16,1177.73 1073.82,1174.13 1075.48,1170.38 1077.14,1166.48 1078.81,1162.43 1080.47,1158.23 1082.13,1153.88 1083.79,1149.37 1085.45,1144.72 1087.12,1139.91 1088.78,1134.96 1090.44,1129.85 1092.1,1124.6 1093.76,1119.21 1095.43,1113.67 1097.09,1108 1098.75,1102.19 1100.41,1096.25 1102.07,1090.19 1103.74,1084 1105.4,1077.7 1107.06,1071.29 1108.72,1064.77 1110.38,1058.16 1112.05,1051.45 1113.71,1044.67 1115.37,1037.81 1117.03,1030.88 1118.69,1023.9 1120.36,1016.87 1122.02,1009.79 1123.68,1002.69 1125.34,995.57 1127,988.44 1128.67,981.31 1130.33,974.18 1131.99,967.08 1133.65,960.01 1135.31,952.99 1136.98,946.01 1138.64,939.1 1140.3,932.26 1141.96,925.5 1143.63,918.84 1145.29,912.29 1146.95,905.85 1148.61,899.53 1150.27,893.34 1151.94,887.3 1153.6,881.42 1155.26,875.69 1156.92,870.13 1158.58,864.74 1160.25,859.54 1161.91,854.53 1163.57,849.72 1165.23,845.11 1166.89,840.7 1168.56,836.51 1170.22,832.53 1171.88,828.78 1173.54,825.24 1175.2,821.93 1176.87,818.84 1178.53,815.98 1180.19,813.35 1181.85,810.94 1183.51,808.76 1185.18,806.79 1186.84,805.05 1188.5,803.52 1190.16,802.2 1191.82,801.08 1193.49,800.16 1195.15,799.43 1196.81,798.87 1198.47,798.49 1200.13,798.25 1201.8,798.15 1203.46,798.14 1205.12,798.21 1206.78,798.41 1208.44,798.75 1210.11,799.26 1211.77,799.94 1213.43,800.81 1215.09,801.87 1216.75,803.13 1218.42,804.6 1220.08,806.29 1221.74,808.19 1223.4,810.32 1225.06,812.66 1226.73,815.24 1228.39,818.03 1230.05,821.06 1231.71,824.31 1233.37,827.78 1235.04,831.48 1236.7,835.4 1238.36,839.53 1240.02,843.88 1241.68,848.43 1243.35,853.19 1245.01,858.15 1246.67,863.3 1248.33,868.63 1249.99,874.14 1251.66,879.82 1253.32,885.67 1254.98,891.67 1256.64,897.81 1258.31,904.1 1259.97,910.5 1261.63,917.03 1263.29,923.66 1264.95,930.39 1266.62,937.21 1268.28,944.1 1269.94,951.06 1271.6,958.08 1273.26,965.14 1274.93,972.23 1276.59,979.35 1278.25,986.48 1279.91,993.61 1281.57,1000.74 1283.24,1007.84 1284.9,1014.92 1286.56,1021.97 1288.22,1028.97 1289.88,1035.91 1291.55,1042.79 1293.21,1049.59 1294.87,1056.32 1296.53,1062.96 1298.19,1069.5 1299.86,1075.94 1301.52,1082.28 1303.18,1088.5 1304.84,1094.6 1306.5,1100.57 1308.17,1106.42 1309.83,1112.13 1311.49,1117.7 1313.15,1123.14 1314.81,1128.43 1316.48,1133.57 1318.14,1138.57 1319.8,1143.41 1321.46,1148.11 1323.12,1152.65 1324.79,1157.05 1326.45,1161.29 1328.11,1165.38 1329.77,1169.32 1331.43,1173.11 1333.1,1176.75 1334.76,1180.25 1336.42,1183.61 1338.08,1186.82 1339.74,1189.89 1341.41,1192.82 1343.07,1195.62 1344.73,1198.29 1346.39,1200.83 1348.05,1203.25 1349.72,1205.55 1351.38,1207.73 1353.04,1209.79 1354.7,1211.74 1356.36,1213.59 1358.03,1215.34 1359.69,1216.98 1361.35,1218.54 1363.01,1220 1364.67,1221.37 1366.34,1222.66 1368,1223.87 1369.66,1225 1371.32,1226.06 1372.99,1227.05 1374.65,1227.97 1376.31,1228.84 1377.97,1229.64 1379.63,1230.39 1381.3,1231.08 1382.96,1231.72 1384.62,1232.32 1386.28,1232.88 1387.94,1233.39 1389.61,1233.86 1391.27,1234.3 1392.93,1234.7 1394.59,1235.07 1396.25,1235.41 1397.92,1235.72 1399.58,1236.01 1401.24,1236.27 1402.9,1236.51 1404.56,1236.73 1406.23,1236.93 1407.89,1237.12 1409.55,1237.28 1411.21,1237.43 1412.87,1237.57 1414.54,1237.7 1416.2,1237.81 1417.86,1237.91 1419.52,1238.01 1421.18,1238.09 1422.85,1238.17 1424.51,1238.24 1426.17,1238.3 1427.83,1238.35 1429.49,1238.4 1431.16,1238.45 1432.82,1238.49 1434.48,1238.52 1436.14,1238.55 1437.8,1238.58 1439.47,1238.61 1441.13,1238.63 1442.79,1238.65 1444.45,1238.67 1446.11,1238.68 1447.78,1238.7 1449.44,1238.71 1451.1,1238.72 1452.76,1238.73" fill="none" stroke="#C89AFF" stroke-width="3" stroke-linejoin="round" stroke-linecap="round"/>
<polyline points="955.82,1238.76 957.48,1238.76 959.14,1238.75 960.8,1238.74 962.46,1238.73 964.13,1238.72 965.79,1238.71 967.45,1238.7 969.11,1238.68 970.77,1238.67 972.44,1238.65 974.1,1238.63 975.76,1238.6 977.42,1238.58 979.08,1238.55 980.75,1238.51 982.41,1238.47 984.07,1238.43 985.73,1238.38 987.39,1238.33 989.06,1238.26 990.72,1238.2 992.38,1238.12 994.04,1238.04 995.7,1237.94 997.37,1237.84 999.03,1237.72 1000.69,1237.59 1002.35,1237.45 1004.01,1237.29 1005.68,1237.12 1007.34,1236.93 1009,1236.72 1010.66,1236.48 1012.32,1236.23 1013.99,1235.95 1015.65,1235.64 1017.31,1235.31 1018.97,1234.94 1020.63,1234.54 1022.3,1234.11 1023.96,1233.64 1025.62,1233.12 1027.28,1232.56 1028.95,1231.96 1030.61,1231.3 1032.27,1230.59 1033.93,1229.83 1035.59,1229 1037.26,1228.11 1038.92,1227.16 1040.58,1226.13 1042.24,1225.02 1043.9,1223.84 1045.57,1222.57 1047.23,1221.22 1048.89,1219.77 1050.55,1218.23 1052.21,1216.59 1053.88,1214.84 1055.54,1212.98 1057.2,1211.01 1058.86,1208.92 1060.52,1206.71 1062.19,1204.37 1063.85,1201.91 1065.51,1199.31 1067.17,1196.57 1068.83,1193.68 1070.5,1190.66 1072.16,1187.48 1073.82,1184.15 1075.48,1180.67 1077.14,1177.03 1078.81,1173.23 1080.47,1169.27 1082.13,1165.15 1083.79,1160.86 1085.45,1156.41 1087.12,1151.79 1088.78,1147.01 1090.44,1142.06 1092.1,1136.95 1093.76,1131.67 1095.43,1126.24 1097.09,1120.64 1098.75,1114.89 1100.41,1108.99 1102.07,1102.94 1103.74,1096.75 1105.4,1090.42 1107.06,1083.96 1108.72,1077.37 1110.38,1070.66 1112.05,1063.83 1113.71,1056.91 1115.37,1049.88 1117.03,1042.77 1118.69,1035.58 1120.36,1028.32 1122.02,1021 1123.68,1013.64 1125.34,1006.23 1127,998.8 1128.67,991.35 1130.33,983.89 1131.99,976.45 1133.65,969.02 1135.31,961.62 1136.98,954.27 1138.64,946.97 1140.3,939.74 1141.96,932.58 1143.63,925.52 1145.29,918.56 1146.95,911.72 1148.61,905 1150.27,898.42 1151.94,891.99 1153.6,885.72 1155.26,879.61 1156.92,873.68 1158.58,867.94 1160.25,862.4 1161.91,857.05 1163.57,851.92 1165.23,847.01 1166.89,842.32 1168.56,837.86 1170.22,833.64 1171.88,829.65 1173.54,825.91 1175.2,822.41 1176.87,819.15 1178.53,816.14 1180.19,813.38 1181.85,810.87 1183.51,808.6 1185.18,806.57 1186.84,804.78 1188.5,803.22 1190.16,801.89 1191.82,800.78 1193.49,799.88 1195.15,799.19 1196.81,798.69 1198.47,798.36 1200.13,798.18 1201.8,798.13 1203.46,798.17 1205.12,798.33 1206.78,798.63 1208.44,799.12 1210.11,799.79 1211.77,800.66 1213.43,801.74 1215.09,803.04 1216.75,804.57 1218.42,806.33 1220.08,808.33 1221.74,810.57 1223.4,813.05 1225.06,815.78 1226.73,818.76 1228.39,821.98 1230.05,825.46 1231.71,829.17 1233.37,833.13 1235.04,837.32 1236.7,841.75 1238.36,846.41 1240.02,851.3 1241.68,856.4 1243.35,861.72 1245.01,867.24 1246.67,872.95 1248.33,878.86 1249.99,884.94 1251.66,891.2 1253.32,897.61 1254.98,904.17 1256.64,910.87 1258.31,917.7 1259.97,924.65 1261.63,931.7 1263.29,938.84 1264.95,946.06 1266.62,953.35 1268.28,960.7 1269.94,968.09 1271.6,975.52 1273.26,982.96 1274.93,990.42 1276.59,997.87 1278.25,1005.3 1279.91,1012.71 1281.57,1020.09 1283.24,1027.41 1284.9,1034.68 1286.56,1041.88 1288.22,1049 1289.88,1056.03 1291.55,1062.97 1293.21,1069.81 1294.87,1076.53 1296.53,1083.14 1298.19,1089.62 1299.86,1095.97 1301.52,1102.18 1303.18,1108.24 1304.84,1114.16 1306.5,1119.93 1308.17,1125.55 1309.83,1131 1311.49,1136.3 1313.15,1141.43 1314.81,1146.4 1316.48,1151.2 1318.14,1155.84 1319.8,1160.31 1321.46,1164.62 1323.12,1168.77 1324.79,1172.75 1326.45,1176.57 1328.11,1180.23 1329.77,1183.73 1331.43,1187.07 1333.1,1190.27 1334.76,1193.31 1336.42,1196.21 1338.08,1198.97 1339.74,1201.59 1341.41,1204.07 1343.07,1206.43 1344.73,1208.65 1346.39,1210.76 1348.05,1212.74 1349.72,1214.61 1351.38,1216.37 1353.04,1218.03 1354.7,1219.58 1356.36,1221.04 1358.03,1222.41 1359.69,1223.69 1361.35,1224.88 1363.01,1225.99 1364.67,1227.03 1366.34,1228 1368,1228.9 1369.66,1229.73 1371.32,1230.5 1372.99,1231.22 1374.65,1231.88 1376.31,1232.49 1377.97,1233.05 1379.63,1233.57 1381.3,1234.05 1382.96,1234.49 1384.62,1234.9 1386.28,1235.27 1387.94,1235.6 1389.61,1235.91 1391.27,1236.2 1392.93,1236.45 1394.59,1236.69 1396.25,1236.9 1397.92,1237.1 1399.58,1237.27 1401.24,1237.43 1402.9,1237.57 1404.56,1237.71 1406.23,1237.82 1407.89,1237.93 1409.55,1238.02 1411.21,1238.11 1412.87,1238.19 1414.54,1238.26 1416.2,1238.32 1417.86,1238.37 1419.52,1238.42 1421.18,1238.47 1422.85,1238.51 1424.51,1238.54 1426.17,1238.57 1427.83,1238.6 1429.49,1238.63 1431.16,1238.65 1432.82,1238.67 1434.48,1238.68 1436.14,1238.7 1437.8,1238.71 1439.47,1238.72 1441.13,1238.73 1442.79,1238.74 1444.45,1238.75 1446.11,1238.76 1447.78,1238.76 1449.44,1238.77 1451.1,1238.77 1452.76,1238.78" fill="none" stroke="#7A00EC" stroke-width="3" stroke-linejoin="round" stroke-linecap="round"/>
</g>
<rect x="929.4" y="798.8" width="209.3" height="85.1" fill="#B8B8B8"/>
<text transform="translate(934.7,830.5) scale(1,1.07)" font-size="30.4">H-TFSI treated</text>
<text transform="translate(934.7,867.8) scale(1,1.07)" font-size="30.4">MoS<tspan font-size="20" dy="8">2</tspan></text>
<rect x="1306.5" y="788.2" width="67.1" height="33.2" fill="url(#irfDbox)" stroke="#333" stroke-width="1"/>
<text transform="translate(1385,815.4) scale(1,1.07)" font-size="30.4">IRF</text>
<circle cx="1341.2" cy="841.9" r="3.4" fill="url(#sD0s)"/>
<circle cx="1341.2" cy="879.2" r="3.4" fill="url(#sD1s)"/>
<text transform="translate(1385,852.6) scale(1,1.07)" font-size="30.4">0 ns</text>
<text transform="translate(1385,889.5) scale(1,1.07)" font-size="30.4">0.35 ns</text>
<text x="-1" y="1384" font-size="45" font-weight="bold">e</text>
<rect x="149.4" y="1375.1" width="574" height="462.2" fill="none" stroke="#000" stroke-width="2.05"/>
<line x1="197.23" y1="1837.3" x2="197.23" y2="1846.3" stroke="#000" stroke-width="1.9"/>
<text transform="translate(197.23,1876.7) scale(1,1.07)" font-size="30.3" text-anchor="middle">-1.0</text>
<line x1="316.82" y1="1837.3" x2="316.82" y2="1846.3" stroke="#000" stroke-width="1.9"/>
<text transform="translate(316.82,1876.7) scale(1,1.07)" font-size="30.3" text-anchor="middle">-0.5</text>
<line x1="436.4" y1="1837.3" x2="436.4" y2="1846.3" stroke="#000" stroke-width="1.9"/>
<text transform="translate(436.4,1876.7) scale(1,1.07)" font-size="30.3" text-anchor="middle">0.0</text>
<line x1="555.98" y1="1837.3" x2="555.98" y2="1846.3" stroke="#000" stroke-width="1.9"/>
<text transform="translate(555.98,1876.7) scale(1,1.07)" font-size="30.3" text-anchor="middle">0.5</text>
<line x1="675.57" y1="1837.3" x2="675.57" y2="1846.3" stroke="#000" stroke-width="1.9"/>
<text transform="translate(675.57,1876.7) scale(1,1.07)" font-size="30.3" text-anchor="middle">1.0</text>
<line x1="257.02" y1="1837.3" x2="257.02" y2="1842.3" stroke="#000" stroke-width="1.9"/>
<line x1="376.61" y1="1837.3" x2="376.61" y2="1842.3" stroke="#000" stroke-width="1.9"/>
<line x1="496.19" y1="1837.3" x2="496.19" y2="1842.3" stroke="#000" stroke-width="1.9"/>
<line x1="615.77" y1="1837.3" x2="615.77" y2="1842.3" stroke="#000" stroke-width="1.9"/>
<line x1="140.4" y1="1837.3" x2="149.4" y2="1837.3" stroke="#000" stroke-width="1.9"/>
<text transform="translate(135.1,1847.1) scale(1,1.07)" font-size="30.3" text-anchor="end">0.0</text>
<line x1="140.4" y1="1749.26" x2="149.4" y2="1749.26" stroke="#000" stroke-width="1.9"/>
<text transform="translate(135.1,1759.06) scale(1,1.07)" font-size="30.3" text-anchor="end">0.2</text>
<line x1="140.4" y1="1661.22" x2="149.4" y2="1661.22" stroke="#000" stroke-width="1.9"/>
<text transform="translate(135.1,1671.02) scale(1,1.07)" font-size="30.3" text-anchor="end">0.4</text>
<line x1="140.4" y1="1573.19" x2="149.4" y2="1573.19" stroke="#000" stroke-width="1.9"/>
<text transform="translate(135.1,1582.99) scale(1,1.07)" font-size="30.3" text-anchor="end">0.6</text>
<line x1="140.4" y1="1485.15" x2="149.4" y2="1485.15" stroke="#000" stroke-width="1.9"/>
<text transform="translate(135.1,1494.95) scale(1,1.07)" font-size="30.3" text-anchor="end">0.8</text>
<line x1="140.4" y1="1397.11" x2="149.4" y2="1397.11" stroke="#000" stroke-width="1.9"/>
<text transform="translate(135.1,1406.91) scale(1,1.07)" font-size="30.3" text-anchor="end">1.0</text>
<line x1="144.4" y1="1793.28" x2="149.4" y2="1793.28" stroke="#000" stroke-width="1.9"/>
<line x1="144.4" y1="1705.24" x2="149.4" y2="1705.24" stroke="#000" stroke-width="1.9"/>
<line x1="144.4" y1="1617.2" x2="149.4" y2="1617.2" stroke="#000" stroke-width="1.9"/>
<line x1="144.4" y1="1529.17" x2="149.4" y2="1529.17" stroke="#000" stroke-width="1.9"/>
<line x1="144.4" y1="1441.13" x2="149.4" y2="1441.13" stroke="#000" stroke-width="1.9"/>
<text x="420.5" y="1921.5" font-size="50.5" text-anchor="middle">Distance x (&#956;m)</text>
<text transform="translate(39,1713) rotate(-90)" font-size="50.5"><tspan font-style="italic">I</tspan><tspan font-size="33.5" dy="12.3">PL</tspan><tspan dy="-12.3" dx="-4"> (norm.)</tspan></text>
<g clip-path="url(#clipE)">
<path d="M266.59,1837.3 L266.59,1837.3 L268.07,1835 L269.55,1832.89 L271.03,1831.87 L272.52,1831.35 L274,1830.87 L275.48,1830.45 L276.96,1830.08 L278.44,1829.74 L279.92,1829.45 L281.4,1829.19 L282.88,1828.96 L284.36,1828.76 L285.85,1828.58 L287.33,1828.42 L288.81,1828.27 L290.29,1828.14 L291.77,1828.01 L293.25,1827.88 L294.73,1827.75 L296.21,1827.62 L297.69,1827.47 L299.17,1827.31 L300.66,1827.14 L302.14,1826.94 L303.62,1826.71 L305.1,1826.46 L306.58,1826.17 L308.06,1825.85 L309.54,1825.48 L311.02,1825.06 L312.5,1824.58 L313.98,1823.98 L315.47,1823.28 L316.95,1822.47 L318.43,1821.57 L319.91,1820.56 L321.39,1819.45 L322.87,1818.26 L324.35,1816.97 L325.83,1815.6 L327.31,1814.14 L328.8,1812.61 L330.28,1810.99 L331.76,1809.3 L333.24,1807.55 L334.72,1805.72 L336.2,1803.82 L337.68,1801.87 L339.16,1799.86 L340.64,1797.73 L342.12,1795.24 L343.61,1792.41 L345.09,1789.24 L346.57,1785.78 L348.05,1782.05 L349.53,1778.08 L351.01,1773.91 L352.49,1769.55 L353.97,1765.03 L355.45,1760.4 L356.93,1755.67 L358.42,1750.87 L359.9,1745.95 L361.38,1740.63 L362.86,1734.94 L364.34,1728.92 L365.82,1722.62 L367.3,1716.08 L368.78,1709.35 L370.26,1702.47 L371.74,1695.48 L373.23,1688.43 L374.71,1681.37 L376.19,1674.33 L377.67,1667.37 L379.15,1660.47 L380.63,1653.5 L382.11,1646.46 L383.59,1639.35 L385.07,1632.16 L386.56,1624.89 L388.04,1617.54 L389.52,1610.09 L391,1602.56 L392.48,1594.94 L393.96,1587.21 L395.44,1579.37 L396.92,1571.29 L398.4,1562.99 L399.88,1554.51 L401.37,1545.92 L402.85,1537.26 L404.33,1528.58 L405.81,1519.93 L407.29,1511.37 L408.77,1502.94 L410.25,1494.7 L411.73,1486.68 L413.21,1478.56 L414.69,1470.25 L416.18,1461.94 L417.66,1453.83 L419.14,1446.11 L420.62,1438.98 L422.1,1432.62 L423.58,1427.2 L425.06,1421.91 L426.54,1416.6 L428.02,1411.56 L429.51,1407.09 L430.99,1403.51 L432.47,1401.11 L433.95,1400.19 L435.43,1400.57 L436.91,1401.61 L438.39,1403.07 L439.87,1404.73 L441.35,1406.33 L442.83,1407.64 L444.32,1408.48 L445.8,1409.06 L447.28,1409.51 L448.76,1409.92 L450.24,1410.38 L451.72,1410.97 L453.2,1411.79 L454.68,1413.27 L456.16,1416.17 L457.64,1420.11 L459.13,1424.62 L460.61,1429.29 L462.09,1434.54 L463.57,1440.61 L465.05,1447.36 L466.53,1454.68 L468.01,1462.43 L469.49,1470.49 L470.97,1478.71 L472.46,1486.98 L473.94,1495.16 L475.42,1503.13 L476.9,1510.76 L478.38,1518.12 L479.86,1525.48 L481.34,1532.84 L482.82,1540.2 L484.3,1547.56 L485.78,1554.92 L487.27,1562.28 L488.75,1569.64 L490.23,1577 L491.71,1584.36 L493.19,1591.72 L494.67,1599.08 L496.15,1606.44 L497.63,1613.8 L499.11,1621.16 L500.59,1628.52 L502.08,1635.93 L503.56,1643.48 L505.04,1651.1 L506.52,1658.72 L508,1666.26 L509.48,1673.64 L510.96,1680.8 L512.44,1687.65 L513.92,1694.17 L515.41,1700.5 L516.89,1706.66 L518.37,1712.65 L519.85,1718.49 L521.33,1724.19 L522.81,1729.76 L524.29,1735.2 L525.77,1740.57 L527.25,1746.01 L528.73,1751.47 L530.22,1756.88 L531.7,1762.15 L533.18,1767.24 L534.66,1772.05 L536.14,1776.52 L537.62,1780.59 L539.1,1784.17 L540.58,1787.37 L542.06,1790.41 L543.54,1793.29 L545.03,1796.01 L546.51,1798.56 L547.99,1800.93 L549.47,1803.13 L550.95,1805.14 L552.43,1806.96 L553.91,1808.59 L555.39,1810.13 L556.87,1811.62 L558.35,1813.06 L559.84,1814.43 L561.32,1815.74 L562.8,1816.98 L564.28,1818.13 L565.76,1819.19 L567.24,1820.15 L568.72,1821.02 L570.2,1821.77 L571.68,1822.4 L573.17,1822.92 L574.65,1823.36 L576.13,1823.75 L577.61,1824.1 L579.09,1824.41 L580.57,1824.7 L582.05,1824.96 L583.53,1825.2 L585.01,1825.43 L586.49,1825.66 L587.98,1825.89 L589.46,1826.13 L590.94,1826.39 L592.42,1826.66 L593.9,1826.96 L595.38,1827.3 L596.86,1827.67 L598.34,1828.08 L599.82,1828.52 L601.3,1828.98 L602.79,1829.46 L604.27,1829.97 L605.75,1830.5 L607.23,1831.05 L608.71,1831.63 L610.19,1832.23 L611.67,1832.84 L613.15,1833.48 L614.63,1834.14 L616.12,1834.82 L617.6,1835.58 L619.08,1836.43 L620.56,1837.3 L620.56,1837.3 Z" fill="none" stroke="#FFD0E6" stroke-width="3.6"/>
<path d="M266.59,1837.3 L266.59,1837.3 L268.07,1835 L269.55,1832.89 L271.03,1831.87 L272.52,1831.35 L274,1830.87 L275.48,1830.45 L276.96,1830.08 L278.44,1829.74 L279.92,1829.45 L281.4,1829.19 L282.88,1828.96 L284.36,1828.76 L285.85,1828.58 L287.33,1828.42 L288.81,1828.27 L290.29,1828.14 L291.77,1828.01 L293.25,1827.88 L294.73,1827.75 L296.21,1827.62 L297.69,1827.47 L299.17,1827.31 L300.66,1827.14 L302.14,1826.94 L303.62,1826.71 L305.1,1826.46 L306.58,1826.17 L308.06,1825.85 L309.54,1825.48 L311.02,1825.06 L312.5,1824.58 L313.98,1823.98 L315.47,1823.28 L316.95,1822.47 L318.43,1821.57 L319.91,1820.56 L321.39,1819.45 L322.87,1818.26 L324.35,1816.97 L325.83,1815.6 L327.31,1814.14 L328.8,1812.61 L330.28,1810.99 L331.76,1809.3 L333.24,1807.55 L334.72,1805.72 L336.2,1803.82 L337.68,1801.87 L339.16,1799.86 L340.64,1797.73 L342.12,1795.24 L343.61,1792.41 L345.09,1789.24 L346.57,1785.78 L348.05,1782.05 L349.53,1778.08 L351.01,1773.91 L352.49,1769.55 L353.97,1765.03 L355.45,1760.4 L356.93,1755.67 L358.42,1750.87 L359.9,1745.95 L361.38,1740.63 L362.86,1734.94 L364.34,1728.92 L365.82,1722.62 L367.3,1716.08 L368.78,1709.35 L370.26,1702.47 L371.74,1695.48 L373.23,1688.43 L374.71,1681.37 L376.19,1674.33 L377.67,1667.37 L379.15,1660.47 L380.63,1653.5 L382.11,1646.46 L383.59,1639.35 L385.07,1632.16 L386.56,1624.89 L388.04,1617.54 L389.52,1610.09 L391,1602.56 L392.48,1594.94 L393.96,1587.21 L395.44,1579.37 L396.92,1571.29 L398.4,1562.99 L399.88,1554.51 L401.37,1545.92 L402.85,1537.26 L404.33,1528.58 L405.81,1519.93 L407.29,1511.37 L408.77,1502.94 L410.25,1494.7 L411.73,1486.68 L413.21,1478.56 L414.69,1470.25 L416.18,1461.94 L417.66,1453.83 L419.14,1446.11 L420.62,1438.98 L422.1,1432.62 L423.58,1427.2 L425.06,1421.91 L426.54,1416.6 L428.02,1411.56 L429.51,1407.09 L430.99,1403.51 L432.47,1401.11 L433.95,1400.19 L435.43,1400.57 L436.91,1401.61 L438.39,1403.07 L439.87,1404.73 L441.35,1406.33 L442.83,1407.64 L444.32,1408.48 L445.8,1409.06 L447.28,1409.51 L448.76,1409.92 L450.24,1410.38 L451.72,1410.97 L453.2,1411.79 L454.68,1413.27 L456.16,1416.17 L457.64,1420.11 L459.13,1424.62 L460.61,1429.29 L462.09,1434.54 L463.57,1440.61 L465.05,1447.36 L466.53,1454.68 L468.01,1462.43 L469.49,1470.49 L470.97,1478.71 L472.46,1486.98 L473.94,1495.16 L475.42,1503.13 L476.9,1510.76 L478.38,1518.12 L479.86,1525.48 L481.34,1532.84 L482.82,1540.2 L484.3,1547.56 L485.78,1554.92 L487.27,1562.28 L488.75,1569.64 L490.23,1577 L491.71,1584.36 L493.19,1591.72 L494.67,1599.08 L496.15,1606.44 L497.63,1613.8 L499.11,1621.16 L500.59,1628.52 L502.08,1635.93 L503.56,1643.48 L505.04,1651.1 L506.52,1658.72 L508,1666.26 L509.48,1673.64 L510.96,1680.8 L512.44,1687.65 L513.92,1694.17 L515.41,1700.5 L516.89,1706.66 L518.37,1712.65 L519.85,1718.49 L521.33,1724.19 L522.81,1729.76 L524.29,1735.2 L525.77,1740.57 L527.25,1746.01 L528.73,1751.47 L530.22,1756.88 L531.7,1762.15 L533.18,1767.24 L534.66,1772.05 L536.14,1776.52 L537.62,1780.59 L539.1,1784.17 L540.58,1787.37 L542.06,1790.41 L543.54,1793.29 L545.03,1796.01 L546.51,1798.56 L547.99,1800.93 L549.47,1803.13 L550.95,1805.14 L552.43,1806.96 L553.91,1808.59 L555.39,1810.13 L556.87,1811.62 L558.35,1813.06 L559.84,1814.43 L561.32,1815.74 L562.8,1816.98 L564.28,1818.13 L565.76,1819.19 L567.24,1820.15 L568.72,1821.02 L570.2,1821.77 L571.68,1822.4 L573.17,1822.92 L574.65,1823.36 L576.13,1823.75 L577.61,1824.1 L579.09,1824.41 L580.57,1824.7 L582.05,1824.96 L583.53,1825.2 L585.01,1825.43 L586.49,1825.66 L587.98,1825.89 L589.46,1826.13 L590.94,1826.39 L592.42,1826.66 L593.9,1826.96 L595.38,1827.3 L596.86,1827.67 L598.34,1828.08 L599.82,1828.52 L601.3,1828.98 L602.79,1829.46 L604.27,1829.97 L605.75,1830.5 L607.23,1831.05 L608.71,1831.63 L610.19,1832.23 L611.67,1832.84 L613.15,1833.48 L614.63,1834.14 L616.12,1834.82 L617.6,1835.58 L619.08,1836.43 L620.56,1837.3 L620.56,1837.3 Z" fill="url(#irfE)" stroke="#FFFFFF" stroke-width="2.2"/>
<polyline points="173.32,1836.08 174.97,1835.98 176.63,1835.87 178.28,1835.76 179.94,1835.64 181.6,1835.51 183.25,1835.37 184.91,1835.22 186.56,1835.06 188.22,1834.89 189.87,1834.71 191.53,1834.51 193.19,1834.31 194.84,1834.09 196.5,1833.85 198.15,1833.6 199.81,1833.33 201.46,1833.05 203.12,1832.75 204.78,1832.43 206.43,1832.09 208.09,1831.73 209.74,1831.35 211.4,1830.95 213.06,1830.52 214.71,1830.06 216.37,1829.59 218.02,1829.08 219.68,1828.54 221.33,1827.98 222.99,1827.38 224.65,1826.75 226.3,1826.09 227.96,1825.39 229.61,1824.65 231.27,1823.88 232.92,1823.06 234.58,1822.21 236.24,1821.31 237.89,1820.37 239.55,1819.38 241.2,1818.34 242.86,1817.25 244.51,1816.11 246.17,1814.92 247.83,1813.67 249.48,1812.37 251.14,1811.01 252.79,1809.59 254.45,1808.11 256.11,1806.56 257.76,1804.95 259.42,1803.27 261.07,1801.53 262.73,1799.71 264.38,1797.82 266.04,1795.86 267.7,1793.83 269.35,1791.71 271.01,1789.52 272.66,1787.25 274.32,1784.9 275.97,1782.47 277.63,1779.95 279.29,1777.35 280.94,1774.66 282.6,1771.88 284.25,1769.02 285.91,1766.07 287.56,1763.02 289.22,1759.89 290.88,1756.67 292.53,1753.35 294.19,1749.94 295.84,1746.44 297.5,1742.85 299.16,1739.16 300.81,1735.39 302.47,1731.52 304.12,1727.55 305.78,1723.5 307.43,1719.36 309.09,1715.13 310.75,1710.8 312.4,1706.4 314.06,1701.9 315.71,1697.32 317.37,1692.66 319.02,1687.92 320.68,1683.1 322.34,1678.2 323.99,1673.23 325.65,1668.18 327.3,1663.07 328.96,1657.89 330.61,1652.65 332.27,1647.35 333.93,1641.99 335.58,1636.58 337.24,1631.12 338.89,1625.61 340.55,1620.06 342.21,1614.48 343.86,1608.87 345.52,1603.22 347.17,1597.56 348.83,1591.87 350.48,1586.17 352.14,1580.46 353.8,1574.75 355.45,1569.04 357.11,1563.34 358.76,1557.65 360.42,1551.98 362.07,1546.33 363.73,1540.71 365.39,1535.12 367.04,1529.58 368.7,1524.08 370.35,1518.63 372.01,1513.24 373.66,1507.91 375.32,1502.66 376.98,1497.47 378.63,1492.37 380.29,1487.35 381.94,1482.42 383.6,1477.59 385.26,1472.86 386.91,1468.23 388.57,1463.72 390.22,1459.32 391.88,1455.05 393.53,1450.9 395.19,1446.88 396.85,1442.99 398.5,1439.25 400.16,1435.65 401.81,1432.19 403.47,1428.88 405.12,1425.73 406.78,1422.73 408.44,1419.89 410.09,1417.22 411.75,1414.7 413.4,1412.35 415.06,1410.17 416.71,1408.16 418.37,1406.32 420.03,1404.65 421.68,1403.15 423.34,1401.81 424.99,1400.65 426.65,1399.66 428.31,1398.84 429.96,1398.18 431.62,1397.68 433.27,1397.34 434.93,1397.16 436.58,1397.11 438.24,1397.19 439.9,1397.41 441.55,1397.78 443.21,1398.31 444.86,1399.01 446.52,1399.87 448.17,1400.9 449.83,1402.1 451.49,1403.46 453.14,1405 454.8,1406.71 456.45,1408.59 458.11,1410.64 459.76,1412.86 461.42,1415.25 463.08,1417.8 464.73,1420.51 466.39,1423.38 468.04,1426.42 469.7,1429.6 471.36,1432.94 473.01,1436.43 474.67,1440.07 476.32,1443.84 477.98,1447.76 479.63,1451.81 481.29,1455.99 482.95,1460.29 484.6,1464.71 486.26,1469.25 487.91,1473.9 489.57,1478.65 491.22,1483.51 492.88,1488.46 494.54,1493.49 496.19,1498.62 497.85,1503.82 499.5,1509.09 501.16,1514.43 502.81,1519.84 504.47,1525.3 506.13,1530.81 507.78,1536.36 509.44,1541.96 511.09,1547.58 512.75,1553.24 514.41,1558.91 516.06,1564.61 517.72,1570.31 519.37,1576.02 521.03,1581.73 522.68,1587.44 524.34,1593.13 526,1598.82 527.65,1604.48 529.31,1610.12 530.96,1615.72 532.62,1621.3 534.27,1626.84 535.93,1632.33 537.59,1637.78 539.24,1643.18 540.9,1648.53 542.55,1653.82 544.21,1659.05 545.86,1664.21 547.52,1669.31 549.18,1674.34 550.83,1679.29 552.49,1684.18 554.14,1688.98 555.8,1693.7 557.46,1698.35 559.11,1702.91 560.77,1707.38 562.42,1711.77 564.08,1716.07 565.73,1720.29 567.39,1724.41 569.05,1728.44 570.7,1732.38 572.36,1736.23 574.01,1739.99 575.67,1743.65 577.32,1747.23 578.98,1750.71 580.64,1754.09 582.29,1757.39 583.95,1760.59 585.6,1763.71 587.26,1766.73 588.91,1769.66 590.57,1772.51 592.23,1775.26 593.88,1777.93 595.54,1780.52 597.19,1783.01 598.85,1785.43 600.51,1787.76 602.16,1790.02 603.82,1792.19 605.47,1794.28 607.13,1796.3 608.78,1798.25 610.44,1800.12 612.1,1801.92 613.75,1803.65 615.41,1805.31 617.06,1806.91 618.72,1808.44 620.37,1809.91 622.03,1811.32 623.69,1812.67 625.34,1813.96 627,1815.19 628.65,1816.37 630.31,1817.5 631.96,1818.57 633.62,1819.6 635.28,1820.58 636.93,1821.51 638.59,1822.4 640.24,1823.25 641.9,1824.05 643.56,1824.82 645.21,1825.55 646.87,1826.24 648.52,1826.89 650.18,1827.52 651.83,1828.11 653.49,1828.66 655.15,1829.19 656.8,1829.69 658.46,1830.17 660.11,1830.62 661.77,1831.04 663.42,1831.44 665.08,1831.81 666.74,1832.17 668.39,1832.5" fill="none" stroke="#FFB0D8" stroke-width="3" stroke-linejoin="round" stroke-linecap="round"/>
<polyline points="173.32,1836.5 174.97,1836.43 176.63,1836.35 178.28,1836.27 179.94,1836.18 181.6,1836.09 183.25,1835.99 184.91,1835.88 186.56,1835.76 188.22,1835.64 189.87,1835.5 191.53,1835.36 193.19,1835.21 194.84,1835.04 196.5,1834.86 198.15,1834.67 199.81,1834.47 201.46,1834.25 203.12,1834.02 204.78,1833.77 206.43,1833.51 208.09,1833.23 209.74,1832.93 211.4,1832.61 213.06,1832.27 214.71,1831.91 216.37,1831.52 218.02,1831.11 219.68,1830.68 221.33,1830.22 222.99,1829.74 224.65,1829.22 226.3,1828.68 227.96,1828.1 229.61,1827.49 231.27,1826.84 232.92,1826.16 234.58,1825.44 236.24,1824.68 237.89,1823.88 239.55,1823.04 241.2,1822.16 242.86,1821.22 244.51,1820.24 246.17,1819.21 247.83,1818.13 249.48,1817 251.14,1815.81 252.79,1814.56 254.45,1813.26 256.11,1811.89 257.76,1810.46 259.42,1808.97 261.07,1807.4 262.73,1805.78 264.38,1804.08 266.04,1802.3 267.7,1800.46 269.35,1798.54 271.01,1796.54 272.66,1794.46 274.32,1792.3 275.97,1790.05 277.63,1787.73 279.29,1785.31 280.94,1782.81 282.6,1780.22 284.25,1777.54 285.91,1774.76 287.56,1771.9 289.22,1768.94 290.88,1765.88 292.53,1762.73 294.19,1759.48 295.84,1756.14 297.5,1752.69 299.16,1749.15 300.81,1745.51 302.47,1741.77 304.12,1737.93 305.78,1733.99 307.43,1729.96 309.09,1725.83 310.75,1721.6 312.4,1717.27 314.06,1712.85 315.71,1708.33 317.37,1703.73 319.02,1699.03 320.68,1694.24 322.34,1689.37 323.99,1684.41 325.65,1679.36 327.3,1674.24 328.96,1669.04 330.61,1663.77 332.27,1658.42 333.93,1653.01 335.58,1647.54 337.24,1642 338.89,1636.41 340.55,1630.76 342.21,1625.07 343.86,1619.33 345.52,1613.56 347.17,1607.75 348.83,1601.91 350.48,1596.05 352.14,1590.17 353.8,1584.28 355.45,1578.38 357.11,1572.47 358.76,1566.58 360.42,1560.69 362.07,1554.82 363.73,1548.97 365.39,1543.14 367.04,1537.36 368.7,1531.61 370.35,1525.91 372.01,1520.26 373.66,1514.67 375.32,1509.15 376.98,1503.7 378.63,1498.33 380.29,1493.04 381.94,1487.84 383.6,1482.74 385.26,1477.74 386.91,1472.85 388.57,1468.07 390.22,1463.42 391.88,1458.88 393.53,1454.48 395.19,1450.21 396.85,1446.08 398.5,1442.1 400.16,1438.27 401.81,1434.59 403.47,1431.06 405.12,1427.7 406.78,1424.5 408.44,1421.48 410.09,1418.62 411.75,1415.93 413.4,1413.42 415.06,1411.09 416.71,1408.94 418.37,1406.97 420.03,1405.18 421.68,1403.57 423.34,1402.15 424.99,1400.91 426.65,1399.84 428.31,1398.96 429.96,1398.26 431.62,1397.72 433.27,1397.36 434.93,1397.16 436.58,1397.11 438.24,1397.19 439.9,1397.43 441.55,1397.83 443.21,1398.4 444.86,1399.14 446.52,1400.06 448.17,1401.17 449.83,1402.45 451.49,1403.91 453.14,1405.56 454.8,1407.39 456.45,1409.4 458.11,1411.59 459.76,1413.97 461.42,1416.51 463.08,1419.24 464.73,1422.13 466.39,1425.2 468.04,1428.43 469.7,1431.83 471.36,1435.39 473.01,1439.11 474.67,1442.97 476.32,1446.99 477.98,1451.15 479.63,1455.45 481.29,1459.88 482.95,1464.44 484.6,1469.13 486.26,1473.93 487.91,1478.84 489.57,1483.87 491.22,1488.99 492.88,1494.21 494.54,1499.52 496.19,1504.91 497.85,1510.37 499.5,1515.91 501.16,1521.51 502.81,1527.17 504.47,1532.88 506.13,1538.64 507.78,1544.44 509.44,1550.26 511.09,1556.12 512.75,1562 514.41,1567.89 516.06,1573.79 517.72,1579.69 519.37,1585.59 521.03,1591.48 522.68,1597.35 524.34,1603.21 526,1609.04 527.65,1614.84 529.31,1620.61 530.96,1626.34 532.62,1632.02 534.27,1637.65 535.93,1643.24 537.59,1648.76 539.24,1654.22 540.9,1659.62 542.55,1664.95 544.21,1670.2 545.86,1675.39 547.52,1680.49 549.18,1685.51 550.83,1690.46 552.49,1695.31 554.14,1700.08 555.8,1704.76 557.46,1709.34 559.11,1713.84 560.77,1718.24 562.42,1722.54 564.08,1726.75 565.73,1730.86 567.39,1734.88 569.05,1738.79 570.7,1742.61 572.36,1746.33 574.01,1749.94 575.67,1753.47 577.32,1756.89 578.98,1760.21 580.64,1763.44 582.29,1766.57 583.95,1769.6 585.6,1772.54 587.26,1775.39 588.91,1778.14 590.57,1780.8 592.23,1783.37 593.88,1785.86 595.54,1788.25 597.19,1790.56 598.85,1792.78 600.51,1794.93 602.16,1796.99 603.82,1798.97 605.47,1800.88 607.13,1802.7 608.78,1804.46 610.44,1806.14 612.1,1807.76 613.75,1809.3 615.41,1810.78 617.06,1812.2 618.72,1813.55 620.37,1814.84 622.03,1816.08 623.69,1817.25 625.34,1818.38 627,1819.45 628.65,1820.47 630.31,1821.44 631.96,1822.36 633.62,1823.23 635.28,1824.07 636.93,1824.86 638.59,1825.6 640.24,1826.32 641.9,1826.99 643.56,1827.63 645.21,1828.23 646.87,1828.8 648.52,1829.34 650.18,1829.85 651.83,1830.33 653.49,1830.78 655.15,1831.21 656.8,1831.61 658.46,1831.99 660.11,1832.35 661.77,1832.68 663.42,1832.99 665.08,1833.29 666.74,1833.57 668.39,1833.83" fill="none" stroke="#F060A8" stroke-width="3" stroke-linejoin="round" stroke-linecap="round"/>
<polyline points="190.06,1836.79 191.66,1836.75 193.26,1836.7 194.86,1836.64 196.46,1836.58 198.06,1836.52 199.66,1836.45 201.26,1836.37 202.86,1836.29 204.46,1836.21 206.06,1836.11 207.66,1836.01 209.26,1835.9 210.86,1835.78 212.46,1835.66 214.05,1835.52 215.65,1835.38 217.25,1835.22 218.85,1835.05 220.45,1834.87 222.05,1834.68 223.65,1834.47 225.25,1834.25 226.85,1834.01 228.45,1833.75 230.05,1833.48 231.65,1833.19 233.25,1832.88 234.85,1832.55 236.45,1832.2 238.05,1831.82 239.65,1831.42 241.25,1831 242.85,1830.54 244.45,1830.06 246.05,1829.55 247.65,1829.01 249.25,1828.44 250.85,1827.83 252.45,1827.18 254.05,1826.5 255.65,1825.77 257.25,1825.01 258.85,1824.2 260.45,1823.35 262.05,1822.45 263.65,1821.5 265.25,1820.5 266.85,1819.45 268.45,1818.34 270.05,1817.18 271.65,1815.95 273.25,1814.67 274.85,1813.32 276.45,1811.9 278.05,1810.42 279.65,1808.87 281.25,1807.24 282.85,1805.54 284.45,1803.76 286.04,1801.9 287.64,1799.96 289.24,1797.94 290.84,1795.83 292.44,1793.63 294.04,1791.34 295.64,1788.96 297.24,1786.49 298.84,1783.92 300.44,1781.25 302.04,1778.48 303.64,1775.61 305.24,1772.63 306.84,1769.56 308.44,1766.37 310.04,1763.08 311.64,1759.68 313.24,1756.17 314.84,1752.55 316.44,1748.82 318.04,1744.98 319.64,1741.02 321.24,1736.96 322.84,1732.78 324.44,1728.49 326.04,1724.09 327.64,1719.58 329.24,1714.95 330.84,1710.22 332.44,1705.38 334.04,1700.44 335.64,1695.39 337.24,1690.24 338.84,1684.98 340.44,1679.63 342.04,1674.19 343.64,1668.65 345.24,1663.03 346.84,1657.32 348.44,1651.53 350.04,1645.66 351.64,1639.72 353.24,1633.72 354.84,1627.65 356.44,1621.52 358.03,1615.34 359.63,1609.11 361.23,1602.84 362.83,1596.54 364.43,1590.21 366.03,1583.85 367.63,1577.48 369.23,1571.11 370.83,1564.73 372.43,1558.36 374.03,1552 375.63,1545.67 377.23,1539.36 378.83,1533.09 380.43,1526.87 382.03,1520.7 383.63,1514.59 385.23,1508.55 386.83,1502.59 388.43,1496.72 390.03,1490.94 391.63,1485.26 393.23,1479.7 394.83,1474.25 396.43,1468.93 398.03,1463.75 399.63,1458.71 401.23,1453.82 402.83,1449.09 404.43,1444.52 406.03,1440.13 407.63,1435.92 409.23,1431.89 410.83,1428.06 412.43,1424.43 414.03,1421 415.63,1417.79 417.23,1414.79 418.83,1412.01 420.43,1409.46 422.03,1407.13 423.63,1405.05 425.23,1403.2 426.83,1401.59 428.43,1400.22 430.02,1399.1 431.62,1398.23 433.22,1397.6 434.82,1397.23 436.42,1397.11 438.02,1397.24 439.62,1397.62 441.22,1398.25 442.82,1399.13 444.42,1400.26 446.02,1401.63 447.62,1403.25 449.22,1405.11 450.82,1407.2 452.42,1409.53 454.02,1412.09 455.62,1414.87 457.22,1417.88 458.82,1421.1 460.42,1424.54 462.02,1428.17 463.62,1432.01 465.22,1436.04 466.82,1440.26 468.42,1444.66 470.02,1449.23 471.62,1453.96 473.22,1458.86 474.82,1463.9 476.42,1469.09 478.02,1474.41 479.62,1479.86 481.22,1485.43 482.82,1491.11 484.42,1496.89 486.02,1502.77 487.62,1508.73 489.22,1514.77 490.82,1520.88 492.42,1527.06 494.02,1533.28 495.62,1539.55 497.22,1545.86 498.82,1552.19 500.42,1558.55 502.01,1564.92 503.61,1571.3 505.21,1577.68 506.81,1584.04 508.41,1590.4 510.01,1596.73 511.61,1603.03 513.21,1609.3 514.81,1615.52 516.41,1621.7 518.01,1627.83 519.61,1633.9 521.21,1639.9 522.81,1645.84 524.41,1651.71 526.01,1657.49 527.61,1663.2 529.21,1668.82 530.81,1674.35 532.41,1679.8 534.01,1685.14 535.61,1690.39 537.21,1695.54 538.81,1700.59 540.41,1705.53 542.01,1710.36 543.61,1715.09 545.21,1719.71 546.81,1724.22 548.41,1728.62 550.01,1732.91 551.61,1737.08 553.21,1741.14 554.81,1745.09 556.41,1748.93 558.01,1752.66 559.61,1756.28 561.21,1759.78 562.81,1763.18 564.41,1766.47 566.01,1769.65 567.61,1772.72 569.21,1775.69 570.81,1778.56 572.41,1781.33 574,1783.99 575.6,1786.56 577.2,1789.03 578.8,1791.41 580.4,1793.7 582,1795.89 583.6,1798 585.2,1800.02 586.8,1801.96 588.4,1803.81 590,1805.59 591.6,1807.29 593.2,1808.91 594.8,1810.47 596.4,1811.95 598,1813.36 599.6,1814.71 601.2,1815.99 602.8,1817.21 604.4,1818.38 606,1819.48 607.6,1820.53 609.2,1821.53 610.8,1822.48 612.4,1823.38 614,1824.23 615.6,1825.03 617.2,1825.8 618.8,1826.52 620.4,1827.2 622,1827.84 623.6,1828.45 625.2,1829.03 626.8,1829.57 628.4,1830.08 630,1830.56 631.6,1831.01 633.2,1831.43 634.8,1831.83 636.4,1832.21 638,1832.56 639.6,1832.89 641.2,1833.2 642.8,1833.49 644.4,1833.76 645.99,1834.02 647.59,1834.25 649.19,1834.47 650.79,1834.68 652.39,1834.88 653.99,1835.06 655.59,1835.22 657.19,1835.38 658.79,1835.53 660.39,1835.66 661.99,1835.79 663.59,1835.91 665.19,1836.01 666.79,1836.12 668.39,1836.21" fill="none" stroke="#E6007A" stroke-width="3" stroke-linejoin="round" stroke-linecap="round"/>
<circle cx="174.99" cy="1804.78" r="3.3" fill="url(#sE2s)"/><circle cx="184.98" cy="1794.07" r="3.3" fill="url(#sE2s)"/><circle cx="194.5" cy="1800.02" r="3.3" fill="url(#sE2s)"/><circle cx="204.02" cy="1782.17" r="3.3" fill="url(#sE2s)"/><circle cx="213.54" cy="1785.74" r="3.3" fill="url(#sE2s)"/><circle cx="223.06" cy="1784.55" r="3.3" fill="url(#sE2s)"/><circle cx="232.58" cy="1786.93" r="3.3" fill="url(#sE2s)"/><circle cx="242.09" cy="1770.27" r="3.3" fill="url(#sE2s)"/><circle cx="251.61" cy="1761.94" r="3.3" fill="url(#sE2s)"/><circle cx="261.13" cy="1732.2" r="3.3" fill="url(#sE2s)"/><circle cx="270.89" cy="1734.58" r="3.3" fill="url(#sE2s)"/><circle cx="280.41" cy="1723.87" r="3.3" fill="url(#sE2s)"/><circle cx="289.93" cy="1711.97" r="3.3" fill="url(#sE2s)"/><circle cx="299.45" cy="1715.54" r="3.3" fill="url(#sE2s)"/><circle cx="308.96" cy="1689.36" r="3.3" fill="url(#sE2s)"/><circle cx="318.96" cy="1639.39" r="3.3" fill="url(#sE2s)"/><circle cx="328.48" cy="1631.06" r="3.3" fill="url(#sE2s)"/><circle cx="338" cy="1600.12" r="3.3" fill="url(#sE2s)"/><circle cx="347.52" cy="1577.52" r="3.3" fill="url(#sE2s)"/><circle cx="357.03" cy="1544.2" r="3.3" fill="url(#sE2s)"/><circle cx="366.55" cy="1518.02" r="3.3" fill="url(#sE2s)"/><circle cx="376.07" cy="1482.33" r="3.3" fill="url(#sE2s)"/><circle cx="385.59" cy="1496.61" r="3.3" fill="url(#sE2s)"/><circle cx="395.11" cy="1515.64" r="3.3" fill="url(#sE2s)"/><circle cx="423.67" cy="1395.47" r="3.3" fill="url(#sE2s)"/><circle cx="471.64" cy="1465.67" r="3.3" fill="url(#sE2s)"/><circle cx="491.87" cy="1507.31" r="3.3" fill="url(#sE2s)"/><circle cx="500.2" cy="1529.92" r="3.3" fill="url(#sE2s)"/><circle cx="520.43" cy="1560.86" r="3.3" fill="url(#sE2s)"/><circle cx="528.76" cy="1627.49" r="3.3" fill="url(#sE2s)"/><circle cx="539.47" cy="1639.39" r="3.3" fill="url(#sE2s)"/><circle cx="548.99" cy="1664.37" r="3.3" fill="url(#sE2s)"/><circle cx="568.02" cy="1717.92" r="3.3" fill="url(#sE2s)"/><circle cx="577.54" cy="1736.96" r="3.3" fill="url(#sE2s)"/><circle cx="587.06" cy="1755.99" r="3.3" fill="url(#sE2s)"/><circle cx="596.58" cy="1770.27" r="3.3" fill="url(#sE2s)"/><circle cx="606.1" cy="1786.93" r="3.3" fill="url(#sE2s)"/><circle cx="615.62" cy="1795.26" r="3.3" fill="url(#sE2s)"/><circle cx="625.14" cy="1803.59" r="3.3" fill="url(#sE2s)"/><circle cx="634.65" cy="1808.35" r="3.3" fill="url(#sE2s)"/><circle cx="644.17" cy="1808.35" r="3.3" fill="url(#sE2s)"/><circle cx="653.69" cy="1807.16" r="3.3" fill="url(#sE2s)"/><circle cx="663.21" cy="1815.49" r="3.3" fill="url(#sE2s)"/>
<circle cx="167.85" cy="1811.92" r="3.3" fill="url(#sE1s)"/><circle cx="177.37" cy="1816.68" r="3.3" fill="url(#sE1s)"/><circle cx="187.36" cy="1808.35" r="3.3" fill="url(#sE1s)"/><circle cx="196.88" cy="1807.16" r="3.3" fill="url(#sE1s)"/><circle cx="206.4" cy="1802.4" r="3.3" fill="url(#sE1s)"/><circle cx="215.92" cy="1800.02" r="3.3" fill="url(#sE1s)"/><circle cx="225.44" cy="1796.45" r="3.3" fill="url(#sE1s)"/><circle cx="234.96" cy="1782.17" r="3.3" fill="url(#sE1s)"/><circle cx="244.47" cy="1773.84" r="3.3" fill="url(#sE1s)"/><circle cx="253.99" cy="1771.46" r="3.3" fill="url(#sE1s)"/><circle cx="263.51" cy="1763.13" r="3.3" fill="url(#sE1s)"/><circle cx="273.27" cy="1742.91" r="3.3" fill="url(#sE1s)"/><circle cx="282.79" cy="1733.39" r="3.3" fill="url(#sE1s)"/><circle cx="292.31" cy="1715.54" r="3.3" fill="url(#sE1s)"/><circle cx="301.83" cy="1702.45" r="3.3" fill="url(#sE1s)"/><circle cx="311.82" cy="1675.08" r="3.3" fill="url(#sE1s)"/><circle cx="321.34" cy="1658.43" r="3.3" fill="url(#sE1s)"/><circle cx="330.86" cy="1621.54" r="3.3" fill="url(#sE1s)"/><circle cx="340.38" cy="1601.31" r="3.3" fill="url(#sE1s)"/><circle cx="349.9" cy="1577.52" r="3.3" fill="url(#sE1s)"/><circle cx="359.41" cy="1541.82" r="3.3" fill="url(#sE1s)"/><circle cx="368.93" cy="1518.02" r="3.3" fill="url(#sE1s)"/><circle cx="378.45" cy="1481.14" r="3.3" fill="url(#sE1s)"/><circle cx="387.97" cy="1450.2" r="3.3" fill="url(#sE1s)"/><circle cx="397.49" cy="1439.49" r="3.3" fill="url(#sE1s)"/><circle cx="407.01" cy="1419.27" r="3.3" fill="url(#sE1s)"/><circle cx="416.53" cy="1406.18" r="3.3" fill="url(#sE1s)"/><circle cx="435.95" cy="1396.66" r="3.3" fill="url(#sE1s)"/><circle cx="464.51" cy="1444.25" r="3.3" fill="url(#sE1s)"/><circle cx="474.02" cy="1470.43" r="3.3" fill="url(#sE1s)"/><circle cx="483.54" cy="1501.36" r="3.3" fill="url(#sE1s)"/><circle cx="493.06" cy="1539.44" r="3.3" fill="url(#sE1s)"/><circle cx="502.58" cy="1553.72" r="3.3" fill="url(#sE1s)"/><circle cx="522.81" cy="1639.39" r="3.3" fill="url(#sE1s)"/><circle cx="532.33" cy="1645.34" r="3.3" fill="url(#sE1s)"/><circle cx="541.85" cy="1685.79" r="3.3" fill="url(#sE1s)"/><circle cx="551.36" cy="1717.92" r="3.3" fill="url(#sE1s)"/><circle cx="560.88" cy="1735.77" r="3.3" fill="url(#sE1s)"/><circle cx="570.4" cy="1758.37" r="3.3" fill="url(#sE1s)"/><circle cx="579.92" cy="1769.08" r="3.3" fill="url(#sE1s)"/><circle cx="589.44" cy="1779.79" r="3.3" fill="url(#sE1s)"/><circle cx="598.96" cy="1798.83" r="3.3" fill="url(#sE1s)"/><circle cx="608.48" cy="1803.59" r="3.3" fill="url(#sE1s)"/><circle cx="618" cy="1813.11" r="3.3" fill="url(#sE1s)"/><circle cx="627.52" cy="1817.87" r="3.3" fill="url(#sE1s)"/><circle cx="637.03" cy="1820.25" r="3.3" fill="url(#sE1s)"/><circle cx="646.55" cy="1822.63" r="3.3" fill="url(#sE1s)"/><circle cx="656.07" cy="1825.48" r="3.3" fill="url(#sE1s)"/>
<circle cx="177.37" cy="1827.38" r="3.3" fill="url(#sE0s)"/><circle cx="187.36" cy="1822.63" r="3.3" fill="url(#sE0s)"/><circle cx="196.88" cy="1824.53" r="3.3" fill="url(#sE0s)"/><circle cx="206.4" cy="1820.25" r="3.3" fill="url(#sE0s)"/><circle cx="215.92" cy="1822.15" r="3.3" fill="url(#sE0s)"/><circle cx="225.44" cy="1815.49" r="3.3" fill="url(#sE0s)"/><circle cx="234.96" cy="1813.11" r="3.3" fill="url(#sE0s)"/><circle cx="244.47" cy="1811.2" r="3.3" fill="url(#sE0s)"/><circle cx="253.99" cy="1808.35" r="3.3" fill="url(#sE0s)"/><circle cx="263.51" cy="1805.97" r="3.3" fill="url(#sE0s)"/><circle cx="273.27" cy="1797.64" r="3.3" fill="url(#sE0s)"/><circle cx="282.79" cy="1786.93" r="3.3" fill="url(#sE0s)"/><circle cx="292.31" cy="1784.55" r="3.3" fill="url(#sE0s)"/><circle cx="301.83" cy="1764.32" r="3.3" fill="url(#sE0s)"/><circle cx="311.82" cy="1746.47" r="3.3" fill="url(#sE0s)"/><circle cx="321.34" cy="1727.44" r="3.3" fill="url(#sE0s)"/><circle cx="330.86" cy="1707.21" r="3.3" fill="url(#sE0s)"/><circle cx="340.38" cy="1684.6" r="3.3" fill="url(#sE0s)"/><circle cx="349.9" cy="1662" r="3.3" fill="url(#sE0s)"/><circle cx="359.41" cy="1625.11" r="3.3" fill="url(#sE0s)"/><circle cx="368.93" cy="1583.46" r="3.3" fill="url(#sE0s)"/><circle cx="378.45" cy="1557.29" r="3.3" fill="url(#sE0s)"/><circle cx="387.97" cy="1509.69" r="3.3" fill="url(#sE0s)"/><circle cx="397.49" cy="1483.52" r="3.3" fill="url(#sE0s)"/><circle cx="407.01" cy="1452.58" r="3.3" fill="url(#sE0s)"/><circle cx="416.53" cy="1421.64" r="3.3" fill="url(#sE0s)"/><circle cx="435.95" cy="1397.85" r="3.3" fill="url(#sE0s)"/><circle cx="464.51" cy="1440.68" r="3.3" fill="url(#sE0s)"/><circle cx="494.25" cy="1531.11" r="3.3" fill="url(#sE0s)"/><circle cx="503.77" cy="1550.15" r="3.3" fill="url(#sE0s)"/><circle cx="513.29" cy="1601.31" r="3.3" fill="url(#sE0s)"/><circle cx="521.62" cy="1646.53" r="3.3" fill="url(#sE0s)"/><circle cx="532.33" cy="1666.75" r="3.3" fill="url(#sE0s)"/><circle cx="541.85" cy="1691.74" r="3.3" fill="url(#sE0s)"/><circle cx="551.36" cy="1733.39" r="3.3" fill="url(#sE0s)"/><circle cx="560.88" cy="1751.23" r="3.3" fill="url(#sE0s)"/><circle cx="570.4" cy="1758.37" r="3.3" fill="url(#sE0s)"/><circle cx="579.92" cy="1783.36" r="3.3" fill="url(#sE0s)"/><circle cx="589.44" cy="1796.45" r="3.3" fill="url(#sE0s)"/><circle cx="598.96" cy="1801.21" r="3.3" fill="url(#sE0s)"/><circle cx="608.48" cy="1808.35" r="3.3" fill="url(#sE0s)"/><circle cx="618" cy="1814.3" r="3.3" fill="url(#sE0s)"/><circle cx="627.52" cy="1821.44" r="3.3" fill="url(#sE0s)"/><circle cx="637.03" cy="1822.63" r="3.3" fill="url(#sE0s)"/><circle cx="646.55" cy="1829.76" r="3.3" fill="url(#sE0s)"/><circle cx="656.07" cy="1825" r="3.3" fill="url(#sE0s)"/><circle cx="665.59" cy="1828.57" r="3.3" fill="url(#sE0s)"/>
</g>
<rect x="156.9" y="1385.1" width="212.6" height="85.2" fill="#B8B8B8"/>
<text transform="translate(161.5,1416.5) scale(1,1.07)" font-size="30.4">Li-TFSI treated</text>
<text transform="translate(161.5,1453.8) scale(1,1.07)" font-size="30.4">MoS<tspan font-size="20" dy="8">2</tspan></text>
<rect x="537.4" y="1382.6" width="66.7" height="32.6" fill="url(#irfEbox)" stroke="#333" stroke-width="1"/>
<text transform="translate(615.6,1409.6) scale(1,1.07)" font-size="30.4">IRF</text>
<circle cx="573" cy="1435.3" r="3.4" fill="url(#sE0s)"/>
<circle cx="573" cy="1473.9" r="3.4" fill="url(#sE1s)"/>
<circle cx="573" cy="1511.5" r="3.4" fill="url(#sE2s)"/>
<text transform="translate(615.6,1446.5) scale(1,1.07)" font-size="30.4">0 ns</text>
<text transform="translate(615.6,1484.5) scale(1,1.07)" font-size="30.4">0.55 ns</text>
<text transform="translate(615.6,1522.3) scale(1,1.07)" font-size="30.4">3 ns</text>
<text x="786" y="1383.5" font-size="45" font-weight="bold">f</text>
<rect x="931.2" y="1365.2" width="557.6" height="471" fill="none" stroke="#000" stroke-width="2.05"/>
<line x1="967.78" y1="1836.2" x2="967.78" y2="1845.2" stroke="#000" stroke-width="1.9"/>
<text transform="translate(967.78,1877) scale(1,1.07)" font-size="30.3" text-anchor="middle">0.00</text>
<line x1="1060.82" y1="1836.2" x2="1060.82" y2="1845.2" stroke="#000" stroke-width="1.9"/>
<text transform="translate(1060.82,1877) scale(1,1.07)" font-size="30.3" text-anchor="middle">0.25</text>
<line x1="1153.86" y1="1836.2" x2="1153.86" y2="1845.2" stroke="#000" stroke-width="1.9"/>
<text transform="translate(1153.86,1877) scale(1,1.07)" font-size="30.3" text-anchor="middle">0.50</text>
<line x1="1246.9" y1="1836.2" x2="1246.9" y2="1845.2" stroke="#000" stroke-width="1.9"/>
<text transform="translate(1246.9,1877) scale(1,1.07)" font-size="30.3" text-anchor="middle">0.75</text>
<line x1="1339.94" y1="1836.2" x2="1339.94" y2="1845.2" stroke="#000" stroke-width="1.9"/>
<text transform="translate(1339.94,1877) scale(1,1.07)" font-size="30.3" text-anchor="middle">1.00</text>
<line x1="1432.98" y1="1836.2" x2="1432.98" y2="1845.2" stroke="#000" stroke-width="1.9"/>
<text transform="translate(1432.98,1877) scale(1,1.07)" font-size="30.3" text-anchor="middle">1.25</text>
<line x1="1014.3" y1="1836.2" x2="1014.3" y2="1840.7" stroke="#000" stroke-width="1.9"/>
<line x1="1107.34" y1="1836.2" x2="1107.34" y2="1840.7" stroke="#000" stroke-width="1.9"/>
<line x1="1200.38" y1="1836.2" x2="1200.38" y2="1840.7" stroke="#000" stroke-width="1.9"/>
<line x1="1293.42" y1="1836.2" x2="1293.42" y2="1840.7" stroke="#000" stroke-width="1.9"/>
<line x1="1386.46" y1="1836.2" x2="1386.46" y2="1840.7" stroke="#000" stroke-width="1.9"/>
<line x1="1479.5" y1="1836.2" x2="1479.5" y2="1840.7" stroke="#000" stroke-width="1.9"/>
<line x1="922.2" y1="1820.45" x2="931.2" y2="1820.45" stroke="#000" stroke-width="1.9"/>
<text transform="translate(916.5,1829.95) scale(1,1.07)" font-size="30.3" text-anchor="end">7.2</text>
<line x1="922.2" y1="1749.56" x2="931.2" y2="1749.56" stroke="#000" stroke-width="1.9"/>
<text transform="translate(916.5,1759.06) scale(1,1.07)" font-size="30.3" text-anchor="end">8.1</text>
<line x1="922.2" y1="1678.67" x2="931.2" y2="1678.67" stroke="#000" stroke-width="1.9"/>
<text transform="translate(916.5,1688.17) scale(1,1.07)" font-size="30.3" text-anchor="end">9.0</text>
<line x1="922.2" y1="1607.79" x2="931.2" y2="1607.79" stroke="#000" stroke-width="1.9"/>
<text transform="translate(916.5,1617.29) scale(1,1.07)" font-size="30.3" text-anchor="end">9.9</text>
<line x1="922.2" y1="1536.9" x2="931.2" y2="1536.9" stroke="#000" stroke-width="1.9"/>
<text transform="translate(916.5,1546.4) scale(1,1.07)" font-size="30.3" text-anchor="end">10.8</text>
<line x1="922.2" y1="1466.02" x2="931.2" y2="1466.02" stroke="#000" stroke-width="1.9"/>
<text transform="translate(916.5,1475.52) scale(1,1.07)" font-size="30.3" text-anchor="end">11.7</text>
<line x1="922.2" y1="1395.13" x2="931.2" y2="1395.13" stroke="#000" stroke-width="1.9"/>
<text transform="translate(916.5,1404.63) scale(1,1.07)" font-size="30.3" text-anchor="end">12.6</text>
<line x1="926.7" y1="1785" x2="931.2" y2="1785" stroke="#000" stroke-width="1.9"/>
<line x1="926.7" y1="1714.12" x2="931.2" y2="1714.12" stroke="#000" stroke-width="1.9"/>
<line x1="926.7" y1="1643.23" x2="931.2" y2="1643.23" stroke="#000" stroke-width="1.9"/>
<line x1="926.7" y1="1572.35" x2="931.2" y2="1572.35" stroke="#000" stroke-width="1.9"/>
<line x1="926.7" y1="1501.46" x2="931.2" y2="1501.46" stroke="#000" stroke-width="1.9"/>
<line x1="926.7" y1="1430.57" x2="931.2" y2="1430.57" stroke="#000" stroke-width="1.9"/>
<text x="1213.4" y="1921.4" font-size="50.5" text-anchor="middle">Time (ns)</text>
<text transform="translate(831.7,1751.5) rotate(-90)" font-size="50.5"><tspan font-style="italic">&#963;</tspan><tspan font-style="italic" font-size="33.5" dy="12.3">t</tspan><tspan font-size="33.5" dy="-26.8">2</tspan><tspan dy="14.5">(cm</tspan><tspan font-size="33.5" dy="-14.5">2</tspan><tspan dy="14.5">) &#215;10</tspan><tspan font-size="33.5" dy="-14.5">10</tspan></text>
<circle cx="967.78" cy="1805.17" r="5.85" fill="url(#sFv)"/><circle cx="986.39" cy="1787.37" r="5.85" fill="url(#sFv)"/><circle cx="1023.61" cy="1773.98" r="5.85" fill="url(#sFv)"/><circle cx="1060.82" cy="1760.59" r="5.85" fill="url(#sFv)"/><circle cx="1135.25" cy="1747.2" r="5.85" fill="url(#sFv)"/><circle cx="1172.47" cy="1756.65" r="5.85" fill="url(#sFv)"/><circle cx="1209.68" cy="1786.58" r="5.85" fill="url(#sFv)"/>
<line x1="967.78" y1="1800.76" x2="1060.82" y2="1760.59" stroke="#8000FF" stroke-width="2.6"/>
<circle cx="967.78" cy="1766.1" r="5.85" fill="url(#sFp)"/><circle cx="978.95" cy="1747.99" r="5.85" fill="url(#sFp)"/><circle cx="993.83" cy="1738.53" r="5.85" fill="url(#sFp)"/><circle cx="1012.44" cy="1720.42" r="5.85" fill="url(#sFp)"/><circle cx="1042.21" cy="1688.13" r="5.85" fill="url(#sFp)"/><circle cx="1079.43" cy="1615.66" r="5.85" fill="url(#sFp)"/><circle cx="1094.32" cy="1636.93" r="5.85" fill="url(#sFp)"/><circle cx="1172.47" cy="1540.84" r="5.85" fill="url(#sFp)"/><circle cx="1246.9" cy="1499.1" r="5.85" fill="url(#sFp)"/><circle cx="1339.94" cy="1423.48" r="5.85" fill="url(#sFp)"/>
<line x1="967.78" y1="1754.52" x2="1339.94" y2="1406.39" stroke="#FF0000" stroke-width="2.8"/>
<text transform="translate(1014.5,1419.5) scale(1,1.07)" font-size="30.4" fill="#FA0080">Li-TFSI treated MoS<tspan font-size="20" dy="8">2</tspan></text>
<text transform="translate(1014.5,1465.2) scale(1,1.07)" font-size="30.4" fill="#FA0080">D<tspan font-size="20" dy="7.6">Li-TFSI</tspan><tspan dy="-7.6">=0.22 cm</tspan><tspan font-size="20" dy="-10">2</tspan><tspan dy="10">s</tspan><tspan font-size="20" dy="-10">-1</tspan></text>
<text transform="translate(1201,1704.5) scale(1,1.07)" font-size="30.4" fill="#8000FF">H-TFSI treated MoS<tspan font-size="20" dy="8">2</tspan></text>
<text transform="translate(1201,1750.2) scale(1,1.07)" font-size="30.4" fill="#8000FF">D<tspan font-size="20" dy="7.6">H-TFSI</tspan><tspan dy="-7.6">=0.1 cm</tspan><tspan font-size="20" dy="-10">2</tspan><tspan dy="10">s</tspan><tspan font-size="20" dy="-10">-1</tspan></text>
</svg></body></html>
